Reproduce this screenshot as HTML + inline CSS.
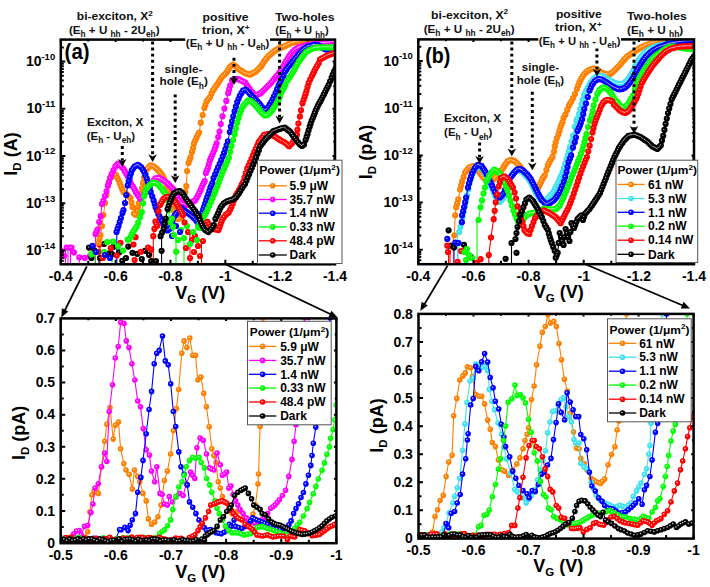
<!DOCTYPE html>
<html><head><meta charset="utf-8"><style>html,body{margin:0;padding:0;background:#fff}svg{display:block}</style></head>
<body><svg width="710" height="587" viewBox="0 0 710 587">
<rect width="710" height="587" fill="#fff"/>
<clipPath id="clipa"><rect x="60.8" y="39.6" width="274.2" height="224.70000000000002"/></clipPath>
<clipPath id="clipb"><rect x="418.3" y="39.4" width="275.7" height="224.79999999999998"/></clipPath>
<clipPath id="clipc"><rect x="60.7" y="318.4" width="275.7" height="224.80000000000007"/></clipPath>
<clipPath id="clipd"><rect x="418.5" y="313.9" width="275.1" height="224.70000000000005"/></clipPath>
<g clip-path="url(#clipa)"><line x1="65.5" y1="250" x2="65.5" y2="264.3" stroke="#FF00FF" stroke-width="1.1"/>
<line x1="68" y1="248" x2="68" y2="264.3" stroke="#FF00FF" stroke-width="1.1"/>
<line x1="70.5" y1="248" x2="70.5" y2="264.3" stroke="#FF00FF" stroke-width="1.1"/>
<line x1="79.3" y1="257" x2="79.3" y2="264.3" stroke="#FF00FF" stroke-width="1.1"/>
<line x1="95.5" y1="232" x2="95.5" y2="264.3" stroke="#FF00FF" stroke-width="1.1"/>
<line x1="116.8" y1="231" x2="116.8" y2="264.3" stroke="#0000FF" stroke-width="1.1"/>
<line x1="153.3" y1="236" x2="153.3" y2="264.3" stroke="#FF0000" stroke-width="1.1"/>
<line x1="201.5" y1="240" x2="201.5" y2="264.3" stroke="#FF0000" stroke-width="1.1"/>
<line x1="100" y1="246" x2="100" y2="264.3" stroke="#FF0000" stroke-width="1.1"/>
<line x1="190" y1="232" x2="190" y2="264.3" stroke="#FF0000" stroke-width="1.1"/>
<line x1="161.6" y1="236" x2="161.6" y2="264.3" stroke="#000000" stroke-width="1.1"/>
<line x1="99" y1="258" x2="99" y2="264.3" stroke="#000000" stroke-width="1.1"/>
<line x1="176" y1="240" x2="176" y2="264.3" stroke="#00FF00" stroke-width="1.1"/>
<line x1="95" y1="250" x2="95" y2="264.3" stroke="#00FF00" stroke-width="1.1"/>
<line x1="112" y1="242" x2="112" y2="264.3" stroke="#00FF00" stroke-width="1.1"/>
<line x1="184" y1="238" x2="184" y2="264.3" stroke="#00FF00" stroke-width="1.1"/>
<path d="M61.2 251.2h0M64.2 256.0h0M66.7 247.6h0M69.7 247.6h0M71.5 247.6h0M73.9 252.4h0M79.3 257.3h0M84.8 257.9h0M90.0 256.0h0M93.0 247.0h0" stroke="#FF00FF" stroke-width="6.2" stroke-linecap="round"/><path d="M60.7 250.7h0M63.7 255.5h0M66.2 247.1h0M69.2 247.1h0M71.0 247.1h0M73.4 251.9h0M78.8 256.8h0M84.3 257.4h0M89.5 255.5h0M92.5 246.5h0" stroke="#fff" stroke-width="1.1" stroke-linecap="round" opacity="0.85"/>
<path d="M89.0 247.6h0M94.5 250.6h0M91.4 257.9h0M104.1 244.0h0M113.2 247.0h0M108.4 253.6h0M112.0 254.2h0M119.2 252.4h0M122.3 260.9h0M128.3 246.6h0M132.5 252.8h0M137.2 253.9h0M141.8 259.1h0M145.0 250.8h0M149.1 254.9h0M151.2 261.2h0M155.9 261.2h0M161.6 250.8h0M100.0 258.0h0M126.0 258.0h0" stroke="#000000" stroke-width="6.2" stroke-linecap="round"/><path d="M88.5 247.1h0M94.0 250.1h0M90.9 257.4h0M103.6 243.5h0M112.7 246.5h0M107.9 253.1h0M111.5 253.7h0M118.7 251.9h0M121.8 260.4h0M127.8 246.1h0M132.0 252.3h0M136.7 253.4h0M141.3 258.6h0M144.5 250.3h0M148.6 254.4h0M150.7 260.7h0M155.4 260.7h0M161.1 250.3h0M99.5 257.5h0M125.5 257.5h0" stroke="#fff" stroke-width="1.1" stroke-linecap="round" opacity="0.85"/>
<path d="M99.3 244.6h0M98.7 251.8h0M102.9 257.9h0M110.8 248.2h0M120.5 242.8h0M116.8 255.5h0M135.6 237.2h0M133.5 244.5h0M134.6 260.1h0M140.8 251.8h0M148.1 247.6h0M151.2 249.7h0M188.0 232.0h0M192.0 240.0h0M186.0 248.0h0M195.0 236.0h0M198.0 246.0h0M200.0 256.0h0M203.0 241.0h0M194.0 252.0h0M190.0 258.0h0" stroke="#FF0000" stroke-width="6.2" stroke-linecap="round"/><path d="M98.8 244.1h0M98.2 251.3h0M102.4 257.4h0M110.3 247.7h0M120.0 242.3h0M116.3 255.0h0M135.1 236.7h0M133.0 244.0h0M134.1 259.6h0M140.3 251.3h0M147.6 247.1h0M150.7 249.2h0M187.5 231.5h0M191.5 239.5h0M185.5 247.5h0M194.5 235.5h0M197.5 245.5h0M199.5 255.5h0M202.5 240.5h0M193.5 251.5h0M189.5 257.5h0" stroke="#fff" stroke-width="1.1" stroke-linecap="round" opacity="0.85"/>
<path d="M91.4 254.2h0M107.2 242.2h0M113.2 241.6h0M122.9 250.6h0M127.7 239.7h0M118.0 246.0h0M104.0 252.0h0M176.2 251.7h0M178.0 240.0h0M181.0 230.0h0M184.0 238.0h0M187.0 226.0h0M190.0 244.0h0M193.0 232.0h0M197.0 240.0h0M200.0 228.0h0" stroke="#00FF00" stroke-width="6.2" stroke-linecap="round"/><path d="M90.9 253.7h0M106.7 241.7h0M112.7 241.1h0M122.4 250.1h0M127.2 239.2h0M117.5 245.5h0M103.5 251.5h0M175.7 251.2h0M177.5 239.5h0M180.5 229.5h0M183.5 237.5h0M186.5 225.5h0M189.5 243.5h0M192.5 231.5h0M196.5 239.5h0M199.5 227.5h0" stroke="#fff" stroke-width="1.1" stroke-linecap="round" opacity="0.85"/>
<path d="M92.6 245.8h0M96.0 252.0h0M105.0 255.0h0M110.0 258.0h0M176.0 226.0h0M180.0 232.0h0M172.0 236.0h0" stroke="#0000FF" stroke-width="6.2" stroke-linecap="round"/><path d="M92.1 245.3h0M95.5 251.5h0M104.5 254.5h0M109.5 257.5h0M175.5 225.5h0M179.5 231.5h0M171.5 235.5h0" stroke="#fff" stroke-width="1.1" stroke-linecap="round" opacity="0.85"/>
<path d="M98.5 243.0L99.5 239.0L100.5 235.0L102.0 226.0L103.5 215.0L105.0 203.0L106.5 195.0L108.0 186.0L109.0 182.0L110.0 178.0L111.5 176.8L113.0 175.5L114.5 175.2L116.0 175.0L117.2 177.5L118.5 180.0L119.8 183.2L121.0 186.5L122.2 189.2L123.5 192.0L124.8 193.0L126.2 194.0L127.5 195.0L129.0 196.5L130.5 198.0L131.5 202.5L132.5 207.0L134.0 213.5L135.0 214.2L136.0 215.0L137.0 211.0L138.0 207.0L139.0 203.0L140.0 199.0L141.0 193.7L142.0 188.3L143.0 182.9L144.0 177.5L145.5 173.2L147.0 169.0L148.2 167.8L149.3 166.6L150.5 165.4L151.7 165.8L152.8 166.2L154.0 166.6L155.3 167.7L156.7 168.9L158.0 170.0L159.2 171.4L160.3 172.7L161.5 174.1L162.8 176.3L164.0 178.5L165.5 182.2L167.0 186.0L168.5 190.5L170.0 195.0L171.2 200.5L172.5 206.0L173.8 210.5L175.0 215.0L176.5 217.0L178.0 219.0L179.5 218.5L181.0 218.0L182.0 214.0L183.0 210.0L184.3 198.0L185.3 192.1L186.3 186.2L187.1 171.0L188.5 163.0L189.7 159.8L190.6 157.3L192.0 152.0L193.1 147.9L194.0 143.6L195.2 140.6L196.5 137.7L197.8 135.1L199.1 132.6L200.8 122.7L202.7 115.0L204.4 108.0L205.5 104.8L206.6 101.5L207.7 100.0L208.9 98.5L210.0 97.0L211.5 93.7L213.0 90.4L214.2 88.8L215.3 87.1L216.4 85.5L217.6 83.8L219.1 81.5L220.5 79.3L222.0 77.0L223.5 75.6L225.0 74.1L226.5 72.7L227.6 70.9L228.7 69.0L229.8 67.2L231.4 65.8L233.0 64.5L234.5 65.5L236.0 66.5L237.3 67.8L238.7 69.0L240.1 70.0L241.6 70.9L243.0 71.8L244.4 72.8L245.8 73.3L247.2 73.8L248.6 74.2L250.0 74.7L251.4 74.0L252.8 73.2L254.2 72.5L255.6 71.8L257.0 70.4L258.4 69.0L259.8 67.6L261.2 66.2L262.5 64.2L263.7 62.3L265.0 60.3L266.1 58.9L267.3 57.5L268.4 56.1L269.7 55.0L270.9 54.0L272.2 52.9L273.5 51.8L274.8 50.9L276.1 50.1L277.3 49.2L278.6 48.4L279.9 48.0L281.2 47.5L282.5 47.1L283.8 46.7L285.1 46.1L286.3 45.4L287.6 44.8L288.8 44.1L290.1 43.6L291.4 43.1L292.7 42.6L294.0 42.4L295.2 42.1L296.5 41.9L297.8 41.6L299.0 41.4L300.3 41.1L301.6 41.0L302.9 40.8L304.1 40.7L305.4 40.6L306.7 40.4L308.0 40.3L309.3 40.2L310.5 40.2L311.8 40.1L313.1 40.1L314.3 40.0L315.6 40.0L316.9 40.0L318.3 40.0L319.6 40.0L321.0 40.0L322.3 40.0L323.7 40.0L325.0 40.0L326.3 40.0L327.7 40.0L329.0 40.0L330.3 40.0L331.7 40.0L333.0 40.0L334.3 40.0L335.7 40.0L337.0 40.0" fill="none" stroke="#FF8000" stroke-width="1.1"/><path d="M98.5 243.0h0M99.5 239.0h0M100.5 235.0h0M102.0 226.0h0M103.5 215.0h0M105.0 203.0h0M106.5 195.0h0M108.0 186.0h0M109.0 182.0h0M110.0 178.0h0M111.5 176.8h0M113.0 175.5h0M114.5 175.2h0M116.0 175.0h0M117.2 177.5h0M118.5 180.0h0M119.8 183.2h0M121.0 186.5h0M122.2 189.2h0M123.5 192.0h0M124.8 193.0h0M126.2 194.0h0M127.5 195.0h0M129.0 196.5h0M130.5 198.0h0M131.5 202.5h0M132.5 207.0h0M134.0 213.5h0M135.0 214.2h0M136.0 215.0h0M137.0 211.0h0M138.0 207.0h0M139.0 203.0h0M140.0 199.0h0M141.0 193.7h0M142.0 188.3h0M143.0 182.9h0M144.0 177.5h0M145.5 173.2h0M147.0 169.0h0M148.2 167.8h0M149.3 166.6h0M150.5 165.4h0M151.7 165.8h0M152.8 166.2h0M154.0 166.6h0M155.3 167.7h0M156.7 168.9h0M158.0 170.0h0M159.2 171.4h0M160.3 172.7h0M161.5 174.1h0M162.8 176.3h0M164.0 178.5h0M165.5 182.2h0M167.0 186.0h0M168.5 190.5h0M170.0 195.0h0M171.2 200.5h0M172.5 206.0h0M173.8 210.5h0M175.0 215.0h0M176.5 217.0h0M178.0 219.0h0M179.5 218.5h0M181.0 218.0h0M182.0 214.0h0M183.0 210.0h0M184.3 198.0h0M185.3 192.1h0M186.3 186.2h0M187.1 171.0h0M188.5 163.0h0M189.7 159.8h0M190.6 157.3h0M192.0 152.0h0M193.1 147.9h0M194.0 143.6h0M195.2 140.6h0M196.5 137.7h0M197.8 135.1h0M199.1 132.6h0M200.8 122.7h0M202.7 115.0h0M204.4 108.0h0M205.5 104.8h0M206.6 101.5h0M207.7 100.0h0M208.9 98.5h0M210.0 97.0h0M211.5 93.7h0M213.0 90.4h0M214.2 88.8h0M215.3 87.1h0M216.4 85.5h0M217.6 83.8h0M219.1 81.5h0M220.5 79.3h0M222.0 77.0h0M223.5 75.6h0M225.0 74.1h0M226.5 72.7h0M227.6 70.9h0M228.7 69.0h0M229.8 67.2h0M231.4 65.8h0M233.0 64.5h0M234.5 65.5h0M236.0 66.5h0M237.3 67.8h0M238.7 69.0h0M240.1 70.0h0M241.6 70.9h0M243.0 71.8h0M244.4 72.8h0M245.8 73.3h0M247.2 73.8h0M248.6 74.2h0M250.0 74.7h0M251.4 74.0h0M252.8 73.2h0M254.2 72.5h0M255.6 71.8h0M257.0 70.4h0M258.4 69.0h0M259.8 67.6h0M261.2 66.2h0M262.5 64.2h0M263.7 62.3h0M265.0 60.3h0M266.1 58.9h0M267.3 57.5h0M268.4 56.1h0M269.7 55.0h0M270.9 54.0h0M272.2 52.9h0M273.5 51.8h0M274.8 50.9h0M276.1 50.1h0M277.3 49.2h0M278.6 48.4h0M279.9 48.0h0M281.2 47.5h0M282.5 47.1h0M283.8 46.7h0M285.1 46.1h0M286.3 45.4h0M287.6 44.8h0M288.8 44.1h0M290.1 43.6h0M291.4 43.1h0M292.7 42.6h0M294.0 42.4h0M295.2 42.1h0M296.5 41.9h0M297.8 41.6h0M299.0 41.4h0M300.3 41.1h0M301.6 41.0h0M302.9 40.8h0M304.1 40.7h0M305.4 40.6h0M306.7 40.4h0M308.0 40.3h0M309.3 40.2h0M310.5 40.2h0M311.8 40.1h0M313.1 40.1h0M314.3 40.0h0M315.6 40.0h0M316.9 40.0h0M318.3 40.0h0M319.6 40.0h0M321.0 40.0h0M322.3 40.0h0M323.7 40.0h0M325.0 40.0h0M326.3 40.0h0M327.7 40.0h0M329.0 40.0h0M330.3 40.0h0M331.7 40.0h0M333.0 40.0h0M334.3 40.0h0M335.7 40.0h0M337.0 40.0h0" stroke="#FF8000" stroke-width="6.2" stroke-linecap="round"/><path d="M98.0 242.5h0M99.0 238.5h0M100.0 234.5h0M101.5 225.5h0M103.0 214.5h0M104.5 202.5h0M106.0 194.5h0M107.5 185.5h0M108.5 181.5h0M109.5 177.5h0M111.0 176.2h0M112.5 175.0h0M114.0 174.8h0M115.5 174.5h0M116.8 177.0h0M118.0 179.5h0M119.2 182.8h0M120.5 186.0h0M121.8 188.8h0M123.0 191.5h0M124.3 192.5h0M125.7 193.5h0M127.0 194.5h0M128.5 196.0h0M130.0 197.5h0M131.0 202.0h0M132.0 206.5h0M133.5 213.0h0M134.5 213.8h0M135.5 214.5h0M136.5 210.5h0M137.5 206.5h0M138.5 202.5h0M139.5 198.5h0M140.5 193.2h0M141.5 187.8h0M142.5 182.4h0M143.5 177.0h0M145.0 172.8h0M146.5 168.5h0M147.7 167.3h0M148.8 166.1h0M150.0 164.9h0M151.2 165.3h0M152.3 165.7h0M153.5 166.1h0M154.8 167.2h0M156.2 168.4h0M157.5 169.5h0M158.7 170.9h0M159.8 172.2h0M161.0 173.6h0M162.2 175.8h0M163.5 178.0h0M165.0 181.8h0M166.5 185.5h0M168.0 190.0h0M169.5 194.5h0M170.8 200.0h0M172.0 205.5h0M173.2 210.0h0M174.5 214.5h0M176.0 216.5h0M177.5 218.5h0M179.0 218.0h0M180.5 217.5h0M181.5 213.5h0M182.5 209.5h0M183.8 197.5h0M184.8 191.6h0M185.8 185.7h0M186.6 170.5h0M188.0 162.5h0M189.2 159.3h0M190.1 156.8h0M191.5 151.5h0M192.6 147.4h0M193.5 143.1h0M194.8 140.1h0M196.0 137.2h0M197.3 134.6h0M198.6 132.1h0M200.3 122.2h0M202.2 114.5h0M203.9 107.5h0M205.0 104.2h0M206.1 101.0h0M207.2 99.5h0M208.4 98.0h0M209.5 96.5h0M211.0 93.2h0M212.5 89.9h0M213.7 88.2h0M214.8 86.6h0M215.9 85.0h0M217.1 83.3h0M218.6 81.0h0M220.0 78.8h0M221.5 76.5h0M223.0 75.1h0M224.5 73.6h0M226.0 72.2h0M227.1 70.4h0M228.2 68.5h0M229.3 66.7h0M230.9 65.3h0M232.5 64.0h0M234.0 65.0h0M235.5 66.0h0M236.8 67.2h0M238.2 68.5h0M239.6 69.5h0M241.1 70.4h0M242.5 71.3h0M243.9 72.3h0M245.3 72.8h0M246.7 73.2h0M248.1 73.7h0M249.5 74.2h0M250.9 73.5h0M252.3 72.8h0M253.7 72.0h0M255.1 71.3h0M256.5 69.9h0M257.9 68.5h0M259.3 67.1h0M260.7 65.7h0M262.0 63.7h0M263.2 61.8h0M264.5 59.8h0M265.6 58.4h0M266.8 57.0h0M267.9 55.6h0M269.2 54.5h0M270.4 53.5h0M271.7 52.4h0M273.0 51.3h0M274.3 50.4h0M275.6 49.6h0M276.8 48.8h0M278.1 47.9h0M279.4 47.5h0M280.7 47.0h0M282.0 46.6h0M283.3 46.2h0M284.6 45.6h0M285.8 44.9h0M287.1 44.2h0M288.3 43.6h0M289.6 43.1h0M290.9 42.6h0M292.2 42.1h0M293.5 41.9h0M294.7 41.6h0M296.0 41.4h0M297.3 41.1h0M298.5 40.9h0M299.8 40.6h0M301.1 40.5h0M302.4 40.3h0M303.6 40.2h0M304.9 40.1h0M306.2 39.9h0M307.5 39.8h0M308.8 39.8h0M310.0 39.7h0M311.3 39.6h0M312.6 39.6h0M313.8 39.5h0M315.1 39.5h0M316.4 39.5h0M317.8 39.5h0M319.1 39.5h0M320.5 39.5h0M321.8 39.5h0M323.2 39.5h0M324.5 39.5h0M325.8 39.5h0M327.2 39.5h0M328.5 39.5h0M329.8 39.5h0M331.2 39.5h0M332.5 39.5h0M333.8 39.5h0M335.2 39.5h0M336.5 39.5h0" stroke="#fff" stroke-width="1.1" stroke-linecap="round" opacity="0.85"/>
<path d="M95.5 234.0L96.5 231.8L97.6 229.6L99.2 222.0L100.7 216.2L102.0 204.0L103.3 200.9L105.0 196.0L106.5 191.3L107.8 185.5L109.0 182.3L110.3 177.9L111.6 174.0L113.5 170.2L115.4 166.4L116.8 165.0L118.1 163.6L119.5 164.8L120.9 166.0L122.2 167.5L123.6 169.0L124.9 171.4L126.3 173.8L127.7 176.2L129.0 178.6L130.1 181.3L131.1 184.0L132.4 186.1L133.8 188.1L134.9 190.1L135.9 192.2L137.2 194.2L138.6 196.3L140.5 199.0L141.8 197.5L143.0 196.0L144.3 194.3L145.7 192.7L147.0 191.0L148.3 188.7L149.7 186.3L151.0 184.0L152.4 182.1L153.9 180.3L155.3 178.4L156.5 178.2L157.7 178.1L158.9 177.9L160.1 178.6L161.3 179.2L162.5 179.9L163.9 180.8L165.2 181.6L166.6 182.5L168.0 183.9L169.3 185.2L170.7 186.6L172.2 188.1L173.7 189.7L174.8 191.8L176.0 194.0L177.5 197.0L179.0 200.0L180.3 201.3L181.7 202.7L183.0 204.0L184.3 204.3L185.7 204.7L187.0 205.0L188.5 204.5L190.0 204.0L191.0 203.0L192.0 202.0L193.5 201.2L195.0 200.4L196.6 197.9L198.1 195.3L199.3 192.8L200.6 190.2L201.6 187.6L202.7 185.1L203.7 183.1L204.7 181.0L205.9 173.0L206.9 170.4L207.9 167.9L208.9 164.3L209.9 160.7L210.9 158.1L212.0 155.6L213.3 152.5L214.6 149.4L215.6 146.4L216.6 143.3L218.2 137.0L219.5 131.6L220.8 124.0L222.5 116.3L224.4 108.6L226.3 100.9L228.2 93.2L229.2 89.4L230.2 85.6L232.1 80.5L233.3 79.8L234.6 79.2L235.9 79.2L237.2 79.2L238.5 79.2L239.8 79.8L241.0 80.5L242.3 81.1L243.7 81.8L245.0 82.4L246.6 84.6L248.1 86.8L249.6 88.9L251.0 91.0L252.5 92.5L254.0 94.0L255.5 94.5L257.0 95.0L258.3 94.3L259.7 93.7L261.0 93.0L262.4 91.5L263.9 90.0L265.4 88.5L266.9 87.1L268.4 85.6L269.9 84.1L271.4 82.3L272.9 80.5L274.4 78.7L275.9 76.9L277.4 75.1L278.9 73.3L280.2 71.5L281.5 69.8L282.7 67.6L283.8 65.5L285.0 63.3L286.1 61.3L287.3 59.4L288.5 57.5L289.6 55.6L291.1 53.7L292.7 51.8L294.0 50.8L295.2 49.7L296.5 48.7L297.8 48.1L299.0 47.4L300.3 46.8L301.5 46.5L302.7 46.2L304.0 45.9L305.2 45.6L306.4 45.3L307.8 45.1L309.1 44.9L310.4 44.7L311.8 44.5L313.2 44.3L314.5 44.1L315.9 44.0L317.3 43.8L318.6 43.6L320.0 43.4L321.2 43.3L322.5 43.1L323.8 43.0L325.0 42.9L326.2 42.8L327.5 42.6L328.8 42.5L330.0 42.4L331.4 42.2L332.8 42.0L334.2 41.9L335.6 41.7L337.0 41.5" fill="none" stroke="#FF00FF" stroke-width="1.1"/><path d="M95.5 234.0h0M96.5 231.8h0M97.6 229.6h0M99.2 222.0h0M100.7 216.2h0M102.0 204.0h0M103.3 200.9h0M105.0 196.0h0M106.5 191.3h0M107.8 185.5h0M109.0 182.3h0M110.3 177.9h0M111.6 174.0h0M113.5 170.2h0M115.4 166.4h0M116.8 165.0h0M118.1 163.6h0M119.5 164.8h0M120.9 166.0h0M122.2 167.5h0M123.6 169.0h0M124.9 171.4h0M126.3 173.8h0M127.7 176.2h0M129.0 178.6h0M130.1 181.3h0M131.1 184.0h0M132.4 186.1h0M133.8 188.1h0M134.9 190.1h0M135.9 192.2h0M137.2 194.2h0M138.6 196.3h0M140.5 199.0h0M141.8 197.5h0M143.0 196.0h0M144.3 194.3h0M145.7 192.7h0M147.0 191.0h0M148.3 188.7h0M149.7 186.3h0M151.0 184.0h0M152.4 182.1h0M153.9 180.3h0M155.3 178.4h0M156.5 178.2h0M157.7 178.1h0M158.9 177.9h0M160.1 178.6h0M161.3 179.2h0M162.5 179.9h0M163.9 180.8h0M165.2 181.6h0M166.6 182.5h0M168.0 183.9h0M169.3 185.2h0M170.7 186.6h0M172.2 188.1h0M173.7 189.7h0M174.8 191.8h0M176.0 194.0h0M177.5 197.0h0M179.0 200.0h0M180.3 201.3h0M181.7 202.7h0M183.0 204.0h0M184.3 204.3h0M185.7 204.7h0M187.0 205.0h0M188.5 204.5h0M190.0 204.0h0M191.0 203.0h0M192.0 202.0h0M193.5 201.2h0M195.0 200.4h0M196.6 197.9h0M198.1 195.3h0M199.3 192.8h0M200.6 190.2h0M201.6 187.6h0M202.7 185.1h0M203.7 183.1h0M204.7 181.0h0M205.9 173.0h0M206.9 170.4h0M207.9 167.9h0M208.9 164.3h0M209.9 160.7h0M210.9 158.1h0M212.0 155.6h0M213.3 152.5h0M214.6 149.4h0M215.6 146.4h0M216.6 143.3h0M218.2 137.0h0M219.5 131.6h0M220.8 124.0h0M222.5 116.3h0M224.4 108.6h0M226.3 100.9h0M228.2 93.2h0M229.2 89.4h0M230.2 85.6h0M232.1 80.5h0M233.3 79.8h0M234.6 79.2h0M235.9 79.2h0M237.2 79.2h0M238.5 79.2h0M239.8 79.8h0M241.0 80.5h0M242.3 81.1h0M243.7 81.8h0M245.0 82.4h0M246.6 84.6h0M248.1 86.8h0M249.6 88.9h0M251.0 91.0h0M252.5 92.5h0M254.0 94.0h0M255.5 94.5h0M257.0 95.0h0M258.3 94.3h0M259.7 93.7h0M261.0 93.0h0M262.4 91.5h0M263.9 90.0h0M265.4 88.5h0M266.9 87.1h0M268.4 85.6h0M269.9 84.1h0M271.4 82.3h0M272.9 80.5h0M274.4 78.7h0M275.9 76.9h0M277.4 75.1h0M278.9 73.3h0M280.2 71.5h0M281.5 69.8h0M282.7 67.6h0M283.8 65.5h0M285.0 63.3h0M286.1 61.3h0M287.3 59.4h0M288.5 57.5h0M289.6 55.6h0M291.1 53.7h0M292.7 51.8h0M294.0 50.8h0M295.2 49.7h0M296.5 48.7h0M297.8 48.1h0M299.0 47.4h0M300.3 46.8h0M301.5 46.5h0M302.7 46.2h0M304.0 45.9h0M305.2 45.6h0M306.4 45.3h0M307.8 45.1h0M309.1 44.9h0M310.4 44.7h0M311.8 44.5h0M313.2 44.3h0M314.5 44.1h0M315.9 44.0h0M317.3 43.8h0M318.6 43.6h0M320.0 43.4h0M321.2 43.3h0M322.5 43.1h0M323.8 43.0h0M325.0 42.9h0M326.2 42.8h0M327.5 42.6h0M328.8 42.5h0M330.0 42.4h0M331.4 42.2h0M332.8 42.0h0M334.2 41.9h0M335.6 41.7h0M337.0 41.5h0" stroke="#FF00FF" stroke-width="6.2" stroke-linecap="round"/><path d="M95.0 233.5h0M96.0 231.3h0M97.1 229.1h0M98.7 221.5h0M100.2 215.7h0M101.5 203.5h0M102.8 200.4h0M104.5 195.5h0M106.0 190.8h0M107.3 185.0h0M108.5 181.8h0M109.8 177.4h0M111.1 173.5h0M113.0 169.7h0M114.9 165.9h0M116.2 164.5h0M117.6 163.1h0M119.0 164.3h0M120.4 165.5h0M121.8 167.0h0M123.1 168.5h0M124.4 170.9h0M125.8 173.3h0M127.2 175.7h0M128.5 178.1h0M129.6 180.8h0M130.6 183.5h0M131.9 185.6h0M133.3 187.6h0M134.4 189.6h0M135.4 191.7h0M136.8 193.8h0M138.1 195.8h0M140.0 198.5h0M141.2 197.0h0M142.5 195.5h0M143.8 193.8h0M145.2 192.2h0M146.5 190.5h0M147.8 188.2h0M149.2 185.8h0M150.5 183.5h0M151.9 181.6h0M153.4 179.8h0M154.8 177.9h0M156.0 177.7h0M157.2 177.6h0M158.4 177.4h0M159.6 178.1h0M160.8 178.7h0M162.0 179.4h0M163.4 180.3h0M164.7 181.1h0M166.1 182.0h0M167.5 183.4h0M168.8 184.7h0M170.2 186.1h0M171.7 187.6h0M173.2 189.2h0M174.3 191.3h0M175.5 193.5h0M177.0 196.5h0M178.5 199.5h0M179.8 200.8h0M181.2 202.2h0M182.5 203.5h0M183.8 203.8h0M185.2 204.2h0M186.5 204.5h0M188.0 204.0h0M189.5 203.5h0M190.5 202.5h0M191.5 201.5h0M193.0 200.7h0M194.5 199.9h0M196.1 197.4h0M197.6 194.8h0M198.8 192.2h0M200.1 189.7h0M201.1 187.1h0M202.2 184.6h0M203.2 182.6h0M204.2 180.5h0M205.4 172.5h0M206.4 169.9h0M207.4 167.4h0M208.4 163.8h0M209.4 160.2h0M210.4 157.6h0M211.5 155.1h0M212.8 152.0h0M214.1 148.9h0M215.1 145.9h0M216.1 142.8h0M217.7 136.5h0M219.0 131.1h0M220.3 123.5h0M222.0 115.8h0M223.9 108.1h0M225.8 100.4h0M227.7 92.7h0M228.7 88.9h0M229.7 85.1h0M231.6 80.0h0M232.8 79.3h0M234.1 78.7h0M235.4 78.7h0M236.7 78.7h0M238.0 78.7h0M239.3 79.3h0M240.5 80.0h0M241.8 80.6h0M243.2 81.2h0M244.5 81.9h0M246.1 84.1h0M247.6 86.3h0M249.1 88.4h0M250.5 90.5h0M252.0 92.0h0M253.5 93.5h0M255.0 94.0h0M256.5 94.5h0M257.8 93.8h0M259.2 93.2h0M260.5 92.5h0M261.9 91.0h0M263.4 89.5h0M264.9 88.0h0M266.4 86.6h0M267.9 85.1h0M269.4 83.6h0M270.9 81.8h0M272.4 80.0h0M273.9 78.2h0M275.4 76.4h0M276.9 74.6h0M278.4 72.8h0M279.7 71.0h0M281.0 69.3h0M282.2 67.1h0M283.3 65.0h0M284.5 62.8h0M285.6 60.8h0M286.8 58.9h0M288.0 57.0h0M289.1 55.1h0M290.6 53.2h0M292.2 51.3h0M293.5 50.3h0M294.7 49.2h0M296.0 48.2h0M297.3 47.6h0M298.5 46.9h0M299.8 46.3h0M301.0 46.0h0M302.2 45.7h0M303.5 45.4h0M304.7 45.1h0M305.9 44.8h0M307.2 44.6h0M308.6 44.4h0M309.9 44.2h0M311.3 44.0h0M312.7 43.8h0M314.0 43.6h0M315.4 43.5h0M316.8 43.3h0M318.1 43.1h0M319.5 42.9h0M320.8 42.8h0M322.0 42.6h0M323.2 42.5h0M324.5 42.4h0M325.8 42.3h0M327.0 42.1h0M328.2 42.0h0M329.5 41.9h0M330.9 41.7h0M332.3 41.5h0M333.7 41.4h0M335.1 41.2h0M336.5 41.0h0" stroke="#fff" stroke-width="1.1" stroke-linecap="round" opacity="0.85"/>
<path d="M116.5 232.0L117.5 229.0L118.5 226.0L119.7 222.0L120.9 218.0L122.5 213.0L123.5 210.0L125.0 203.0L126.3 195.0L127.7 185.4L128.7 181.3L129.7 177.2L130.8 173.8L131.8 170.4L133.2 168.6L134.5 166.7L135.6 166.1L136.8 165.4L137.9 164.8L139.0 165.6L140.2 166.5L141.3 167.3L142.7 169.6L144.0 171.8L145.4 175.2L146.8 178.6L147.8 182.0L148.8 185.4L149.8 188.8L150.8 192.2L152.2 196.3L153.6 200.4L154.6 203.8L155.6 207.2L156.9 210.6L158.3 214.0L159.4 216.2L160.4 218.3L161.8 221.1L163.3 224.0L164.7 226.8L166.1 228.6L167.4 230.4L168.8 229.5L170.1 228.6L171.3 224.7L172.5 220.9L173.7 217.0L174.9 215.4L176.1 213.9L177.3 212.3L178.8 210.9L180.2 209.4L181.7 208.0L183.1 209.3L184.6 210.7L186.1 211.7L187.5 212.7L189.0 213.7L190.2 214.8L191.5 215.8L192.8 216.9L194.0 218.0L195.4 219.6L196.7 221.3L198.1 222.9L200.0 217.0L201.1 214.8L202.2 212.7L203.2 209.6L204.2 206.6L205.2 203.5L206.2 200.4L207.2 197.4L208.3 194.3L209.4 190.9L210.4 187.5L211.4 185.3L212.4 183.1L213.5 178.1L215.1 174.5L216.6 170.9L218.1 167.4L219.7 163.8L221.2 160.2L222.7 156.6L224.0 153.0L225.3 149.4L226.6 145.4L227.9 141.3L229.8 132.0L230.9 126.7L232.1 121.4L233.3 116.3L234.6 111.2L235.9 106.7L237.2 102.2L238.5 99.0L239.8 95.8L241.4 93.2L243.0 90.7L244.2 90.1L245.5 89.5L246.8 90.5L248.0 91.5L249.0 92.8L250.0 94.0L251.5 95.5L253.0 97.0L254.5 98.5L256.0 100.0L257.5 101.5L259.0 103.0L260.5 105.0L262.0 107.0L263.5 108.7L265.0 110.3L266.1 109.7L267.3 109.0L268.5 106.8L269.7 104.7L271.2 102.0L272.7 99.3L274.1 96.0L275.6 92.8L277.1 89.2L278.6 85.5L279.6 83.6L280.6 81.7L282.1 78.7L283.6 75.7L285.0 71.7L286.3 69.9L287.5 68.1L288.8 66.3L290.1 64.8L291.4 63.2L292.7 61.7L294.0 60.2L295.2 58.6L296.5 57.1L297.8 55.6L299.0 54.0L300.3 52.5L301.6 51.2L302.8 50.0L304.1 48.7L305.4 47.9L306.7 47.2L308.0 46.4L309.2 46.1L310.4 45.8L311.7 45.5L312.9 45.2L314.1 44.9L315.4 44.9L316.7 45.0L318.0 45.0L319.3 45.8L320.7 46.7L322.0 47.5L323.3 48.2L324.7 48.9L326.0 49.6L327.4 49.7L328.8 49.8L330.1 49.8L331.5 49.9L332.9 50.0L334.2 50.1L335.6 50.1L337.0 50.2" fill="none" stroke="#0000FF" stroke-width="1.1"/><path d="M116.5 232.0h0M117.5 229.0h0M118.5 226.0h0M119.7 222.0h0M120.9 218.0h0M122.5 213.0h0M123.5 210.0h0M125.0 203.0h0M126.3 195.0h0M127.7 185.4h0M128.7 181.3h0M129.7 177.2h0M130.8 173.8h0M131.8 170.4h0M133.2 168.6h0M134.5 166.7h0M135.6 166.1h0M136.8 165.4h0M137.9 164.8h0M139.0 165.6h0M140.2 166.5h0M141.3 167.3h0M142.7 169.6h0M144.0 171.8h0M145.4 175.2h0M146.8 178.6h0M147.8 182.0h0M148.8 185.4h0M149.8 188.8h0M150.8 192.2h0M152.2 196.3h0M153.6 200.4h0M154.6 203.8h0M155.6 207.2h0M156.9 210.6h0M158.3 214.0h0M159.4 216.2h0M160.4 218.3h0M161.8 221.1h0M163.3 224.0h0M164.7 226.8h0M166.1 228.6h0M167.4 230.4h0M168.8 229.5h0M170.1 228.6h0M171.3 224.7h0M172.5 220.9h0M173.7 217.0h0M174.9 215.4h0M176.1 213.9h0M177.3 212.3h0M178.8 210.9h0M180.2 209.4h0M181.7 208.0h0M183.1 209.3h0M184.6 210.7h0M186.1 211.7h0M187.5 212.7h0M189.0 213.7h0M190.2 214.8h0M191.5 215.8h0M192.8 216.9h0M194.0 218.0h0M195.4 219.6h0M196.7 221.3h0M198.1 222.9h0M200.0 217.0h0M201.1 214.8h0M202.2 212.7h0M203.2 209.6h0M204.2 206.6h0M205.2 203.5h0M206.2 200.4h0M207.2 197.4h0M208.3 194.3h0M209.4 190.9h0M210.4 187.5h0M211.4 185.3h0M212.4 183.1h0M213.5 178.1h0M215.1 174.5h0M216.6 170.9h0M218.1 167.4h0M219.7 163.8h0M221.2 160.2h0M222.7 156.6h0M224.0 153.0h0M225.3 149.4h0M226.6 145.4h0M227.9 141.3h0M229.8 132.0h0M230.9 126.7h0M232.1 121.4h0M233.3 116.3h0M234.6 111.2h0M235.9 106.7h0M237.2 102.2h0M238.5 99.0h0M239.8 95.8h0M241.4 93.2h0M243.0 90.7h0M244.2 90.1h0M245.5 89.5h0M246.8 90.5h0M248.0 91.5h0M249.0 92.8h0M250.0 94.0h0M251.5 95.5h0M253.0 97.0h0M254.5 98.5h0M256.0 100.0h0M257.5 101.5h0M259.0 103.0h0M260.5 105.0h0M262.0 107.0h0M263.5 108.7h0M265.0 110.3h0M266.1 109.7h0M267.3 109.0h0M268.5 106.8h0M269.7 104.7h0M271.2 102.0h0M272.7 99.3h0M274.1 96.0h0M275.6 92.8h0M277.1 89.2h0M278.6 85.5h0M279.6 83.6h0M280.6 81.7h0M282.1 78.7h0M283.6 75.7h0M285.0 71.7h0M286.3 69.9h0M287.5 68.1h0M288.8 66.3h0M290.1 64.8h0M291.4 63.2h0M292.7 61.7h0M294.0 60.2h0M295.2 58.6h0M296.5 57.1h0M297.8 55.6h0M299.0 54.0h0M300.3 52.5h0M301.6 51.2h0M302.8 50.0h0M304.1 48.7h0M305.4 47.9h0M306.7 47.2h0M308.0 46.4h0M309.2 46.1h0M310.4 45.8h0M311.7 45.5h0M312.9 45.2h0M314.1 44.9h0M315.4 44.9h0M316.7 45.0h0M318.0 45.0h0M319.3 45.8h0M320.7 46.7h0M322.0 47.5h0M323.3 48.2h0M324.7 48.9h0M326.0 49.6h0M327.4 49.7h0M328.8 49.8h0M330.1 49.8h0M331.5 49.9h0M332.9 50.0h0M334.2 50.1h0M335.6 50.1h0M337.0 50.2h0" stroke="#0000FF" stroke-width="6.2" stroke-linecap="round"/><path d="M116.0 231.5h0M117.0 228.5h0M118.0 225.5h0M119.2 221.5h0M120.4 217.5h0M122.0 212.5h0M123.0 209.5h0M124.5 202.5h0M125.8 194.5h0M127.2 184.9h0M128.2 180.8h0M129.2 176.7h0M130.2 173.3h0M131.3 169.9h0M132.7 168.1h0M134.0 166.2h0M135.1 165.6h0M136.3 164.9h0M137.4 164.3h0M138.5 165.1h0M139.7 166.0h0M140.8 166.8h0M142.2 169.1h0M143.5 171.3h0M144.9 174.7h0M146.3 178.1h0M147.3 181.5h0M148.3 184.9h0M149.3 188.3h0M150.3 191.7h0M151.7 195.8h0M153.1 199.9h0M154.1 203.3h0M155.1 206.7h0M156.4 210.1h0M157.8 213.5h0M158.9 215.7h0M159.9 217.8h0M161.3 220.6h0M162.8 223.5h0M164.2 226.3h0M165.6 228.1h0M166.9 229.9h0M168.2 229.0h0M169.6 228.1h0M170.8 224.2h0M172.0 220.4h0M173.2 216.5h0M174.4 214.9h0M175.6 213.4h0M176.8 211.8h0M178.3 210.4h0M179.7 208.9h0M181.2 207.5h0M182.6 208.8h0M184.1 210.2h0M185.6 211.2h0M187.0 212.2h0M188.5 213.2h0M189.8 214.3h0M191.0 215.3h0M192.2 216.4h0M193.5 217.5h0M194.9 219.1h0M196.2 220.8h0M197.6 222.4h0M199.5 216.5h0M200.6 214.3h0M201.7 212.2h0M202.7 209.1h0M203.7 206.1h0M204.7 203.0h0M205.7 199.9h0M206.8 196.9h0M207.8 193.8h0M208.9 190.4h0M209.9 187.0h0M210.9 184.8h0M211.9 182.6h0M213.0 177.6h0M214.6 174.0h0M216.1 170.4h0M217.6 166.9h0M219.2 163.3h0M220.7 159.7h0M222.2 156.1h0M223.5 152.5h0M224.8 148.9h0M226.1 144.9h0M227.4 140.8h0M229.3 131.5h0M230.4 126.2h0M231.6 120.9h0M232.8 115.8h0M234.1 110.7h0M235.4 106.2h0M236.7 101.7h0M238.0 98.5h0M239.3 95.3h0M240.9 92.8h0M242.5 90.2h0M243.8 89.6h0M245.0 89.0h0M246.2 90.0h0M247.5 91.0h0M248.5 92.2h0M249.5 93.5h0M251.0 95.0h0M252.5 96.5h0M254.0 98.0h0M255.5 99.5h0M257.0 101.0h0M258.5 102.5h0M260.0 104.5h0M261.5 106.5h0M263.0 108.2h0M264.5 109.8h0M265.6 109.2h0M266.8 108.5h0M268.0 106.3h0M269.2 104.2h0M270.7 101.5h0M272.2 98.8h0M273.6 95.5h0M275.1 92.3h0M276.6 88.7h0M278.1 85.0h0M279.1 83.1h0M280.1 81.2h0M281.6 78.2h0M283.1 75.2h0M284.5 71.2h0M285.8 69.4h0M287.0 67.6h0M288.3 65.8h0M289.6 64.3h0M290.9 62.7h0M292.2 61.2h0M293.5 59.7h0M294.7 58.1h0M296.0 56.6h0M297.3 55.1h0M298.5 53.5h0M299.8 52.0h0M301.1 50.7h0M302.3 49.5h0M303.6 48.2h0M304.9 47.4h0M306.2 46.7h0M307.5 45.9h0M308.7 45.6h0M309.9 45.3h0M311.2 45.0h0M312.4 44.7h0M313.6 44.4h0M314.9 44.4h0M316.2 44.5h0M317.5 44.5h0M318.8 45.3h0M320.2 46.2h0M321.5 47.0h0M322.8 47.7h0M324.2 48.4h0M325.5 49.1h0M326.9 49.2h0M328.2 49.2h0M329.6 49.3h0M331.0 49.4h0M332.4 49.5h0M333.8 49.6h0M335.1 49.6h0M336.5 49.7h0" stroke="#fff" stroke-width="1.1" stroke-linecap="round" opacity="0.85"/>
<path d="M129.4 239.3L130.6 236.9L131.8 234.4L133.0 232.0L134.2 230.3L135.4 228.5L136.6 226.8L138.2 222.7L140.0 217.2L141.8 212.2L143.1 203.3L144.1 196.2L145.1 192.8L146.1 189.3L147.6 187.4L149.2 185.5L150.8 184.2L152.3 182.8L153.8 182.9L155.3 182.9L156.9 183.7L158.4 184.5L159.9 186.4L161.5 188.3L162.5 189.8L163.5 191.2L164.6 192.6L165.6 194.0L167.0 200.1L168.5 210.0L170.0 222.0L171.0 220.2L172.0 218.5L173.0 226.8L174.0 235.0" fill="none" stroke="#00FF00" stroke-width="1.1"/><path d="M129.4 239.3h0M130.6 236.9h0M131.8 234.4h0M133.0 232.0h0M134.2 230.3h0M135.4 228.5h0M136.6 226.8h0M138.2 222.7h0M140.0 217.2h0M141.8 212.2h0M143.1 203.3h0M144.1 196.2h0M145.1 192.8h0M146.1 189.3h0M147.6 187.4h0M149.2 185.5h0M150.8 184.2h0M152.3 182.8h0M153.8 182.9h0M155.3 182.9h0M156.9 183.7h0M158.4 184.5h0M159.9 186.4h0M161.5 188.3h0M162.5 189.8h0M163.5 191.2h0M164.6 192.6h0M165.6 194.0h0M167.0 200.1h0M168.5 210.0h0M170.0 222.0h0M171.0 220.2h0M172.0 218.5h0M173.0 226.8h0M174.0 235.0h0" stroke="#00FF00" stroke-width="6.2" stroke-linecap="round"/><path d="M128.9 238.8h0M130.1 236.4h0M131.3 233.9h0M132.5 231.5h0M133.7 229.8h0M134.9 228.0h0M136.1 226.3h0M137.7 222.2h0M139.5 216.7h0M141.3 211.7h0M142.6 202.8h0M143.6 195.7h0M144.6 192.2h0M145.6 188.8h0M147.1 186.9h0M148.7 185.0h0M150.2 183.7h0M151.8 182.3h0M153.3 182.4h0M154.8 182.4h0M156.4 183.2h0M157.9 184.0h0M159.4 185.9h0M161.0 187.8h0M162.0 189.2h0M163.0 190.7h0M164.1 192.1h0M165.1 193.5h0M166.5 199.6h0M168.0 209.5h0M169.5 221.5h0M170.5 219.8h0M171.5 218.0h0M172.5 226.2h0M173.5 234.5h0" stroke="#fff" stroke-width="1.1" stroke-linecap="round" opacity="0.85"/>
<path d="M198.1 227.0L199.4 224.7L200.7 222.3L202.0 220.0L203.4 217.6L204.8 215.1L206.2 212.7L207.8 209.1L209.3 205.6L210.9 202.0L212.4 198.4L213.9 194.8L215.4 191.2L216.4 188.6L217.5 186.0L218.8 182.5L220.0 179.0L221.3 175.4L222.7 171.9L224.2 168.4L225.8 164.8L227.4 161.2L228.9 157.6L230.2 151.8L231.5 146.0L233.1 140.1L234.6 134.2L235.9 128.4L237.2 122.7L238.5 118.2L239.8 113.7L241.1 110.5L242.3 107.3L243.7 105.4L245.0 103.5L246.6 101.9L248.1 100.3L250.0 100.5L251.5 101.7L253.0 102.9L254.5 104.4L256.0 105.9L257.4 107.7L258.9 109.4L260.4 111.2L261.9 113.0L263.4 114.2L264.9 115.4L266.4 115.1L267.9 114.8L269.4 113.3L270.9 111.8L272.4 109.8L273.9 107.7L275.4 105.3L276.8 102.9L278.3 99.9L279.8 96.9L281.2 92.7L282.6 90.1L284.1 87.6L285.5 85.0L287.3 80.8L288.5 79.0L289.7 77.3L291.1 75.0L292.6 72.8L294.0 70.5L295.0 68.5L296.0 66.5L297.4 64.1L298.8 61.7L300.1 59.9L301.3 58.2L302.6 56.4L303.9 54.9L305.1 53.3L306.4 51.8L307.7 51.0L309.0 50.3L310.3 49.5L311.6 49.0L312.8 48.5L314.1 48.0L315.3 47.9L316.5 47.7L317.6 47.6L318.8 47.4L320.0 47.3L321.3 47.3L322.6 47.3L323.9 47.3L325.2 47.3L326.5 47.3L327.8 47.3L329.2 47.3L330.5 47.3L331.8 47.3L333.1 47.3L334.4 47.3L335.7 47.3L337.0 47.3" fill="none" stroke="#00FF00" stroke-width="1.1"/><path d="M198.1 227.0h0M199.4 224.7h0M200.7 222.3h0M202.0 220.0h0M203.4 217.6h0M204.8 215.1h0M206.2 212.7h0M207.8 209.1h0M209.3 205.6h0M210.9 202.0h0M212.4 198.4h0M213.9 194.8h0M215.4 191.2h0M216.4 188.6h0M217.5 186.0h0M218.8 182.5h0M220.0 179.0h0M221.3 175.4h0M222.7 171.9h0M224.2 168.4h0M225.8 164.8h0M227.4 161.2h0M228.9 157.6h0M230.2 151.8h0M231.5 146.0h0M233.1 140.1h0M234.6 134.2h0M235.9 128.4h0M237.2 122.7h0M238.5 118.2h0M239.8 113.7h0M241.1 110.5h0M242.3 107.3h0M243.7 105.4h0M245.0 103.5h0M246.6 101.9h0M248.1 100.3h0M250.0 100.5h0M251.5 101.7h0M253.0 102.9h0M254.5 104.4h0M256.0 105.9h0M257.4 107.7h0M258.9 109.4h0M260.4 111.2h0M261.9 113.0h0M263.4 114.2h0M264.9 115.4h0M266.4 115.1h0M267.9 114.8h0M269.4 113.3h0M270.9 111.8h0M272.4 109.8h0M273.9 107.7h0M275.4 105.3h0M276.8 102.9h0M278.3 99.9h0M279.8 96.9h0M281.2 92.7h0M282.6 90.1h0M284.1 87.6h0M285.5 85.0h0M287.3 80.8h0M288.5 79.0h0M289.7 77.3h0M291.1 75.0h0M292.6 72.8h0M294.0 70.5h0M295.0 68.5h0M296.0 66.5h0M297.4 64.1h0M298.8 61.7h0M300.1 59.9h0M301.3 58.2h0M302.6 56.4h0M303.9 54.9h0M305.1 53.3h0M306.4 51.8h0M307.7 51.0h0M309.0 50.3h0M310.3 49.5h0M311.6 49.0h0M312.8 48.5h0M314.1 48.0h0M315.3 47.9h0M316.5 47.7h0M317.6 47.6h0M318.8 47.4h0M320.0 47.3h0M321.3 47.3h0M322.6 47.3h0M323.9 47.3h0M325.2 47.3h0M326.5 47.3h0M327.8 47.3h0M329.2 47.3h0M330.5 47.3h0M331.8 47.3h0M333.1 47.3h0M334.4 47.3h0M335.7 47.3h0M337.0 47.3h0" stroke="#00FF00" stroke-width="6.2" stroke-linecap="round"/><path d="M197.6 226.5h0M198.9 224.2h0M200.2 221.8h0M201.5 219.5h0M202.9 217.1h0M204.3 214.6h0M205.7 212.2h0M207.2 208.6h0M208.8 205.1h0M210.4 201.5h0M211.9 197.9h0M213.4 194.3h0M214.9 190.7h0M215.9 188.1h0M217.0 185.5h0M218.2 182.0h0M219.5 178.5h0M220.8 174.9h0M222.2 171.4h0M223.8 167.9h0M225.3 164.3h0M226.9 160.7h0M228.4 157.1h0M229.7 151.3h0M231.0 145.5h0M232.6 139.6h0M234.1 133.7h0M235.4 127.9h0M236.7 122.2h0M238.0 117.7h0M239.3 113.2h0M240.6 110.0h0M241.8 106.8h0M243.2 104.9h0M244.5 103.0h0M246.1 101.4h0M247.6 99.8h0M249.5 100.0h0M251.0 101.2h0M252.5 102.4h0M254.0 103.9h0M255.5 105.4h0M256.9 107.2h0M258.4 108.9h0M259.9 110.7h0M261.4 112.5h0M262.9 113.7h0M264.4 114.9h0M265.9 114.6h0M267.4 114.3h0M268.9 112.8h0M270.4 111.3h0M271.9 109.2h0M273.4 107.2h0M274.9 104.8h0M276.3 102.4h0M277.8 99.4h0M279.3 96.4h0M280.7 92.2h0M282.1 89.6h0M283.6 87.1h0M285.0 84.5h0M286.8 80.3h0M288.0 78.5h0M289.2 76.8h0M290.6 74.5h0M292.1 72.2h0M293.5 70.0h0M294.5 68.0h0M295.5 66.0h0M296.9 63.6h0M298.3 61.2h0M299.6 59.4h0M300.8 57.7h0M302.1 55.9h0M303.4 54.4h0M304.6 52.8h0M305.9 51.3h0M307.2 50.5h0M308.5 49.8h0M309.8 49.0h0M311.1 48.5h0M312.3 48.0h0M313.6 47.5h0M314.8 47.4h0M316.0 47.2h0M317.1 47.1h0M318.3 46.9h0M319.5 46.8h0M320.8 46.8h0M322.1 46.8h0M323.4 46.8h0M324.7 46.8h0M326.0 46.8h0M327.3 46.8h0M328.7 46.8h0M330.0 46.8h0M331.3 46.8h0M332.6 46.8h0M333.9 46.8h0M335.2 46.8h0M336.5 46.8h0" stroke="#fff" stroke-width="1.1" stroke-linecap="round" opacity="0.85"/>
<path d="M153.3 236.2L154.4 228.9L155.4 221.6L156.4 223.7L157.4 225.8L158.5 211.2L160.0 205.0L161.2 202.9L162.3 200.9L163.5 198.8L165.1 197.8L166.6 196.8L168.1 196.8L169.7 196.8L171.2 197.8L172.7 198.8L174.0 200.4L175.3 201.9L176.6 203.9L177.8 206.0L179.4 208.6L180.9 211.1L181.9 213.1L182.9 215.2L184.6 222.5" fill="none" stroke="#FF0000" stroke-width="1.1"/><path d="M153.3 236.2h0M154.4 228.9h0M155.4 221.6h0M156.4 223.7h0M157.4 225.8h0M158.5 211.2h0M160.0 205.0h0M161.2 202.9h0M162.3 200.9h0M163.5 198.8h0M165.1 197.8h0M166.6 196.8h0M168.1 196.8h0M169.7 196.8h0M171.2 197.8h0M172.7 198.8h0M174.0 200.4h0M175.3 201.9h0M176.6 203.9h0M177.8 206.0h0M179.4 208.6h0M180.9 211.1h0M181.9 213.1h0M182.9 215.2h0M184.6 222.5h0" stroke="#FF0000" stroke-width="6.2" stroke-linecap="round"/><path d="M152.8 235.7h0M153.9 228.4h0M154.9 221.1h0M155.9 223.2h0M156.9 225.3h0M158.0 210.7h0M159.5 204.5h0M160.7 202.4h0M161.8 200.4h0M163.0 198.3h0M164.6 197.3h0M166.1 196.3h0M167.6 196.3h0M169.2 196.3h0M170.7 197.3h0M172.2 198.3h0M173.5 199.9h0M174.8 201.4h0M176.1 203.4h0M177.3 205.5h0M178.9 208.1h0M180.4 210.6h0M181.4 212.6h0M182.4 214.7h0M184.1 222.0h0" stroke="#fff" stroke-width="1.1" stroke-linecap="round" opacity="0.85"/>
<path d="M207.3 221.9L208.8 223.9L210.3 226.0L211.5 227.0L212.8 228.0L214.0 229.0L215.5 229.4L217.0 229.7L218.5 230.1L219.6 227.1L220.6 224.0L221.6 221.4L222.6 218.9L224.1 216.9L225.7 214.8L227.2 213.8L228.7 212.7L230.1 209.8L231.5 207.0L232.7 203.7L233.9 200.4L234.9 197.9L235.9 195.3L237.4 192.8L239.0 190.2L240.4 187.5L241.7 184.7L243.1 182.0L244.5 177.6L245.8 173.1L247.2 168.7L248.6 165.4L250.1 162.1L251.5 158.8L252.9 155.5L254.3 152.2L255.7 148.9L257.1 145.7L258.5 142.4L259.9 140.5L261.3 138.7L262.7 136.8L264.1 134.9L265.5 134.7L266.9 134.4L268.3 134.2L269.7 134.0L271.1 134.7L272.5 135.4L273.9 136.1L275.3 136.8L276.7 137.8L278.1 138.7L279.6 139.7L281.0 140.6L282.6 141.3L284.1 142.1L285.4 143.1L286.6 144.1L287.9 145.2L289.2 146.2L290.8 144.6L292.3 143.1L293.4 141.3L294.5 139.5L295.7 137.2L296.9 134.9L297.4 129.8L298.4 123.6L299.9 116.5L301.0 110.3L302.5 103.2L303.6 100.1L304.6 97.0L305.6 93.9L306.6 90.8L307.6 86.8L308.7 82.9L310.2 79.6L311.8 76.3L313.1 73.7L314.3 71.2L315.6 68.6L317.1 65.9L318.7 63.3L320.0 59.5L321.2 58.8L322.5 58.1L323.8 57.5L325.0 56.8L326.2 56.2L327.5 55.6L328.8 55.0L330.0 54.4L331.3 54.0L332.7 53.6L334.0 53.2L335.5 53.0L337.0 52.8" fill="none" stroke="#FF0000" stroke-width="1.1"/><path d="M207.3 221.9h0M208.8 223.9h0M210.3 226.0h0M211.5 227.0h0M212.8 228.0h0M214.0 229.0h0M215.5 229.4h0M217.0 229.7h0M218.5 230.1h0M219.6 227.1h0M220.6 224.0h0M221.6 221.4h0M222.6 218.9h0M224.1 216.9h0M225.7 214.8h0M227.2 213.8h0M228.7 212.7h0M230.1 209.8h0M231.5 207.0h0M232.7 203.7h0M233.9 200.4h0M234.9 197.9h0M235.9 195.3h0M237.4 192.8h0M239.0 190.2h0M240.4 187.5h0M241.7 184.7h0M243.1 182.0h0M244.5 177.6h0M245.8 173.1h0M247.2 168.7h0M248.6 165.4h0M250.1 162.1h0M251.5 158.8h0M252.9 155.5h0M254.3 152.2h0M255.7 148.9h0M257.1 145.7h0M258.5 142.4h0M259.9 140.5h0M261.3 138.7h0M262.7 136.8h0M264.1 134.9h0M265.5 134.7h0M266.9 134.4h0M268.3 134.2h0M269.7 134.0h0M271.1 134.7h0M272.5 135.4h0M273.9 136.1h0M275.3 136.8h0M276.7 137.8h0M278.1 138.7h0M279.6 139.7h0M281.0 140.6h0M282.6 141.3h0M284.1 142.1h0M285.4 143.1h0M286.6 144.1h0M287.9 145.2h0M289.2 146.2h0M290.8 144.6h0M292.3 143.1h0M293.4 141.3h0M294.5 139.5h0M295.7 137.2h0M296.9 134.9h0M297.4 129.8h0M298.4 123.6h0M299.9 116.5h0M301.0 110.3h0M302.5 103.2h0M303.6 100.1h0M304.6 97.0h0M305.6 93.9h0M306.6 90.8h0M307.6 86.8h0M308.7 82.9h0M310.2 79.6h0M311.8 76.3h0M313.1 73.7h0M314.3 71.2h0M315.6 68.6h0M317.1 65.9h0M318.7 63.3h0M320.0 59.5h0M321.2 58.8h0M322.5 58.1h0M323.8 57.5h0M325.0 56.8h0M326.2 56.2h0M327.5 55.6h0M328.8 55.0h0M330.0 54.4h0M331.3 54.0h0M332.7 53.6h0M334.0 53.2h0M335.5 53.0h0M337.0 52.8h0" stroke="#FF0000" stroke-width="6.2" stroke-linecap="round"/><path d="M206.8 221.4h0M208.3 223.4h0M209.8 225.5h0M211.0 226.5h0M212.3 227.5h0M213.5 228.5h0M215.0 228.9h0M216.5 229.2h0M218.0 229.6h0M219.1 226.6h0M220.1 223.5h0M221.1 220.9h0M222.1 218.4h0M223.6 216.4h0M225.2 214.3h0M226.7 213.2h0M228.2 212.2h0M229.6 209.3h0M231.0 206.5h0M232.2 203.2h0M233.4 199.9h0M234.4 197.4h0M235.4 194.8h0M236.9 192.2h0M238.5 189.7h0M239.9 187.0h0M241.2 184.2h0M242.6 181.5h0M244.0 177.1h0M245.3 172.6h0M246.7 168.2h0M248.1 164.9h0M249.6 161.6h0M251.0 158.3h0M252.4 155.0h0M253.8 151.7h0M255.2 148.4h0M256.6 145.2h0M258.0 141.9h0M259.4 140.0h0M260.8 138.2h0M262.2 136.3h0M263.6 134.4h0M265.0 134.2h0M266.4 133.9h0M267.8 133.7h0M269.2 133.5h0M270.6 134.2h0M272.0 134.9h0M273.4 135.6h0M274.8 136.3h0M276.2 137.2h0M277.6 138.2h0M279.1 139.2h0M280.5 140.1h0M282.1 140.8h0M283.6 141.6h0M284.9 142.6h0M286.1 143.6h0M287.4 144.7h0M288.7 145.7h0M290.2 144.1h0M291.8 142.6h0M292.9 140.8h0M294.0 139.0h0M295.2 136.7h0M296.4 134.4h0M296.9 129.3h0M297.9 123.1h0M299.4 116.0h0M300.5 109.8h0M302.0 102.7h0M303.1 99.6h0M304.1 96.5h0M305.1 93.4h0M306.1 90.3h0M307.1 86.3h0M308.2 82.4h0M309.8 79.1h0M311.3 75.8h0M312.6 73.2h0M313.8 70.7h0M315.1 68.1h0M316.6 65.4h0M318.2 62.8h0M319.5 59.0h0M320.8 58.3h0M322.0 57.6h0M323.2 57.0h0M324.5 56.3h0M325.8 55.7h0M327.0 55.1h0M328.2 54.5h0M329.5 53.9h0M330.8 53.5h0M332.2 53.1h0M333.5 52.7h0M335.0 52.5h0M336.5 52.3h0" stroke="#fff" stroke-width="1.1" stroke-linecap="round" opacity="0.85"/>
<path d="M160.6 236.2L162.1 232.6L163.7 228.9L164.8 223.7L165.8 218.5L167.6 209.1L168.6 206.0L169.7 202.9L170.7 200.4L171.7 197.8L172.7 195.8L173.7 193.7L175.2 192.7L176.8 191.7L178.4 191.4L179.9 191.2L181.4 192.4L182.9 193.7L184.4 196.2L186.0 198.8L187.6 200.9L189.1 202.9L190.6 204.9L192.1 207.0L193.6 209.1L195.2 211.1L196.3 213.2L197.7 215.0L199.1 216.8L200.1 219.9L201.1 222.9L202.1 224.9L203.2 227.0L204.2 228.6L205.2 230.1L206.8 231.1L208.3 232.1L209.9 230.6L211.4 229.1L212.7 227.1L213.9 225.0L215.4 218.9L216.7 216.3L218.0 213.7L219.3 210.6L220.6 207.6L222.1 205.6L223.6 203.5L225.1 202.5L226.7 201.5L228.2 200.9L229.8 200.4L231.3 199.9L232.8 199.4L234.4 198.4L235.9 197.4L237.4 195.4L239.0 193.3L240.5 190.8L242.0 188.2L243.5 186.1L245.0 184.1L246.4 180.8L247.7 177.6L249.1 174.3L250.5 171.0L251.9 167.8L253.3 164.5L254.7 161.2L256.1 157.4L257.5 153.7L258.9 149.9L260.3 146.2L261.7 144.3L263.1 142.4L264.6 140.6L266.0 138.7L267.2 137.4L268.5 136.2L269.8 134.9L271.0 133.7L272.2 132.4L273.5 131.2L274.8 130.7L276.0 130.3L277.2 129.8L278.5 129.3L279.8 128.9L281.0 128.4L282.2 128.1L283.5 127.8L284.7 127.5L286.1 128.6L287.4 129.7L288.8 130.7L290.2 131.8L291.8 133.9L293.3 135.9L294.9 137.9L296.4 140.0L297.9 142.1L299.4 144.1L300.7 145.1L302.0 146.0L303.0 145.2L304.0 144.5L305.6 140.0L306.6 136.9L307.6 133.9L308.6 130.3L309.7 126.7L310.7 123.7L311.7 120.6L312.8 118.0L313.8 115.5L314.8 112.9L315.8 110.3L316.9 108.0L317.9 105.7L319.1 103.5L320.3 101.4L321.5 99.2L322.7 96.8L323.9 94.4L325.1 92.0L326.3 89.6L327.5 87.3L328.7 84.9L330.1 81.3L331.6 77.7L332.8 74.7L334.0 71.7L335.5 68.8L337.0 66.0" fill="none" stroke="#000000" stroke-width="1.1"/><path d="M160.6 236.2h0M162.1 232.6h0M163.7 228.9h0M164.8 223.7h0M165.8 218.5h0M167.6 209.1h0M168.6 206.0h0M169.7 202.9h0M170.7 200.4h0M171.7 197.8h0M172.7 195.8h0M173.7 193.7h0M175.2 192.7h0M176.8 191.7h0M178.4 191.4h0M179.9 191.2h0M181.4 192.4h0M182.9 193.7h0M184.4 196.2h0M186.0 198.8h0M187.6 200.9h0M189.1 202.9h0M190.6 204.9h0M192.1 207.0h0M193.6 209.1h0M195.2 211.1h0M196.3 213.2h0M197.7 215.0h0M199.1 216.8h0M200.1 219.9h0M201.1 222.9h0M202.1 224.9h0M203.2 227.0h0M204.2 228.6h0M205.2 230.1h0M206.8 231.1h0M208.3 232.1h0M209.9 230.6h0M211.4 229.1h0M212.7 227.1h0M213.9 225.0h0M215.4 218.9h0M216.7 216.3h0M218.0 213.7h0M219.3 210.6h0M220.6 207.6h0M222.1 205.6h0M223.6 203.5h0M225.1 202.5h0M226.7 201.5h0M228.2 200.9h0M229.8 200.4h0M231.3 199.9h0M232.8 199.4h0M234.4 198.4h0M235.9 197.4h0M237.4 195.4h0M239.0 193.3h0M240.5 190.8h0M242.0 188.2h0M243.5 186.1h0M245.0 184.1h0M246.4 180.8h0M247.7 177.6h0M249.1 174.3h0M250.5 171.0h0M251.9 167.8h0M253.3 164.5h0M254.7 161.2h0M256.1 157.4h0M257.5 153.7h0M258.9 149.9h0M260.3 146.2h0M261.7 144.3h0M263.1 142.4h0M264.6 140.6h0M266.0 138.7h0M267.2 137.4h0M268.5 136.2h0M269.8 134.9h0M271.0 133.7h0M272.2 132.4h0M273.5 131.2h0M274.8 130.7h0M276.0 130.3h0M277.2 129.8h0M278.5 129.3h0M279.8 128.9h0M281.0 128.4h0M282.2 128.1h0M283.5 127.8h0M284.7 127.5h0M286.1 128.6h0M287.4 129.7h0M288.8 130.7h0M290.2 131.8h0M291.8 133.9h0M293.3 135.9h0M294.9 137.9h0M296.4 140.0h0M297.9 142.1h0M299.4 144.1h0M300.7 145.1h0M302.0 146.0h0M303.0 145.2h0M304.0 144.5h0M305.6 140.0h0M306.6 136.9h0M307.6 133.9h0M308.6 130.3h0M309.7 126.7h0M310.7 123.7h0M311.7 120.6h0M312.8 118.0h0M313.8 115.5h0M314.8 112.9h0M315.8 110.3h0M316.9 108.0h0M317.9 105.7h0M319.1 103.5h0M320.3 101.4h0M321.5 99.2h0M322.7 96.8h0M323.9 94.4h0M325.1 92.0h0M326.3 89.6h0M327.5 87.3h0M328.7 84.9h0M330.1 81.3h0M331.6 77.7h0M332.8 74.7h0M334.0 71.7h0M335.5 68.8h0M337.0 66.0h0" stroke="#000000" stroke-width="6.2" stroke-linecap="round"/><path d="M160.1 235.7h0M161.6 232.1h0M163.2 228.4h0M164.2 223.2h0M165.3 218.0h0M167.1 208.6h0M168.1 205.5h0M169.2 202.4h0M170.2 199.9h0M171.2 197.3h0M172.2 195.2h0M173.2 193.2h0M174.8 192.2h0M176.3 191.2h0M177.9 190.9h0M179.4 190.7h0M180.9 191.9h0M182.4 193.2h0M183.9 195.8h0M185.5 198.3h0M187.1 200.4h0M188.6 202.4h0M190.1 204.4h0M191.6 206.5h0M193.1 208.6h0M194.7 210.6h0M195.8 212.7h0M197.2 214.5h0M198.6 216.3h0M199.6 219.4h0M200.6 222.4h0M201.6 224.4h0M202.7 226.5h0M203.7 228.1h0M204.7 229.6h0M206.2 230.6h0M207.8 231.6h0M209.4 230.1h0M210.9 228.6h0M212.2 226.6h0M213.4 224.5h0M214.9 218.4h0M216.2 215.8h0M217.5 213.2h0M218.8 210.1h0M220.1 207.1h0M221.6 205.1h0M223.1 203.0h0M224.6 202.0h0M226.2 201.0h0M227.8 200.4h0M229.3 199.9h0M230.8 199.4h0M232.3 198.9h0M233.9 197.9h0M235.4 196.9h0M236.9 194.9h0M238.5 192.8h0M240.0 190.2h0M241.5 187.7h0M243.0 185.6h0M244.5 183.6h0M245.9 180.3h0M247.2 177.1h0M248.6 173.8h0M250.0 170.5h0M251.4 167.2h0M252.8 164.0h0M254.2 160.7h0M255.6 156.9h0M257.0 153.2h0M258.4 149.4h0M259.8 145.7h0M261.2 143.8h0M262.6 141.9h0M264.1 140.1h0M265.5 138.2h0M266.8 136.9h0M268.0 135.7h0M269.2 134.4h0M270.5 133.2h0M271.8 131.9h0M273.0 130.7h0M274.2 130.2h0M275.5 129.8h0M276.8 129.3h0M278.0 128.8h0M279.2 128.4h0M280.5 127.9h0M281.7 127.6h0M283.0 127.3h0M284.2 127.0h0M285.6 128.1h0M286.9 129.2h0M288.3 130.2h0M289.7 131.3h0M291.2 133.4h0M292.8 135.4h0M294.4 137.4h0M295.9 139.5h0M297.4 141.6h0M298.9 143.6h0M300.2 144.6h0M301.5 145.5h0M302.5 144.8h0M303.5 144.0h0M305.1 139.5h0M306.1 136.4h0M307.1 133.4h0M308.1 129.8h0M309.2 126.2h0M310.2 123.2h0M311.2 120.1h0M312.2 117.5h0M313.3 115.0h0M314.3 112.4h0M315.3 109.8h0M316.4 107.5h0M317.4 105.2h0M318.6 103.0h0M319.8 100.9h0M321.0 98.7h0M322.2 96.3h0M323.4 93.9h0M324.6 91.5h0M325.8 89.1h0M327.0 86.8h0M328.2 84.4h0M329.6 80.8h0M331.1 77.2h0M332.3 74.2h0M333.5 71.2h0M335.0 68.3h0M336.5 65.5h0" stroke="#fff" stroke-width="1.1" stroke-linecap="round" opacity="0.85"/></g>
<path d="M60.80 264.30v-4.5M60.80 39.60v2.48M88.22 264.30v-3.5M88.22 39.60v1.93M115.64 264.30v-4.5M115.64 39.60v2.48M143.06 264.30v-3.5M143.06 39.60v1.93M170.48 264.30v-4.5M170.48 39.60v2.48M197.90 264.30v-3.5M197.90 39.60v1.93M225.32 264.30v-4.5M225.32 39.60v2.48M252.74 264.30v-3.5M252.74 39.60v1.93M280.16 264.30v-4.5M280.16 39.60v2.48M307.58 264.30v-3.5M307.58 39.60v1.93M335.00 264.30v-4.5M335.00 39.60v2.48M60.80 260.87h3M335.00 260.87h-1.65M60.80 257.71h3M335.00 257.71h-1.65M60.80 254.97h3M335.00 254.97h-1.65M60.80 252.56h3M335.00 252.56h-1.65M60.80 250.40h4.5M335.00 250.40h-2.48M60.80 236.19h3M335.00 236.19h-1.65M60.80 227.88h3M335.00 227.88h-1.65M60.80 221.98h3M335.00 221.98h-1.65M60.80 217.41h3M335.00 217.41h-1.65M60.80 213.67h3M335.00 213.67h-1.65M60.80 210.51h3M335.00 210.51h-1.65M60.80 207.77h3M335.00 207.77h-1.65M60.80 205.36h3M335.00 205.36h-1.65M60.80 203.20h4.5M335.00 203.20h-2.48M60.80 188.99h3M335.00 188.99h-1.65M60.80 180.68h3M335.00 180.68h-1.65M60.80 174.78h3M335.00 174.78h-1.65M60.80 170.21h3M335.00 170.21h-1.65M60.80 166.47h3M335.00 166.47h-1.65M60.80 163.31h3M335.00 163.31h-1.65M60.80 160.57h3M335.00 160.57h-1.65M60.80 158.16h3M335.00 158.16h-1.65M60.80 156.00h4.5M335.00 156.00h-2.48M60.80 141.79h3M335.00 141.79h-1.65M60.80 133.48h3M335.00 133.48h-1.65M60.80 127.58h3M335.00 127.58h-1.65M60.80 123.01h3M335.00 123.01h-1.65M60.80 119.27h3M335.00 119.27h-1.65M60.80 116.11h3M335.00 116.11h-1.65M60.80 113.37h3M335.00 113.37h-1.65M60.80 110.96h3M335.00 110.96h-1.65M60.80 108.80h4.5M335.00 108.80h-2.48M60.80 94.59h3M335.00 94.59h-1.65M60.80 86.28h3M335.00 86.28h-1.65M60.80 80.38h3M335.00 80.38h-1.65M60.80 75.81h3M335.00 75.81h-1.65M60.80 72.07h3M335.00 72.07h-1.65M60.80 68.91h3M335.00 68.91h-1.65M60.80 66.17h3M335.00 66.17h-1.65M60.80 63.76h3M335.00 63.76h-1.65M60.80 61.60h4.5M335.00 61.60h-2.48M60.80 47.39h3M335.00 47.39h-1.65" stroke="#000" stroke-width="2" fill="none"/>
<rect x="60.8" y="39.6" width="274.20" height="224.70" fill="none" stroke="#000" stroke-width="2.5"/>
<g font-family='"Liberation Sans", sans-serif' font-weight="bold" font-size="14" fill="#000"><text x="60.80" y="281.10" text-anchor="middle">-0.4</text>
<text x="115.64" y="281.10" text-anchor="middle">-0.6</text>
<text x="170.48" y="281.10" text-anchor="middle">-0.8</text>
<text x="225.32" y="281.10" text-anchor="middle">-1</text>
<text x="280.16" y="281.10" text-anchor="middle">-1.2</text>
<text x="335.00" y="281.10" text-anchor="middle">-1.4</text>
<text x="55.20" y="255.00" text-anchor="end">10<tspan font-size="9.5" dy="-6.2">-14</tspan></text>
<text x="55.20" y="207.80" text-anchor="end">10<tspan font-size="9.5" dy="-6.2">-13</tspan></text>
<text x="55.20" y="160.60" text-anchor="end">10<tspan font-size="9.5" dy="-6.2">-12</tspan></text>
<text x="55.20" y="113.40" text-anchor="end">10<tspan font-size="9.5" dy="-6.2">-11</tspan></text>
<text x="55.20" y="66.20" text-anchor="end">10<tspan font-size="9.5" dy="-6.2">-10</tspan></text></g>
<g clip-path="url(#clipb)"><line x1="453.3" y1="236" x2="453.3" y2="264.2" stroke="#FF8000" stroke-width="1.1"/>
<line x1="454" y1="244" x2="454" y2="264.2" stroke="#0000FF" stroke-width="1.1"/>
<line x1="457.6" y1="243" x2="457.6" y2="264.2" stroke="#0000FF" stroke-width="1.1"/>
<line x1="457.6" y1="232" x2="457.6" y2="264.2" stroke="#3EE3EE" stroke-width="1.1"/>
<line x1="477" y1="220" x2="477" y2="264.2" stroke="#00FF00" stroke-width="1.1"/>
<line x1="448.5" y1="246" x2="448.5" y2="264.2" stroke="#FF0000" stroke-width="1.1"/>
<line x1="450" y1="250" x2="450" y2="264.2" stroke="#FF0000" stroke-width="1.1"/>
<line x1="488.8" y1="255" x2="488.8" y2="264.2" stroke="#FF0000" stroke-width="1.1"/>
<line x1="511.5" y1="243" x2="511.5" y2="264.2" stroke="#000000" stroke-width="1.1"/>
<line x1="555.7" y1="250" x2="555.7" y2="264.2" stroke="#000000" stroke-width="1.1"/>
<path d="M448.6 230.3h0M450.9 245.7h0M454.0 247.5h0M464.0 244.8h0M471.2 257.0h0M505.6 258.8h0M511.5 243.0h0M516.5 252.8h0" stroke="#000000" stroke-width="6.2" stroke-linecap="round"/><path d="M448.1 229.8h0M450.4 245.2h0M453.5 247.0h0M463.5 244.3h0M470.7 256.5h0M505.1 258.3h0M511.0 242.5h0M516.0 252.3h0" stroke="#fff" stroke-width="1.1" stroke-linecap="round" opacity="0.85"/>
<path d="M447.3 238.9h0M455.4 242.5h0M458.5 243.0h0" stroke="#0000FF" stroke-width="6.2" stroke-linecap="round"/><path d="M446.8 238.4h0M454.9 242.0h0M458.0 242.5h0" stroke="#fff" stroke-width="1.1" stroke-linecap="round" opacity="0.85"/>
<path d="M447.3 245.7h0M461.2 251.1h0M465.8 249.3h0M457.6 261.9h0M476.6 262.8h0M480.6 259.2h0M448.0 252.0h0M488.8 255.1h0M491.0 237.5h0" stroke="#FF0000" stroke-width="6.2" stroke-linecap="round"/><path d="M446.8 245.2h0M460.7 250.6h0M465.3 248.8h0M457.1 261.4h0M476.1 262.3h0M480.1 258.7h0M447.5 251.5h0M488.3 254.6h0M490.5 237.0h0" stroke="#fff" stroke-width="1.1" stroke-linecap="round" opacity="0.85"/>
<path d="M464.5 252.0h0M467.0 249.0h0M469.0 255.0h0M472.0 258.0h0M466.0 260.0h0" stroke="#00FF00" stroke-width="6.2" stroke-linecap="round"/><path d="M464.0 251.5h0M466.5 248.5h0M468.5 254.5h0M471.5 257.5h0M465.5 259.5h0" stroke="#fff" stroke-width="1.1" stroke-linecap="round" opacity="0.85"/>
<path d="M454.3 235.3L455.2 215.3L456.2 207.3L457.2 203.4L458.2 199.4L460.1 189.5L461.1 185.6L462.1 181.6L463.6 177.1L465.1 172.6L466.4 170.9L467.7 169.3L469.0 167.6L470.3 167.1L471.7 166.6L473.0 166.1L474.3 166.8L475.6 167.4L476.9 169.1L478.2 170.7L479.5 172.4L480.8 174.2L482.2 175.9L483.5 177.7L484.8 179.0L486.1 180.3L487.4 181.6L488.7 181.4L490.1 181.2L491.4 181.0L492.6 180.0L493.8 179.0L495.0 178.0L496.2 176.8L497.5 175.5L498.8 173.8L500.1 172.2L501.4 170.5L502.7 168.8L503.9 166.7L505.2 164.5L506.5 162.8L507.8 161.1L508.9 160.7L510.1 160.2L511.2 159.8L512.3 160.2L513.5 160.7L514.6 161.1L515.9 162.3L517.2 163.6L518.5 164.9L519.7 166.2L520.8 167.6L521.9 169.1L523.0 170.5L524.5 172.8L526.0 175.0L527.4 176.8L528.9 178.7L530.3 180.5L531.9 183.2L533.5 186.0L534.8 187.5L536.0 189.0L537.0 188.7L538.0 188.3L539.1 186.0L540.3 183.7L541.4 181.4L542.5 179.1L543.6 177.2L544.8 175.3L546.4 169.9L547.9 165.3L549.0 163.0L550.2 160.7L551.4 158.8L552.5 156.9L554.0 151.5L554.8 146.4L555.7 142.3L556.9 138.1L558.4 134.5L559.5 130.8L560.5 127.0L561.5 124.5L562.5 122.0L563.5 118.0L565.4 114.7L567.2 109.9L568.9 105.7L570.1 103.6L571.3 101.5L573.1 98.0L575.0 94.0L576.9 89.0L578.1 85.8L579.3 82.7L580.5 80.3L581.7 77.9L582.9 76.1L584.1 74.3L585.6 72.8L587.1 71.3L588.5 70.4L590.0 69.5L591.5 69.0L593.0 68.6L594.3 68.7L595.6 68.9L596.9 69.0L598.0 70.2L599.2 71.5L600.4 72.1L601.6 72.7L602.8 73.3L604.2 73.7L605.5 74.0L606.9 74.4L608.4 74.3L609.9 74.2L611.4 73.2L612.9 72.1L614.4 70.6L615.9 69.1L617.4 67.6L618.9 66.1L620.4 64.3L621.9 62.5L623.3 60.7L624.8 58.9L626.0 57.8L627.2 56.6L628.6 55.5L630.0 54.5L631.3 53.7L632.7 52.8L634.0 52.0L635.5 51.0L637.0 50.0L638.5 49.0L640.0 48.0L641.2 47.4L642.5 46.8L643.8 46.2L645.0 45.6L646.2 45.1L647.5 44.5L648.8 44.0L650.0 43.5L651.4 43.1L652.8 42.6L654.2 42.2L655.6 41.8L657.1 41.4L658.5 41.1L660.0 40.7L661.2 40.6L662.5 40.5L663.8 40.4L665.0 40.4L666.2 40.3L667.5 40.2L668.8 40.1L670.0 40.0L671.2 39.9L672.5 39.8L673.8 39.7L675.0 39.6L676.2 39.6L677.5 39.5L678.8 39.4L680.0 39.3L681.2 39.3L682.5 39.2L683.8 39.2L685.0 39.1L686.2 39.1L687.5 39.0L688.8 39.0L690.0 39.0L691.2 38.9L692.5 38.9L693.8 38.8L695.0 38.8" fill="none" stroke="#FF8000" stroke-width="1.1"/><path d="M454.3 235.3h0M455.2 215.3h0M456.2 207.3h0M457.2 203.4h0M458.2 199.4h0M460.1 189.5h0M461.1 185.6h0M462.1 181.6h0M463.6 177.1h0M465.1 172.6h0M466.4 170.9h0M467.7 169.3h0M469.0 167.6h0M470.3 167.1h0M471.7 166.6h0M473.0 166.1h0M474.3 166.8h0M475.6 167.4h0M476.9 169.1h0M478.2 170.7h0M479.5 172.4h0M480.8 174.2h0M482.2 175.9h0M483.5 177.7h0M484.8 179.0h0M486.1 180.3h0M487.4 181.6h0M488.7 181.4h0M490.1 181.2h0M491.4 181.0h0M492.6 180.0h0M493.8 179.0h0M495.0 178.0h0M496.2 176.8h0M497.5 175.5h0M498.8 173.8h0M500.1 172.2h0M501.4 170.5h0M502.7 168.8h0M503.9 166.7h0M505.2 164.5h0M506.5 162.8h0M507.8 161.1h0M508.9 160.7h0M510.1 160.2h0M511.2 159.8h0M512.3 160.2h0M513.5 160.7h0M514.6 161.1h0M515.9 162.3h0M517.2 163.6h0M518.5 164.9h0M519.7 166.2h0M520.8 167.6h0M521.9 169.1h0M523.0 170.5h0M524.5 172.8h0M526.0 175.0h0M527.4 176.8h0M528.9 178.7h0M530.3 180.5h0M531.9 183.2h0M533.5 186.0h0M534.8 187.5h0M536.0 189.0h0M537.0 188.7h0M538.0 188.3h0M539.1 186.0h0M540.3 183.7h0M541.4 181.4h0M542.5 179.1h0M543.6 177.2h0M544.8 175.3h0M546.4 169.9h0M547.9 165.3h0M549.0 163.0h0M550.2 160.7h0M551.4 158.8h0M552.5 156.9h0M554.0 151.5h0M554.8 146.4h0M555.7 142.3h0M556.9 138.1h0M558.4 134.5h0M559.5 130.8h0M560.5 127.0h0M561.5 124.5h0M562.5 122.0h0M563.5 118.0h0M565.4 114.7h0M567.2 109.9h0M568.9 105.7h0M570.1 103.6h0M571.3 101.5h0M573.1 98.0h0M575.0 94.0h0M576.9 89.0h0M578.1 85.8h0M579.3 82.7h0M580.5 80.3h0M581.7 77.9h0M582.9 76.1h0M584.1 74.3h0M585.6 72.8h0M587.1 71.3h0M588.5 70.4h0M590.0 69.5h0M591.5 69.0h0M593.0 68.6h0M594.3 68.7h0M595.6 68.9h0M596.9 69.0h0M598.0 70.2h0M599.2 71.5h0M600.4 72.1h0M601.6 72.7h0M602.8 73.3h0M604.2 73.7h0M605.5 74.0h0M606.9 74.4h0M608.4 74.3h0M609.9 74.2h0M611.4 73.2h0M612.9 72.1h0M614.4 70.6h0M615.9 69.1h0M617.4 67.6h0M618.9 66.1h0M620.4 64.3h0M621.9 62.5h0M623.3 60.7h0M624.8 58.9h0M626.0 57.8h0M627.2 56.6h0M628.6 55.5h0M630.0 54.5h0M631.3 53.7h0M632.7 52.8h0M634.0 52.0h0M635.5 51.0h0M637.0 50.0h0M638.5 49.0h0M640.0 48.0h0M641.2 47.4h0M642.5 46.8h0M643.8 46.2h0M645.0 45.6h0M646.2 45.1h0M647.5 44.5h0M648.8 44.0h0M650.0 43.5h0M651.4 43.1h0M652.8 42.6h0M654.2 42.2h0M655.6 41.8h0M657.1 41.4h0M658.5 41.1h0M660.0 40.7h0M661.2 40.6h0M662.5 40.5h0M663.8 40.4h0M665.0 40.4h0M666.2 40.3h0M667.5 40.2h0M668.8 40.1h0M670.0 40.0h0M671.2 39.9h0M672.5 39.8h0M673.8 39.7h0M675.0 39.6h0M676.2 39.6h0M677.5 39.5h0M678.8 39.4h0M680.0 39.3h0M681.2 39.3h0M682.5 39.2h0M683.8 39.2h0M685.0 39.1h0M686.2 39.1h0M687.5 39.0h0M688.8 39.0h0M690.0 39.0h0M691.2 38.9h0M692.5 38.9h0M693.8 38.8h0M695.0 38.8h0" stroke="#FF8000" stroke-width="6.2" stroke-linecap="round"/><path d="M453.8 234.8h0M454.7 214.8h0M455.7 206.8h0M456.7 202.9h0M457.7 198.9h0M459.6 189.0h0M460.6 185.1h0M461.6 181.1h0M463.1 176.6h0M464.6 172.1h0M465.9 170.4h0M467.2 168.8h0M468.5 167.1h0M469.8 166.6h0M471.2 166.1h0M472.5 165.6h0M473.8 166.2h0M475.1 166.9h0M476.4 168.6h0M477.7 170.2h0M479.0 171.9h0M480.3 173.7h0M481.7 175.4h0M483.0 177.2h0M484.3 178.5h0M485.6 179.8h0M486.9 181.1h0M488.2 180.9h0M489.6 180.7h0M490.9 180.5h0M492.1 179.5h0M493.3 178.5h0M494.5 177.5h0M495.8 176.2h0M497.0 175.0h0M498.3 173.3h0M499.6 171.7h0M500.9 170.0h0M502.2 168.3h0M503.4 166.2h0M504.7 164.0h0M506.0 162.3h0M507.3 160.6h0M508.4 160.2h0M509.6 159.7h0M510.7 159.3h0M511.8 159.7h0M513.0 160.2h0M514.1 160.6h0M515.4 161.8h0M516.7 163.1h0M518.0 164.4h0M519.2 165.7h0M520.3 167.1h0M521.4 168.6h0M522.5 170.0h0M524.0 172.2h0M525.5 174.5h0M526.9 176.3h0M528.4 178.2h0M529.8 180.0h0M531.4 182.8h0M533.0 185.5h0M534.2 187.0h0M535.5 188.5h0M536.5 188.2h0M537.5 187.8h0M538.6 185.5h0M539.8 183.2h0M540.9 180.9h0M542.0 178.6h0M543.1 176.7h0M544.3 174.8h0M545.9 169.4h0M547.4 164.8h0M548.5 162.5h0M549.7 160.2h0M550.9 158.3h0M552.0 156.4h0M553.5 151.0h0M554.3 145.9h0M555.2 141.8h0M556.4 137.6h0M557.9 134.0h0M559.0 130.2h0M560.0 126.5h0M561.0 124.0h0M562.0 121.5h0M563.0 117.5h0M564.9 114.2h0M566.7 109.4h0M568.4 105.2h0M569.6 103.1h0M570.8 101.0h0M572.6 97.5h0M574.5 93.5h0M576.4 88.5h0M577.6 85.3h0M578.8 82.2h0M580.0 79.8h0M581.2 77.4h0M582.4 75.6h0M583.6 73.8h0M585.1 72.3h0M586.6 70.8h0M588.0 69.9h0M589.5 69.0h0M591.0 68.5h0M592.5 68.1h0M593.8 68.2h0M595.1 68.4h0M596.4 68.5h0M597.5 69.8h0M598.7 71.0h0M599.9 71.6h0M601.1 72.2h0M602.3 72.8h0M603.7 73.2h0M605.0 73.5h0M606.4 73.9h0M607.9 73.8h0M609.4 73.7h0M610.9 72.7h0M612.4 71.6h0M613.9 70.1h0M615.4 68.6h0M616.9 67.1h0M618.4 65.6h0M619.9 63.8h0M621.4 62.0h0M622.8 60.2h0M624.3 58.4h0M625.5 57.2h0M626.7 56.1h0M628.1 55.0h0M629.5 54.0h0M630.8 53.2h0M632.2 52.3h0M633.5 51.5h0M635.0 50.5h0M636.5 49.5h0M638.0 48.5h0M639.5 47.5h0M640.8 46.9h0M642.0 46.3h0M643.2 45.7h0M644.5 45.1h0M645.8 44.6h0M647.0 44.0h0M648.2 43.5h0M649.5 43.0h0M650.9 42.6h0M652.3 42.1h0M653.7 41.7h0M655.1 41.3h0M656.6 40.9h0M658.0 40.6h0M659.5 40.2h0M660.8 40.1h0M662.0 40.0h0M663.2 39.9h0M664.5 39.9h0M665.8 39.8h0M667.0 39.7h0M668.2 39.6h0M669.5 39.5h0M670.8 39.4h0M672.0 39.3h0M673.2 39.2h0M674.5 39.1h0M675.8 39.1h0M677.0 39.0h0M678.2 38.9h0M679.5 38.8h0M680.8 38.8h0M682.0 38.7h0M683.2 38.7h0M684.5 38.6h0M685.8 38.6h0M687.0 38.5h0M688.2 38.5h0M689.5 38.5h0M690.8 38.4h0M692.0 38.4h0M693.2 38.3h0M694.5 38.3h0" stroke="#fff" stroke-width="1.1" stroke-linecap="round" opacity="0.85"/>
<path d="M459.2 232.1L460.4 227.1L461.6 222.0L462.6 217.0L463.6 212.0L464.8 206.5L465.9 201.0L467.1 195.5L468.4 189.2L469.6 183.0L471.1 178.5L472.6 174.0L474.1 171.0L475.6 168.0L477.1 167.0L478.6 166.0L480.1 166.5L481.6 167.0L482.9 169.3L484.3 171.7L485.6 174.0L486.9 177.0L488.3 180.0L489.6 183.0L490.9 186.1L492.3 189.1L493.6 192.2L495.2 196.1L496.8 200.0L498.4 201.0L500.0 202.0L501.3 200.3L502.7 198.7L504.0 197.0L505.3 193.0L506.7 189.0L508.0 185.0L509.2 181.0L510.5 177.0L511.8 175.0L513.0 173.0L514.5 171.8L516.0 170.5L517.2 170.3L518.3 170.2L519.5 170.0L520.7 170.8L521.8 171.7L523.0 172.5L524.3 174.0L525.7 175.5L527.0 177.0L528.3 178.8L529.7 180.7L531.0 182.5L532.2 185.1L533.5 187.8L534.8 190.4L536.0 193.0L537.3 195.0L538.7 197.0L540.0 199.0L541.5 199.4L542.9 199.9L544.3 200.4L545.8 200.8L547.2 199.2L548.6 197.6L550.0 196.0L551.2 194.5L552.5 193.0L553.7 191.5L555.0 188.9L556.4 186.2L557.7 183.6L558.8 181.1L559.9 178.5L561.0 176.0L562.5 172.0L564.0 168.0L565.2 163.8L566.5 159.6L567.7 155.4L568.9 151.2L570.0 147.0L571.5 141.3L573.0 135.7L574.8 126.8L576.5 121.0L577.3 118.8L579.1 114.1L580.3 109.3L581.5 104.5L582.7 99.8L584.2 95.0L585.4 92.7L586.5 90.3L587.7 88.0L589.2 85.3L590.6 82.7L592.1 80.9L593.6 79.1L594.8 78.0L596.0 77.0L597.4 76.5L598.7 76.0L599.8 76.0L600.9 76.0L602.0 76.0L603.5 76.9L605.0 77.8L606.2 78.5L607.5 79.2L608.8 79.9L610.0 80.6L611.2 81.2L612.5 81.8L613.8 82.4L615.0 83.0L616.5 83.4L618.0 83.9L619.5 84.3L620.7 84.1L621.8 84.0L623.0 83.8L624.5 82.7L626.0 81.5L627.5 79.8L629.0 78.0L630.5 75.5L632.0 73.0L633.5 69.8L635.0 66.5L636.5 63.3L637.8 61.5L639.0 59.7L640.3 57.9L641.6 56.4L642.8 54.8L644.1 53.3L645.4 52.3L646.7 51.3L648.0 50.3L649.3 49.5L650.5 48.8L651.8 48.0L653.1 47.5L654.3 46.9L655.6 46.4L657.1 46.0L658.5 45.7L660.0 45.3L661.4 45.0L662.7 44.8L664.1 44.5L665.4 44.3L666.8 44.0L668.2 43.7L669.5 43.3L670.9 43.0L672.3 42.7L673.6 42.3L675.0 42.0L676.2 41.8L677.5 41.5L678.8 41.2L680.0 41.0L681.2 40.8L682.5 40.5L683.8 40.2L685.0 40.0L686.2 39.9L687.5 39.9L688.8 39.8L690.0 39.8L691.2 39.7L692.5 39.6L693.8 39.6L695.0 39.5" fill="none" stroke="#3EE3EE" stroke-width="1.1"/><path d="M459.2 232.1h0M460.4 227.1h0M461.6 222.0h0M462.6 217.0h0M463.6 212.0h0M464.8 206.5h0M465.9 201.0h0M467.1 195.5h0M468.4 189.2h0M469.6 183.0h0M471.1 178.5h0M472.6 174.0h0M474.1 171.0h0M475.6 168.0h0M477.1 167.0h0M478.6 166.0h0M480.1 166.5h0M481.6 167.0h0M482.9 169.3h0M484.3 171.7h0M485.6 174.0h0M486.9 177.0h0M488.3 180.0h0M489.6 183.0h0M490.9 186.1h0M492.3 189.1h0M493.6 192.2h0M495.2 196.1h0M496.8 200.0h0M498.4 201.0h0M500.0 202.0h0M501.3 200.3h0M502.7 198.7h0M504.0 197.0h0M505.3 193.0h0M506.7 189.0h0M508.0 185.0h0M509.2 181.0h0M510.5 177.0h0M511.8 175.0h0M513.0 173.0h0M514.5 171.8h0M516.0 170.5h0M517.2 170.3h0M518.3 170.2h0M519.5 170.0h0M520.7 170.8h0M521.8 171.7h0M523.0 172.5h0M524.3 174.0h0M525.7 175.5h0M527.0 177.0h0M528.3 178.8h0M529.7 180.7h0M531.0 182.5h0M532.2 185.1h0M533.5 187.8h0M534.8 190.4h0M536.0 193.0h0M537.3 195.0h0M538.7 197.0h0M540.0 199.0h0M541.5 199.4h0M542.9 199.9h0M544.3 200.4h0M545.8 200.8h0M547.2 199.2h0M548.6 197.6h0M550.0 196.0h0M551.2 194.5h0M552.5 193.0h0M553.7 191.5h0M555.0 188.9h0M556.4 186.2h0M557.7 183.6h0M558.8 181.1h0M559.9 178.5h0M561.0 176.0h0M562.5 172.0h0M564.0 168.0h0M565.2 163.8h0M566.5 159.6h0M567.7 155.4h0M568.9 151.2h0M570.0 147.0h0M571.5 141.3h0M573.0 135.7h0M574.8 126.8h0M576.5 121.0h0M577.3 118.8h0M579.1 114.1h0M580.3 109.3h0M581.5 104.5h0M582.7 99.8h0M584.2 95.0h0M585.4 92.7h0M586.5 90.3h0M587.7 88.0h0M589.2 85.3h0M590.6 82.7h0M592.1 80.9h0M593.6 79.1h0M594.8 78.0h0M596.0 77.0h0M597.4 76.5h0M598.7 76.0h0M599.8 76.0h0M600.9 76.0h0M602.0 76.0h0M603.5 76.9h0M605.0 77.8h0M606.2 78.5h0M607.5 79.2h0M608.8 79.9h0M610.0 80.6h0M611.2 81.2h0M612.5 81.8h0M613.8 82.4h0M615.0 83.0h0M616.5 83.4h0M618.0 83.9h0M619.5 84.3h0M620.7 84.1h0M621.8 84.0h0M623.0 83.8h0M624.5 82.7h0M626.0 81.5h0M627.5 79.8h0M629.0 78.0h0M630.5 75.5h0M632.0 73.0h0M633.5 69.8h0M635.0 66.5h0M636.5 63.3h0M637.8 61.5h0M639.0 59.7h0M640.3 57.9h0M641.6 56.4h0M642.8 54.8h0M644.1 53.3h0M645.4 52.3h0M646.7 51.3h0M648.0 50.3h0M649.3 49.5h0M650.5 48.8h0M651.8 48.0h0M653.1 47.5h0M654.3 46.9h0M655.6 46.4h0M657.1 46.0h0M658.5 45.7h0M660.0 45.3h0M661.4 45.0h0M662.7 44.8h0M664.1 44.5h0M665.4 44.3h0M666.8 44.0h0M668.2 43.7h0M669.5 43.3h0M670.9 43.0h0M672.3 42.7h0M673.6 42.3h0M675.0 42.0h0M676.2 41.8h0M677.5 41.5h0M678.8 41.2h0M680.0 41.0h0M681.2 40.8h0M682.5 40.5h0M683.8 40.2h0M685.0 40.0h0M686.2 39.9h0M687.5 39.9h0M688.8 39.8h0M690.0 39.8h0M691.2 39.7h0M692.5 39.6h0M693.8 39.6h0M695.0 39.5h0" stroke="#3EE3EE" stroke-width="6.2" stroke-linecap="round"/><path d="M458.7 231.6h0M459.9 226.6h0M461.1 221.5h0M462.1 216.5h0M463.1 211.5h0M464.3 206.0h0M465.4 200.5h0M466.6 195.0h0M467.9 188.8h0M469.1 182.5h0M470.6 178.0h0M472.1 173.5h0M473.6 170.5h0M475.1 167.5h0M476.6 166.5h0M478.1 165.5h0M479.6 166.0h0M481.1 166.5h0M482.4 168.8h0M483.8 171.2h0M485.1 173.5h0M486.4 176.5h0M487.8 179.5h0M489.1 182.5h0M490.4 185.6h0M491.8 188.6h0M493.1 191.7h0M494.7 195.6h0M496.3 199.5h0M497.9 200.5h0M499.5 201.5h0M500.8 199.8h0M502.2 198.2h0M503.5 196.5h0M504.8 192.5h0M506.2 188.5h0M507.5 184.5h0M508.8 180.5h0M510.0 176.5h0M511.2 174.5h0M512.5 172.5h0M514.0 171.2h0M515.5 170.0h0M516.7 169.8h0M517.8 169.7h0M519.0 169.5h0M520.2 170.3h0M521.3 171.2h0M522.5 172.0h0M523.8 173.5h0M525.2 175.0h0M526.5 176.5h0M527.8 178.3h0M529.2 180.2h0M530.5 182.0h0M531.8 184.6h0M533.0 187.2h0M534.2 189.9h0M535.5 192.5h0M536.8 194.5h0M538.2 196.5h0M539.5 198.5h0M541.0 198.9h0M542.4 199.4h0M543.8 199.9h0M545.3 200.3h0M546.7 198.7h0M548.1 197.1h0M549.5 195.5h0M550.7 194.0h0M552.0 192.5h0M553.2 191.0h0M554.5 188.4h0M555.9 185.7h0M557.2 183.1h0M558.3 180.6h0M559.4 178.0h0M560.5 175.5h0M562.0 171.5h0M563.5 167.5h0M564.7 163.3h0M566.0 159.1h0M567.2 154.9h0M568.4 150.7h0M569.5 146.5h0M571.0 140.8h0M572.5 135.2h0M574.3 126.3h0M576.0 120.5h0M576.8 118.3h0M578.6 113.6h0M579.8 108.8h0M581.0 104.0h0M582.2 99.3h0M583.7 94.5h0M584.9 92.2h0M586.0 89.8h0M587.2 87.5h0M588.7 84.8h0M590.1 82.2h0M591.6 80.4h0M593.1 78.6h0M594.3 77.5h0M595.5 76.5h0M596.9 76.0h0M598.2 75.5h0M599.3 75.5h0M600.4 75.5h0M601.5 75.5h0M603.0 76.4h0M604.5 77.3h0M605.8 78.0h0M607.0 78.7h0M608.2 79.4h0M609.5 80.1h0M610.8 80.7h0M612.0 81.3h0M613.2 81.9h0M614.5 82.5h0M616.0 82.9h0M617.5 83.4h0M619.0 83.8h0M620.2 83.6h0M621.3 83.5h0M622.5 83.3h0M624.0 82.2h0M625.5 81.0h0M627.0 79.2h0M628.5 77.5h0M630.0 75.0h0M631.5 72.5h0M633.0 69.3h0M634.5 66.0h0M636.0 62.8h0M637.3 61.0h0M638.5 59.2h0M639.8 57.4h0M641.1 55.9h0M642.3 54.3h0M643.6 52.8h0M644.9 51.8h0M646.2 50.8h0M647.5 49.8h0M648.8 49.0h0M650.0 48.3h0M651.3 47.5h0M652.6 47.0h0M653.8 46.4h0M655.1 45.9h0M656.6 45.5h0M658.0 45.2h0M659.5 44.8h0M660.9 44.5h0M662.2 44.3h0M663.6 44.0h0M664.9 43.8h0M666.3 43.5h0M667.7 43.2h0M669.0 42.8h0M670.4 42.5h0M671.8 42.2h0M673.1 41.8h0M674.5 41.5h0M675.8 41.2h0M677.0 41.0h0M678.2 40.8h0M679.5 40.5h0M680.8 40.2h0M682.0 40.0h0M683.2 39.8h0M684.5 39.5h0M685.8 39.4h0M687.0 39.4h0M688.2 39.3h0M689.5 39.2h0M690.8 39.2h0M692.0 39.1h0M693.2 39.1h0M694.5 39.0h0" stroke="#fff" stroke-width="1.1" stroke-linecap="round" opacity="0.85"/>
<path d="M461.9 222.2L462.1 215.3L463.1 211.3L464.1 207.3L465.1 202.4L466.1 197.5L468.0 187.6L469.0 183.6L470.0 179.7L471.0 176.7L472.0 173.7L473.5 170.8L475.0 167.8L476.4 166.3L477.9 164.8L479.1 165.1L480.3 165.5L481.5 165.8L482.8 167.8L484.1 169.8L485.4 171.8L486.7 174.4L488.1 177.1L489.4 179.7L490.7 182.7L492.1 185.7L493.4 188.7L495.0 192.1L496.6 195.5L498.2 196.5L499.8 197.5L501.1 196.2L502.3 194.8L503.6 193.5L504.9 190.0L506.3 186.5L507.6 183.0L508.8 180.5L510.0 178.0L511.0 176.8L512.0 175.6L513.3 173.9L514.6 172.2L515.9 170.9L517.2 169.6L518.5 169.2L519.7 168.8L520.8 169.4L522.0 169.9L523.1 170.5L524.5 171.9L526.0 173.3L527.4 174.7L528.5 176.1L529.7 177.6L530.8 179.0L532.1 181.6L533.4 184.1L534.6 186.6L535.9 189.2L537.2 191.8L538.5 194.3L539.6 196.3L540.8 198.3L541.9 200.3L543.1 201.3L544.3 202.4L545.5 203.4L546.7 204.4L547.9 203.8L549.1 203.3L550.3 202.7L551.5 201.9L552.7 201.1L553.9 200.3L555.3 198.5L556.8 196.7L558.3 194.3L559.8 191.9L561.0 188.9L562.2 186.0L564.0 181.8L565.3 176.9L566.6 172.0L567.6 167.0L568.6 162.0L569.9 158.7L571.2 155.4L573.0 147.6L574.8 142.3L576.0 137.5L577.5 130.9L578.8 128.2L580.0 125.5L581.0 122.5L582.1 119.4L583.3 114.1L584.3 109.0L586.0 103.6L587.8 97.1L589.6 90.5L590.8 87.8L591.9 85.2L593.4 83.1L594.9 81.0L596.1 80.3L597.3 79.5L598.5 78.8L599.7 79.0L600.9 79.3L602.1 79.5L603.7 80.5L605.3 81.5L606.5 82.3L607.6 83.2L608.8 84.0L609.9 84.8L611.1 85.5L612.2 86.3L613.4 86.9L614.5 87.5L615.7 88.1L616.9 88.5L618.1 88.9L619.3 89.3L620.8 89.2L622.3 89.0L623.8 88.2L625.3 87.5L626.8 86.0L628.3 84.5L629.5 83.0L630.6 81.5L631.8 79.8L633.0 78.0L634.2 75.5L635.5 73.0L636.8 70.8L638.0 68.6L639.3 66.6L640.5 64.5L641.8 62.5L643.1 60.7L644.4 58.9L645.7 57.1L647.0 55.8L648.2 54.6L649.5 53.3L650.8 52.3L652.0 51.3L653.3 50.3L654.6 49.5L655.9 48.8L657.2 48.0L658.6 47.4L660.0 46.8L661.2 46.4L662.5 46.0L663.8 45.6L665.0 45.1L666.2 44.7L667.5 44.3L668.8 43.9L670.0 43.5L671.2 43.3L672.5 43.1L673.8 42.9L675.0 42.8L676.2 42.6L677.5 42.4L678.8 42.2L680.0 42.0L681.2 41.8L682.5 41.6L683.8 41.5L685.0 41.3L686.2 41.3L687.5 41.2L688.8 41.2L690.0 41.1L691.2 41.1L692.5 41.1L693.8 41.0L695.0 41.0" fill="none" stroke="#0000FF" stroke-width="1.1"/><path d="M461.9 222.2h0M462.1 215.3h0M463.1 211.3h0M464.1 207.3h0M465.1 202.4h0M466.1 197.5h0M468.0 187.6h0M469.0 183.6h0M470.0 179.7h0M471.0 176.7h0M472.0 173.7h0M473.5 170.8h0M475.0 167.8h0M476.4 166.3h0M477.9 164.8h0M479.1 165.1h0M480.3 165.5h0M481.5 165.8h0M482.8 167.8h0M484.1 169.8h0M485.4 171.8h0M486.7 174.4h0M488.1 177.1h0M489.4 179.7h0M490.7 182.7h0M492.1 185.7h0M493.4 188.7h0M495.0 192.1h0M496.6 195.5h0M498.2 196.5h0M499.8 197.5h0M501.1 196.2h0M502.3 194.8h0M503.6 193.5h0M504.9 190.0h0M506.3 186.5h0M507.6 183.0h0M508.8 180.5h0M510.0 178.0h0M511.0 176.8h0M512.0 175.6h0M513.3 173.9h0M514.6 172.2h0M515.9 170.9h0M517.2 169.6h0M518.5 169.2h0M519.7 168.8h0M520.8 169.4h0M522.0 169.9h0M523.1 170.5h0M524.5 171.9h0M526.0 173.3h0M527.4 174.7h0M528.5 176.1h0M529.7 177.6h0M530.8 179.0h0M532.1 181.6h0M533.4 184.1h0M534.6 186.6h0M535.9 189.2h0M537.2 191.8h0M538.5 194.3h0M539.6 196.3h0M540.8 198.3h0M541.9 200.3h0M543.1 201.3h0M544.3 202.4h0M545.5 203.4h0M546.7 204.4h0M547.9 203.8h0M549.1 203.3h0M550.3 202.7h0M551.5 201.9h0M552.7 201.1h0M553.9 200.3h0M555.3 198.5h0M556.8 196.7h0M558.3 194.3h0M559.8 191.9h0M561.0 188.9h0M562.2 186.0h0M564.0 181.8h0M565.3 176.9h0M566.6 172.0h0M567.6 167.0h0M568.6 162.0h0M569.9 158.7h0M571.2 155.4h0M573.0 147.6h0M574.8 142.3h0M576.0 137.5h0M577.5 130.9h0M578.8 128.2h0M580.0 125.5h0M581.0 122.5h0M582.1 119.4h0M583.3 114.1h0M584.3 109.0h0M586.0 103.6h0M587.8 97.1h0M589.6 90.5h0M590.8 87.8h0M591.9 85.2h0M593.4 83.1h0M594.9 81.0h0M596.1 80.3h0M597.3 79.5h0M598.5 78.8h0M599.7 79.0h0M600.9 79.3h0M602.1 79.5h0M603.7 80.5h0M605.3 81.5h0M606.5 82.3h0M607.6 83.2h0M608.8 84.0h0M609.9 84.8h0M611.1 85.5h0M612.2 86.3h0M613.4 86.9h0M614.5 87.5h0M615.7 88.1h0M616.9 88.5h0M618.1 88.9h0M619.3 89.3h0M620.8 89.2h0M622.3 89.0h0M623.8 88.2h0M625.3 87.5h0M626.8 86.0h0M628.3 84.5h0M629.5 83.0h0M630.6 81.5h0M631.8 79.8h0M633.0 78.0h0M634.2 75.5h0M635.5 73.0h0M636.8 70.8h0M638.0 68.6h0M639.3 66.6h0M640.5 64.5h0M641.8 62.5h0M643.1 60.7h0M644.4 58.9h0M645.7 57.1h0M647.0 55.8h0M648.2 54.6h0M649.5 53.3h0M650.8 52.3h0M652.0 51.3h0M653.3 50.3h0M654.6 49.5h0M655.9 48.8h0M657.2 48.0h0M658.6 47.4h0M660.0 46.8h0M661.2 46.4h0M662.5 46.0h0M663.8 45.6h0M665.0 45.1h0M666.2 44.7h0M667.5 44.3h0M668.8 43.9h0M670.0 43.5h0M671.2 43.3h0M672.5 43.1h0M673.8 42.9h0M675.0 42.8h0M676.2 42.6h0M677.5 42.4h0M678.8 42.2h0M680.0 42.0h0M681.2 41.8h0M682.5 41.6h0M683.8 41.5h0M685.0 41.3h0M686.2 41.3h0M687.5 41.2h0M688.8 41.2h0M690.0 41.1h0M691.2 41.1h0M692.5 41.1h0M693.8 41.0h0M695.0 41.0h0" stroke="#0000FF" stroke-width="6.2" stroke-linecap="round"/><path d="M461.4 221.7h0M461.6 214.8h0M462.6 210.8h0M463.6 206.8h0M464.6 201.9h0M465.6 197.0h0M467.5 187.1h0M468.5 183.1h0M469.5 179.2h0M470.5 176.2h0M471.5 173.2h0M473.0 170.2h0M474.5 167.3h0M475.9 165.8h0M477.4 164.3h0M478.6 164.6h0M479.8 165.0h0M481.0 165.3h0M482.3 167.3h0M483.6 169.3h0M484.9 171.3h0M486.2 173.9h0M487.6 176.6h0M488.9 179.2h0M490.2 182.2h0M491.6 185.2h0M492.9 188.2h0M494.5 191.6h0M496.1 195.0h0M497.7 196.0h0M499.3 197.0h0M500.6 195.7h0M501.8 194.3h0M503.1 193.0h0M504.4 189.5h0M505.8 186.0h0M507.1 182.5h0M508.3 180.0h0M509.5 177.5h0M510.5 176.3h0M511.5 175.1h0M512.8 173.4h0M514.1 171.7h0M515.4 170.4h0M516.7 169.1h0M518.0 168.7h0M519.2 168.3h0M520.3 168.9h0M521.5 169.4h0M522.6 170.0h0M524.0 171.4h0M525.5 172.8h0M526.9 174.2h0M528.0 175.6h0M529.2 177.1h0M530.3 178.5h0M531.6 181.1h0M532.9 183.6h0M534.1 186.1h0M535.4 188.7h0M536.7 191.2h0M538.0 193.8h0M539.1 195.8h0M540.3 197.8h0M541.4 199.8h0M542.6 200.8h0M543.8 201.9h0M545.0 202.9h0M546.2 203.9h0M547.4 203.3h0M548.6 202.8h0M549.8 202.2h0M551.0 201.4h0M552.2 200.6h0M553.4 199.8h0M554.8 198.0h0M556.3 196.2h0M557.8 193.8h0M559.3 191.4h0M560.5 188.4h0M561.7 185.5h0M563.5 181.3h0M564.8 176.4h0M566.1 171.5h0M567.1 166.5h0M568.1 161.5h0M569.4 158.2h0M570.7 154.9h0M572.5 147.1h0M574.3 141.8h0M575.5 137.0h0M577.0 130.4h0M578.2 127.7h0M579.5 125.0h0M580.5 122.0h0M581.6 118.9h0M582.8 113.6h0M583.8 108.5h0M585.5 103.1h0M587.3 96.6h0M589.1 90.0h0M590.2 87.3h0M591.4 84.7h0M592.9 82.6h0M594.4 80.5h0M595.6 79.8h0M596.8 79.0h0M598.0 78.3h0M599.2 78.5h0M600.4 78.8h0M601.6 79.0h0M603.2 80.0h0M604.8 81.0h0M606.0 81.8h0M607.1 82.7h0M608.3 83.5h0M609.4 84.3h0M610.6 85.0h0M611.7 85.8h0M612.9 86.4h0M614.0 87.0h0M615.2 87.6h0M616.4 88.0h0M617.6 88.4h0M618.8 88.8h0M620.3 88.7h0M621.8 88.5h0M623.3 87.8h0M624.8 87.0h0M626.3 85.5h0M627.8 84.0h0M629.0 82.5h0M630.1 81.0h0M631.3 79.2h0M632.5 77.5h0M633.8 75.0h0M635.0 72.5h0M636.2 70.3h0M637.5 68.1h0M638.8 66.1h0M640.0 64.0h0M641.3 62.0h0M642.6 60.2h0M643.9 58.4h0M645.2 56.6h0M646.5 55.3h0M647.7 54.1h0M649.0 52.8h0M650.3 51.8h0M651.5 50.8h0M652.8 49.8h0M654.1 49.0h0M655.4 48.3h0M656.7 47.5h0M658.1 46.9h0M659.5 46.3h0M660.8 45.9h0M662.0 45.5h0M663.2 45.1h0M664.5 44.6h0M665.8 44.2h0M667.0 43.8h0M668.2 43.4h0M669.5 43.0h0M670.8 42.8h0M672.0 42.6h0M673.2 42.4h0M674.5 42.2h0M675.8 42.1h0M677.0 41.9h0M678.2 41.7h0M679.5 41.5h0M680.8 41.3h0M682.0 41.1h0M683.2 41.0h0M684.5 40.8h0M685.8 40.8h0M687.0 40.7h0M688.2 40.7h0M689.5 40.6h0M690.8 40.6h0M692.0 40.6h0M693.2 40.5h0M694.5 40.5h0" stroke="#fff" stroke-width="1.1" stroke-linecap="round" opacity="0.85"/>
<path d="M478.6 220.0L480.5 207.3L482.0 200.4L483.5 193.5L484.9 187.6L486.4 181.6L487.7 179.0L489.1 176.4L490.4 173.8L491.7 172.4L492.9 171.0L494.2 169.6L495.8 170.3L497.4 171.0L498.5 172.3L499.6 173.6L500.7 174.9L502.0 177.5L503.3 180.2L504.6 182.8L506.1 186.8L507.6 190.7L509.1 195.6L510.5 200.6L512.0 205.6L513.5 210.5L515.0 214.4L516.5 218.4L518.0 221.4L519.4 224.4L520.7 222.7L522.1 220.9L523.4 219.2L524.7 217.6L526.0 216.1L527.3 214.5L528.6 214.1L530.0 213.6L531.3 213.2L532.6 213.1L533.9 212.9L535.3 212.8L536.6 212.6L537.9 212.5L539.1 211.7L540.3 210.9L541.4 210.1L542.6 209.3L543.8 208.5L545.0 208.7L546.2 208.8L547.4 209.0L548.6 209.1L549.8 209.3L551.0 209.3L552.2 209.3L553.3 209.3L554.5 209.3L555.7 209.3L557.0 208.0L558.4 206.7L559.7 205.4L561.0 202.8L562.3 200.1L563.6 197.5L564.9 194.2L566.3 190.9L567.6 187.6L568.9 184.3L570.2 181.0L571.5 177.7L572.8 174.4L574.2 171.1L575.5 167.8L576.8 164.5L578.1 161.2L579.4 157.9L580.9 153.9L582.4 150.0L583.5 146.0L584.5 142.0L585.5 138.0L586.5 134.0L588.0 127.0L589.8 120.6L591.6 115.9L592.8 111.1L593.7 105.4L595.5 99.5L597.3 94.1L598.5 92.0L599.7 89.9L601.2 88.7L602.7 87.5L604.2 87.8L605.7 88.1L607.2 89.3L608.6 90.5L610.1 92.2L611.6 93.8L612.8 96.0L613.9 98.2L615.4 100.0L616.9 101.7L618.1 103.1L619.3 104.6L620.5 106.0L621.7 106.5L622.9 107.0L624.1 107.5L625.3 106.5L626.5 105.5L627.7 104.5L628.9 102.5L630.0 100.6L631.2 98.6L632.4 96.8L633.6 95.0L635.0 89.0L636.5 84.0L637.8 81.4L639.0 78.9L640.3 76.3L641.6 74.3L642.8 72.2L644.1 70.2L645.4 68.1L646.7 66.1L648.0 64.0L649.3 62.5L650.5 60.9L651.8 59.4L653.1 58.1L654.3 56.9L655.6 55.6L657.1 54.6L658.5 53.5L660.0 52.5L661.2 51.6L662.5 50.8L663.8 49.9L665.0 49.0L666.2 48.4L667.5 47.8L668.8 47.1L670.0 46.5L671.2 46.5L672.5 46.5L673.8 46.5L675.0 46.5L676.2 46.8L677.5 47.0L678.8 47.2L680.0 47.5L681.2 47.8L682.5 48.0L683.8 48.2L685.0 48.5L686.2 48.6L687.5 48.8L688.8 48.9L690.0 49.0L691.2 49.1L692.5 49.2L693.8 49.4L695.0 49.5" fill="none" stroke="#00FF00" stroke-width="1.1"/><path d="M478.6 220.0h0M480.5 207.3h0M482.0 200.4h0M483.5 193.5h0M484.9 187.6h0M486.4 181.6h0M487.7 179.0h0M489.1 176.4h0M490.4 173.8h0M491.7 172.4h0M492.9 171.0h0M494.2 169.6h0M495.8 170.3h0M497.4 171.0h0M498.5 172.3h0M499.6 173.6h0M500.7 174.9h0M502.0 177.5h0M503.3 180.2h0M504.6 182.8h0M506.1 186.8h0M507.6 190.7h0M509.1 195.6h0M510.5 200.6h0M512.0 205.6h0M513.5 210.5h0M515.0 214.4h0M516.5 218.4h0M518.0 221.4h0M519.4 224.4h0M520.7 222.7h0M522.1 220.9h0M523.4 219.2h0M524.7 217.6h0M526.0 216.1h0M527.3 214.5h0M528.6 214.1h0M530.0 213.6h0M531.3 213.2h0M532.6 213.1h0M533.9 212.9h0M535.3 212.8h0M536.6 212.6h0M537.9 212.5h0M539.1 211.7h0M540.3 210.9h0M541.4 210.1h0M542.6 209.3h0M543.8 208.5h0M545.0 208.7h0M546.2 208.8h0M547.4 209.0h0M548.6 209.1h0M549.8 209.3h0M551.0 209.3h0M552.2 209.3h0M553.3 209.3h0M554.5 209.3h0M555.7 209.3h0M557.0 208.0h0M558.4 206.7h0M559.7 205.4h0M561.0 202.8h0M562.3 200.1h0M563.6 197.5h0M564.9 194.2h0M566.3 190.9h0M567.6 187.6h0M568.9 184.3h0M570.2 181.0h0M571.5 177.7h0M572.8 174.4h0M574.2 171.1h0M575.5 167.8h0M576.8 164.5h0M578.1 161.2h0M579.4 157.9h0M580.9 153.9h0M582.4 150.0h0M583.5 146.0h0M584.5 142.0h0M585.5 138.0h0M586.5 134.0h0M588.0 127.0h0M589.8 120.6h0M591.6 115.9h0M592.8 111.1h0M593.7 105.4h0M595.5 99.5h0M597.3 94.1h0M598.5 92.0h0M599.7 89.9h0M601.2 88.7h0M602.7 87.5h0M604.2 87.8h0M605.7 88.1h0M607.2 89.3h0M608.6 90.5h0M610.1 92.2h0M611.6 93.8h0M612.8 96.0h0M613.9 98.2h0M615.4 100.0h0M616.9 101.7h0M618.1 103.1h0M619.3 104.6h0M620.5 106.0h0M621.7 106.5h0M622.9 107.0h0M624.1 107.5h0M625.3 106.5h0M626.5 105.5h0M627.7 104.5h0M628.9 102.5h0M630.0 100.6h0M631.2 98.6h0M632.4 96.8h0M633.6 95.0h0M635.0 89.0h0M636.5 84.0h0M637.8 81.4h0M639.0 78.9h0M640.3 76.3h0M641.6 74.3h0M642.8 72.2h0M644.1 70.2h0M645.4 68.1h0M646.7 66.1h0M648.0 64.0h0M649.3 62.5h0M650.5 60.9h0M651.8 59.4h0M653.1 58.1h0M654.3 56.9h0M655.6 55.6h0M657.1 54.6h0M658.5 53.5h0M660.0 52.5h0M661.2 51.6h0M662.5 50.8h0M663.8 49.9h0M665.0 49.0h0M666.2 48.4h0M667.5 47.8h0M668.8 47.1h0M670.0 46.5h0M671.2 46.5h0M672.5 46.5h0M673.8 46.5h0M675.0 46.5h0M676.2 46.8h0M677.5 47.0h0M678.8 47.2h0M680.0 47.5h0M681.2 47.8h0M682.5 48.0h0M683.8 48.2h0M685.0 48.5h0M686.2 48.6h0M687.5 48.8h0M688.8 48.9h0M690.0 49.0h0M691.2 49.1h0M692.5 49.2h0M693.8 49.4h0M695.0 49.5h0" stroke="#00FF00" stroke-width="6.2" stroke-linecap="round"/><path d="M478.1 219.5h0M480.0 206.8h0M481.5 199.9h0M483.0 193.0h0M484.4 187.1h0M485.9 181.1h0M487.2 178.5h0M488.6 175.9h0M489.9 173.3h0M491.2 171.9h0M492.4 170.5h0M493.7 169.1h0M495.3 169.8h0M496.9 170.5h0M498.0 171.8h0M499.1 173.1h0M500.2 174.4h0M501.5 177.0h0M502.8 179.7h0M504.1 182.3h0M505.6 186.2h0M507.1 190.2h0M508.6 195.1h0M510.0 200.1h0M511.5 205.1h0M513.0 210.0h0M514.5 213.9h0M516.0 217.9h0M517.5 220.9h0M518.9 223.9h0M520.2 222.2h0M521.6 220.4h0M522.9 218.7h0M524.2 217.1h0M525.5 215.6h0M526.8 214.0h0M528.1 213.6h0M529.5 213.1h0M530.8 212.7h0M532.1 212.6h0M533.4 212.4h0M534.8 212.3h0M536.1 212.1h0M537.4 212.0h0M538.6 211.2h0M539.8 210.4h0M540.9 209.6h0M542.1 208.8h0M543.3 208.0h0M544.5 208.2h0M545.7 208.3h0M546.9 208.5h0M548.1 208.6h0M549.3 208.8h0M550.5 208.8h0M551.7 208.8h0M552.8 208.8h0M554.0 208.8h0M555.2 208.8h0M556.5 207.5h0M557.9 206.2h0M559.2 204.9h0M560.5 202.3h0M561.8 199.6h0M563.1 197.0h0M564.4 193.7h0M565.8 190.4h0M567.1 187.1h0M568.4 183.8h0M569.7 180.5h0M571.0 177.2h0M572.3 173.9h0M573.7 170.6h0M575.0 167.3h0M576.3 164.0h0M577.6 160.7h0M578.9 157.4h0M580.4 153.4h0M581.9 149.5h0M583.0 145.5h0M584.0 141.5h0M585.0 137.5h0M586.0 133.5h0M587.5 126.5h0M589.3 120.1h0M591.1 115.4h0M592.3 110.6h0M593.2 104.9h0M595.0 99.0h0M596.8 93.6h0M598.0 91.5h0M599.2 89.4h0M600.7 88.2h0M602.2 87.0h0M603.7 87.3h0M605.2 87.6h0M606.7 88.8h0M608.1 90.0h0M609.6 91.7h0M611.1 93.3h0M612.2 95.5h0M613.4 97.7h0M614.9 99.5h0M616.4 101.2h0M617.6 102.6h0M618.8 104.1h0M620.0 105.5h0M621.2 106.0h0M622.4 106.5h0M623.6 107.0h0M624.8 106.0h0M626.0 105.0h0M627.2 104.0h0M628.4 102.0h0M629.5 100.1h0M630.7 98.1h0M631.9 96.3h0M633.1 94.5h0M634.5 88.5h0M636.0 83.5h0M637.3 80.9h0M638.5 78.4h0M639.8 75.8h0M641.1 73.8h0M642.3 71.7h0M643.6 69.7h0M644.9 67.6h0M646.2 65.6h0M647.5 63.5h0M648.8 62.0h0M650.0 60.4h0M651.3 58.9h0M652.6 57.6h0M653.8 56.4h0M655.1 55.1h0M656.6 54.1h0M658.0 53.0h0M659.5 52.0h0M660.8 51.1h0M662.0 50.2h0M663.2 49.4h0M664.5 48.5h0M665.8 47.9h0M667.0 47.2h0M668.2 46.6h0M669.5 46.0h0M670.8 46.0h0M672.0 46.0h0M673.2 46.0h0M674.5 46.0h0M675.8 46.2h0M677.0 46.5h0M678.2 46.8h0M679.5 47.0h0M680.8 47.2h0M682.0 47.5h0M683.2 47.8h0M684.5 48.0h0M685.8 48.1h0M687.0 48.2h0M688.2 48.4h0M689.5 48.5h0M690.8 48.6h0M692.0 48.8h0M693.2 48.9h0M694.5 49.0h0" stroke="#fff" stroke-width="1.1" stroke-linecap="round" opacity="0.85"/>
<path d="M493.7 219.2L494.7 210.8L495.7 202.3L497.2 194.4L498.7 186.5L499.9 182.3L501.0 178.1L502.1 177.5L503.3 177.0L504.4 176.4L505.5 177.3L506.7 178.1L507.8 179.0L509.1 181.1L510.3 183.2L511.6 185.3L512.9 187.5L514.6 192.6L516.0 198.5L517.5 206.4L519.4 214.3L520.9 218.2L522.4 222.2L523.4 226.1L524.4 230.1L525.7 231.6L527.0 233.0L528.1 233.5L529.3 234.0L530.6 230.0L532.0 226.0L533.5 222.0L535.0 218.0L536.5 216.2L538.0 214.3L539.5 213.3L540.9 212.3L542.3 211.3L543.8 210.3L545.0 210.9L546.2 211.5L547.4 212.1L548.6 212.7L549.8 213.3L551.0 214.1L552.2 214.9L553.3 215.6L554.5 216.4L555.7 217.2L557.0 218.7L558.2 220.2L559.5 221.7L560.7 223.2L562.0 220.6L563.3 217.9L564.6 215.3L565.9 212.6L567.3 210.0L568.6 207.3L569.9 204.0L571.2 200.8L572.5 197.5L573.8 193.5L575.2 189.6L576.5 185.6L577.8 181.6L579.1 177.7L580.4 173.7L581.7 170.1L583.1 166.6L584.4 163.0L585.6 160.0L586.9 157.0L588.3 151.3L589.7 145.6L591.1 139.1L592.5 132.5L593.5 128.2L594.5 124.0L595.5 121.0L596.5 118.0L597.5 115.5L598.5 113.0L599.7 109.8L600.9 106.6L602.1 104.5L603.3 102.4L604.8 101.2L606.3 100.1L607.8 100.1L609.2 100.1L610.7 100.7L612.2 101.3L613.9 104.5L615.4 106.0L616.9 107.5L618.4 109.0L619.9 110.5L621.4 111.4L622.9 112.3L624.1 112.6L625.3 112.9L626.5 112.3L627.7 111.7L628.9 110.5L630.0 109.3L631.2 107.5L632.4 105.7L633.6 103.7L634.8 101.6L636.0 99.2L637.2 96.8L638.4 93.4L639.5 90.0L640.6 86.5L641.8 83.0L643.1 80.8L644.4 78.5L645.7 76.3L647.0 74.3L648.2 72.2L649.5 70.2L650.8 68.4L652.0 66.6L653.3 64.8L654.6 63.3L655.9 61.7L657.2 60.2L658.6 58.7L660.0 57.1L661.2 55.8L662.5 54.5L663.8 53.3L665.0 52.0L666.2 51.2L667.5 50.5L668.8 49.8L670.0 49.0L671.2 48.6L672.5 48.2L673.8 47.9L675.0 47.5L676.2 47.2L677.5 47.0L678.8 46.8L680.0 46.5L681.2 46.5L682.5 46.4L683.8 46.4L685.0 46.4L686.2 46.3L687.5 46.3L688.8 46.2L690.0 46.2L691.2 46.2L692.5 46.2L693.8 46.2L695.0 46.2" fill="none" stroke="#FF0000" stroke-width="1.1"/><path d="M493.7 219.2h0M494.7 210.8h0M495.7 202.3h0M497.2 194.4h0M498.7 186.5h0M499.9 182.3h0M501.0 178.1h0M502.1 177.5h0M503.3 177.0h0M504.4 176.4h0M505.5 177.3h0M506.7 178.1h0M507.8 179.0h0M509.1 181.1h0M510.3 183.2h0M511.6 185.3h0M512.9 187.5h0M514.6 192.6h0M516.0 198.5h0M517.5 206.4h0M519.4 214.3h0M520.9 218.2h0M522.4 222.2h0M523.4 226.1h0M524.4 230.1h0M525.7 231.6h0M527.0 233.0h0M528.1 233.5h0M529.3 234.0h0M530.6 230.0h0M532.0 226.0h0M533.5 222.0h0M535.0 218.0h0M536.5 216.2h0M538.0 214.3h0M539.5 213.3h0M540.9 212.3h0M542.3 211.3h0M543.8 210.3h0M545.0 210.9h0M546.2 211.5h0M547.4 212.1h0M548.6 212.7h0M549.8 213.3h0M551.0 214.1h0M552.2 214.9h0M553.3 215.6h0M554.5 216.4h0M555.7 217.2h0M557.0 218.7h0M558.2 220.2h0M559.5 221.7h0M560.7 223.2h0M562.0 220.6h0M563.3 217.9h0M564.6 215.3h0M565.9 212.6h0M567.3 210.0h0M568.6 207.3h0M569.9 204.0h0M571.2 200.8h0M572.5 197.5h0M573.8 193.5h0M575.2 189.6h0M576.5 185.6h0M577.8 181.6h0M579.1 177.7h0M580.4 173.7h0M581.7 170.1h0M583.1 166.6h0M584.4 163.0h0M585.6 160.0h0M586.9 157.0h0M588.3 151.3h0M589.7 145.6h0M591.1 139.1h0M592.5 132.5h0M593.5 128.2h0M594.5 124.0h0M595.5 121.0h0M596.5 118.0h0M597.5 115.5h0M598.5 113.0h0M599.7 109.8h0M600.9 106.6h0M602.1 104.5h0M603.3 102.4h0M604.8 101.2h0M606.3 100.1h0M607.8 100.1h0M609.2 100.1h0M610.7 100.7h0M612.2 101.3h0M613.9 104.5h0M615.4 106.0h0M616.9 107.5h0M618.4 109.0h0M619.9 110.5h0M621.4 111.4h0M622.9 112.3h0M624.1 112.6h0M625.3 112.9h0M626.5 112.3h0M627.7 111.7h0M628.9 110.5h0M630.0 109.3h0M631.2 107.5h0M632.4 105.7h0M633.6 103.7h0M634.8 101.6h0M636.0 99.2h0M637.2 96.8h0M638.4 93.4h0M639.5 90.0h0M640.6 86.5h0M641.8 83.0h0M643.1 80.8h0M644.4 78.5h0M645.7 76.3h0M647.0 74.3h0M648.2 72.2h0M649.5 70.2h0M650.8 68.4h0M652.0 66.6h0M653.3 64.8h0M654.6 63.3h0M655.9 61.7h0M657.2 60.2h0M658.6 58.7h0M660.0 57.1h0M661.2 55.8h0M662.5 54.5h0M663.8 53.3h0M665.0 52.0h0M666.2 51.2h0M667.5 50.5h0M668.8 49.8h0M670.0 49.0h0M671.2 48.6h0M672.5 48.2h0M673.8 47.9h0M675.0 47.5h0M676.2 47.2h0M677.5 47.0h0M678.8 46.8h0M680.0 46.5h0M681.2 46.5h0M682.5 46.4h0M683.8 46.4h0M685.0 46.4h0M686.2 46.3h0M687.5 46.3h0M688.8 46.2h0M690.0 46.2h0M691.2 46.2h0M692.5 46.2h0M693.8 46.2h0M695.0 46.2h0" stroke="#FF0000" stroke-width="6.2" stroke-linecap="round"/><path d="M493.2 218.7h0M494.2 210.2h0M495.2 201.8h0M496.7 193.9h0M498.2 186.0h0M499.4 181.8h0M500.5 177.6h0M501.6 177.0h0M502.8 176.5h0M503.9 175.9h0M505.0 176.8h0M506.2 177.6h0M507.3 178.5h0M508.6 180.6h0M509.8 182.7h0M511.1 184.8h0M512.4 187.0h0M514.1 192.1h0M515.5 198.0h0M517.0 205.9h0M518.9 213.8h0M520.4 217.8h0M521.9 221.7h0M522.9 225.6h0M523.9 229.6h0M525.2 231.1h0M526.5 232.5h0M527.6 233.0h0M528.8 233.5h0M530.1 229.5h0M531.5 225.5h0M533.0 221.5h0M534.5 217.5h0M536.0 215.7h0M537.5 213.8h0M539.0 212.8h0M540.4 211.8h0M541.8 210.8h0M543.3 209.8h0M544.5 210.4h0M545.7 211.0h0M546.9 211.6h0M548.1 212.2h0M549.3 212.8h0M550.5 213.6h0M551.7 214.4h0M552.8 215.1h0M554.0 215.9h0M555.2 216.7h0M556.5 218.2h0M557.7 219.7h0M559.0 221.2h0M560.2 222.7h0M561.5 220.1h0M562.8 217.4h0M564.1 214.8h0M565.4 212.1h0M566.8 209.5h0M568.1 206.8h0M569.4 203.5h0M570.7 200.3h0M572.0 197.0h0M573.3 193.0h0M574.7 189.1h0M576.0 185.1h0M577.3 181.1h0M578.6 177.2h0M579.9 173.2h0M581.2 169.6h0M582.6 166.1h0M583.9 162.5h0M585.1 159.5h0M586.4 156.5h0M587.8 150.8h0M589.2 145.1h0M590.6 138.6h0M592.0 132.0h0M593.0 127.8h0M594.0 123.5h0M595.0 120.5h0M596.0 117.5h0M597.0 115.0h0M598.0 112.5h0M599.2 109.3h0M600.4 106.1h0M601.6 104.0h0M602.8 101.9h0M604.3 100.8h0M605.8 99.6h0M607.2 99.6h0M608.7 99.6h0M610.2 100.2h0M611.7 100.8h0M613.4 104.0h0M614.9 105.5h0M616.4 107.0h0M617.9 108.5h0M619.4 110.0h0M620.9 110.9h0M622.4 111.8h0M623.6 112.1h0M624.8 112.4h0M626.0 111.8h0M627.2 111.2h0M628.4 110.0h0M629.5 108.8h0M630.7 107.0h0M631.9 105.2h0M633.1 103.2h0M634.3 101.1h0M635.5 98.7h0M636.7 96.3h0M637.9 92.9h0M639.0 89.5h0M640.1 86.0h0M641.3 82.5h0M642.6 80.3h0M643.9 78.0h0M645.2 75.8h0M646.5 73.8h0M647.7 71.7h0M649.0 69.7h0M650.3 67.9h0M651.5 66.1h0M652.8 64.3h0M654.1 62.8h0M655.4 61.2h0M656.7 59.7h0M658.1 58.2h0M659.5 56.6h0M660.8 55.3h0M662.0 54.0h0M663.2 52.8h0M664.5 51.5h0M665.8 50.8h0M667.0 50.0h0M668.2 49.2h0M669.5 48.5h0M670.8 48.1h0M672.0 47.8h0M673.2 47.4h0M674.5 47.0h0M675.8 46.8h0M677.0 46.5h0M678.2 46.2h0M679.5 46.0h0M680.8 46.0h0M682.0 45.9h0M683.2 45.9h0M684.5 45.9h0M685.8 45.8h0M687.0 45.8h0M688.2 45.7h0M689.5 45.7h0M690.8 45.7h0M692.0 45.7h0M693.2 45.7h0M694.5 45.7h0" stroke="#fff" stroke-width="1.1" stroke-linecap="round" opacity="0.85"/>
<path d="M515.5 239.0L516.5 233.1L517.5 227.1L519.0 221.2L520.4 215.3L521.9 211.4L523.4 207.4L524.9 203.4L526.4 199.5L527.8 198.5L529.3 197.5L530.6 198.8L532.0 200.1L533.3 201.4L534.4 203.4L535.6 205.4L536.8 207.3L537.9 209.3L539.2 212.0L540.6 214.6L541.9 217.3L543.3 221.1L544.8 224.9L546.3 227.4L547.8 229.8L548.8 233.4L549.8 237.1L550.8 240.1L551.8 243.0L553.2 246.9L554.7 250.8L555.7 257.8L556.7 255.3L557.7 252.8L558.7 242.9L559.7 233.1L561.0 237.0L562.3 241.0L563.6 244.9L564.6 237.0L565.6 229.1L566.9 233.1L568.2 237.0L569.5 241.0L570.5 232.1L571.5 223.2L572.8 225.6L574.0 228.0L575.2 225.1L576.3 222.1L577.5 219.2L578.8 217.9L580.1 216.6L581.4 215.3L583.0 220.0L584.2 216.7L585.4 213.3L586.7 212.0L588.0 210.6L589.3 209.3L590.6 207.3L592.0 205.4L593.3 203.4L594.6 201.4L595.9 199.5L597.2 197.5L598.6 195.3L600.0 193.1L601.2 190.1L602.4 187.1L603.6 184.1L604.8 181.1L606.0 178.1L607.1 175.1L608.3 172.2L609.5 169.2L610.7 166.2L611.9 163.2L613.1 160.3L614.3 157.3L615.5 154.9L616.7 152.5L617.9 150.1L619.1 147.7L620.3 145.9L621.5 144.1L622.7 142.4L623.9 140.6L625.1 139.4L626.2 138.2L627.4 137.0L628.6 135.8L629.8 135.6L631.0 135.3L632.2 135.1L633.4 134.8L634.6 134.6L635.8 135.1L637.0 135.6L638.2 136.0L639.4 136.5L640.6 137.0L642.0 138.0L643.4 138.9L644.9 139.9L646.3 140.8L647.7 141.8L648.9 143.0L650.1 144.2L651.3 145.3L652.5 146.5L653.7 147.1L654.9 147.7L656.1 148.3L657.3 148.9L658.5 147.7L659.7 146.5L660.9 145.3L662.0 140.6L663.2 135.8L664.4 129.9L665.6 123.9L666.8 118.5L668.0 113.0L669.2 108.4L670.5 103.9L671.7 99.3L672.9 96.8L674.2 94.4L675.4 92.0L676.6 89.5L677.8 87.0L679.0 84.6L680.3 82.2L681.5 79.7L682.7 77.2L684.0 74.8L685.2 72.4L686.4 69.9L687.6 67.5L688.8 65.0L690.1 62.6L691.3 60.1L692.6 58.2L694.0 56.4" fill="none" stroke="#000000" stroke-width="1.1"/><path d="M515.5 239.0h0M516.5 233.1h0M517.5 227.1h0M519.0 221.2h0M520.4 215.3h0M521.9 211.4h0M523.4 207.4h0M524.9 203.4h0M526.4 199.5h0M527.8 198.5h0M529.3 197.5h0M530.6 198.8h0M532.0 200.1h0M533.3 201.4h0M534.4 203.4h0M535.6 205.4h0M536.8 207.3h0M537.9 209.3h0M539.2 212.0h0M540.6 214.6h0M541.9 217.3h0M543.3 221.1h0M544.8 224.9h0M546.3 227.4h0M547.8 229.8h0M548.8 233.4h0M549.8 237.1h0M550.8 240.1h0M551.8 243.0h0M553.2 246.9h0M554.7 250.8h0M555.7 257.8h0M556.7 255.3h0M557.7 252.8h0M558.7 242.9h0M559.7 233.1h0M561.0 237.0h0M562.3 241.0h0M563.6 244.9h0M564.6 237.0h0M565.6 229.1h0M566.9 233.1h0M568.2 237.0h0M569.5 241.0h0M570.5 232.1h0M571.5 223.2h0M572.8 225.6h0M574.0 228.0h0M575.2 225.1h0M576.3 222.1h0M577.5 219.2h0M578.8 217.9h0M580.1 216.6h0M581.4 215.3h0M583.0 220.0h0M584.2 216.7h0M585.4 213.3h0M586.7 212.0h0M588.0 210.6h0M589.3 209.3h0M590.6 207.3h0M592.0 205.4h0M593.3 203.4h0M594.6 201.4h0M595.9 199.5h0M597.2 197.5h0M598.6 195.3h0M600.0 193.1h0M601.2 190.1h0M602.4 187.1h0M603.6 184.1h0M604.8 181.1h0M606.0 178.1h0M607.1 175.1h0M608.3 172.2h0M609.5 169.2h0M610.7 166.2h0M611.9 163.2h0M613.1 160.3h0M614.3 157.3h0M615.5 154.9h0M616.7 152.5h0M617.9 150.1h0M619.1 147.7h0M620.3 145.9h0M621.5 144.1h0M622.7 142.4h0M623.9 140.6h0M625.1 139.4h0M626.2 138.2h0M627.4 137.0h0M628.6 135.8h0M629.8 135.6h0M631.0 135.3h0M632.2 135.1h0M633.4 134.8h0M634.6 134.6h0M635.8 135.1h0M637.0 135.6h0M638.2 136.0h0M639.4 136.5h0M640.6 137.0h0M642.0 138.0h0M643.4 138.9h0M644.9 139.9h0M646.3 140.8h0M647.7 141.8h0M648.9 143.0h0M650.1 144.2h0M651.3 145.3h0M652.5 146.5h0M653.7 147.1h0M654.9 147.7h0M656.1 148.3h0M657.3 148.9h0M658.5 147.7h0M659.7 146.5h0M660.9 145.3h0M662.0 140.6h0M663.2 135.8h0M664.4 129.9h0M665.6 123.9h0M666.8 118.5h0M668.0 113.0h0M669.2 108.4h0M670.5 103.9h0M671.7 99.3h0M672.9 96.8h0M674.2 94.4h0M675.4 92.0h0M676.6 89.5h0M677.8 87.0h0M679.0 84.6h0M680.3 82.2h0M681.5 79.7h0M682.7 77.2h0M684.0 74.8h0M685.2 72.4h0M686.4 69.9h0M687.6 67.5h0M688.8 65.0h0M690.1 62.6h0M691.3 60.1h0M692.6 58.2h0M694.0 56.4h0" stroke="#000000" stroke-width="6.2" stroke-linecap="round"/><path d="M515.0 238.5h0M516.0 232.6h0M517.0 226.6h0M518.5 220.7h0M519.9 214.8h0M521.4 210.9h0M522.9 206.9h0M524.4 202.9h0M525.9 199.0h0M527.3 198.0h0M528.8 197.0h0M530.1 198.3h0M531.5 199.6h0M532.8 200.9h0M533.9 202.9h0M535.1 204.9h0M536.2 206.8h0M537.4 208.8h0M538.7 211.5h0M540.1 214.1h0M541.4 216.8h0M542.8 220.6h0M544.3 224.4h0M545.8 226.9h0M547.3 229.3h0M548.3 232.9h0M549.3 236.6h0M550.3 239.6h0M551.3 242.5h0M552.8 246.4h0M554.2 250.3h0M555.2 257.3h0M556.2 254.8h0M557.2 252.3h0M558.2 242.4h0M559.2 232.6h0M560.5 236.5h0M561.8 240.5h0M563.1 244.4h0M564.1 236.5h0M565.1 228.6h0M566.4 232.6h0M567.7 236.5h0M569.0 240.5h0M570.0 231.6h0M571.0 222.7h0M572.2 225.1h0M573.5 227.5h0M574.7 224.6h0M575.8 221.6h0M577.0 218.7h0M578.3 217.4h0M579.6 216.1h0M580.9 214.8h0M582.5 219.5h0M583.7 216.2h0M584.9 212.8h0M586.2 211.5h0M587.5 210.1h0M588.8 208.8h0M590.1 206.8h0M591.5 204.9h0M592.8 202.9h0M594.1 200.9h0M595.4 199.0h0M596.7 197.0h0M598.1 194.8h0M599.5 192.6h0M600.7 189.6h0M601.9 186.6h0M603.1 183.6h0M604.3 180.6h0M605.5 177.6h0M606.6 174.6h0M607.8 171.7h0M609.0 168.7h0M610.2 165.7h0M611.4 162.8h0M612.6 159.8h0M613.8 156.8h0M615.0 154.4h0M616.2 152.0h0M617.4 149.6h0M618.6 147.2h0M619.8 145.4h0M621.0 143.6h0M622.2 141.9h0M623.4 140.1h0M624.6 138.9h0M625.8 137.7h0M626.9 136.5h0M628.1 135.3h0M629.3 135.1h0M630.5 134.8h0M631.7 134.6h0M632.9 134.3h0M634.1 134.1h0M635.3 134.6h0M636.5 135.1h0M637.7 135.5h0M638.9 136.0h0M640.1 136.5h0M641.5 137.5h0M642.9 138.4h0M644.4 139.4h0M645.8 140.3h0M647.2 141.3h0M648.4 142.5h0M649.6 143.7h0M650.8 144.8h0M652.0 146.0h0M653.2 146.6h0M654.4 147.2h0M655.6 147.8h0M656.8 148.4h0M658.0 147.2h0M659.2 146.0h0M660.4 144.8h0M661.5 140.1h0M662.7 135.3h0M663.9 129.4h0M665.1 123.4h0M666.3 118.0h0M667.5 112.5h0M668.7 107.9h0M670.0 103.4h0M671.2 98.8h0M672.4 96.3h0M673.7 93.9h0M674.9 91.5h0M676.1 89.0h0M677.3 86.5h0M678.5 84.1h0M679.8 81.7h0M681.0 79.2h0M682.2 76.8h0M683.5 74.3h0M684.7 71.9h0M685.9 69.4h0M687.1 67.0h0M688.3 64.5h0M689.6 62.1h0M690.8 59.6h0M692.1 57.8h0M693.5 55.9h0" stroke="#fff" stroke-width="1.1" stroke-linecap="round" opacity="0.85"/>
<path d="M488.8 255.1L491 237.5L493.7 218.6" fill="none" stroke="#FF0000" stroke-width="1.1"/></g>
<path d="M418.30 264.20v-4.5M418.30 39.40v2.48M445.87 264.20v-3.5M445.87 39.40v1.93M473.44 264.20v-4.5M473.44 39.40v2.48M501.01 264.20v-3.5M501.01 39.40v1.93M528.58 264.20v-4.5M528.58 39.40v2.48M556.15 264.20v-3.5M556.15 39.40v1.93M583.72 264.20v-4.5M583.72 39.40v2.48M611.29 264.20v-3.5M611.29 39.40v1.93M638.86 264.20v-4.5M638.86 39.40v2.48M666.43 264.20v-3.5M666.43 39.40v1.93M694.00 264.20v-4.5M694.00 39.40v2.48M418.30 260.27h3M694.00 260.27h-1.65M418.30 257.11h3M694.00 257.11h-1.65M418.30 254.37h3M694.00 254.37h-1.65M418.30 251.96h3M694.00 251.96h-1.65M418.30 249.80h4.5M694.00 249.80h-2.48M418.30 235.59h3M694.00 235.59h-1.65M418.30 227.28h3M694.00 227.28h-1.65M418.30 221.38h3M694.00 221.38h-1.65M418.30 216.81h3M694.00 216.81h-1.65M418.30 213.07h3M694.00 213.07h-1.65M418.30 209.91h3M694.00 209.91h-1.65M418.30 207.17h3M694.00 207.17h-1.65M418.30 204.76h3M694.00 204.76h-1.65M418.30 202.60h4.5M694.00 202.60h-2.48M418.30 188.39h3M694.00 188.39h-1.65M418.30 180.08h3M694.00 180.08h-1.65M418.30 174.18h3M694.00 174.18h-1.65M418.30 169.61h3M694.00 169.61h-1.65M418.30 165.87h3M694.00 165.87h-1.65M418.30 162.71h3M694.00 162.71h-1.65M418.30 159.97h3M694.00 159.97h-1.65M418.30 157.56h3M694.00 157.56h-1.65M418.30 155.40h4.5M694.00 155.40h-2.48M418.30 141.19h3M694.00 141.19h-1.65M418.30 132.88h3M694.00 132.88h-1.65M418.30 126.98h3M694.00 126.98h-1.65M418.30 122.41h3M694.00 122.41h-1.65M418.30 118.67h3M694.00 118.67h-1.65M418.30 115.51h3M694.00 115.51h-1.65M418.30 112.77h3M694.00 112.77h-1.65M418.30 110.36h3M694.00 110.36h-1.65M418.30 108.20h4.5M694.00 108.20h-2.48M418.30 93.99h3M694.00 93.99h-1.65M418.30 85.68h3M694.00 85.68h-1.65M418.30 79.78h3M694.00 79.78h-1.65M418.30 75.21h3M694.00 75.21h-1.65M418.30 71.47h3M694.00 71.47h-1.65M418.30 68.31h3M694.00 68.31h-1.65M418.30 65.57h3M694.00 65.57h-1.65M418.30 63.16h3M694.00 63.16h-1.65M418.30 61.00h4.5M694.00 61.00h-2.48M418.30 46.79h3M694.00 46.79h-1.65" stroke="#000" stroke-width="2" fill="none"/>
<rect x="418.3" y="39.4" width="275.70" height="224.80" fill="none" stroke="#000" stroke-width="2.5"/>
<g font-family='"Liberation Sans", sans-serif' font-weight="bold" font-size="14" fill="#000"><text x="418.30" y="281.00" text-anchor="middle">-0.4</text>
<text x="473.44" y="281.00" text-anchor="middle">-0.6</text>
<text x="528.58" y="281.00" text-anchor="middle">-0.8</text>
<text x="583.72" y="281.00" text-anchor="middle">-1</text>
<text x="638.86" y="281.00" text-anchor="middle">-1.2</text>
<text x="694.00" y="281.00" text-anchor="middle">-1.4</text>
<text x="412.70" y="254.40" text-anchor="end">10<tspan font-size="9.5" dy="-6.2">-14</tspan></text>
<text x="412.70" y="207.20" text-anchor="end">10<tspan font-size="9.5" dy="-6.2">-13</tspan></text>
<text x="412.70" y="160.00" text-anchor="end">10<tspan font-size="9.5" dy="-6.2">-12</tspan></text>
<text x="412.70" y="112.80" text-anchor="end">10<tspan font-size="9.5" dy="-6.2">-11</tspan></text>
<text x="412.70" y="65.60" text-anchor="end">10<tspan font-size="9.5" dy="-6.2">-10</tspan></text></g>
<g clip-path="url(#clipc)"><path d="M62.6 540.9L65.3 540.6L68.1 540.1L70.8 538.8L73.6 539.1L76.3 538.5L79.1 540.3L81.8 539.6L85.0 537.0L87.7 531.7L89.8 512.0L91.9 495.0L94.0 491.3L96.0 492.0L98.3 493.4L101.5 467.0L104.7 441.3L106.8 424.3L110.0 407.6L113.2 439.1L115.3 425.3L118.5 422.1L120.6 448.7L123.8 463.6L126.0 470.0L129.1 474.3L132.3 489.1L134.5 470.0L137.7 476.4L139.8 481.7L143.0 493.4L146.2 500.9L148.3 518.9L151.5 524.3L154.7 522.1L157.9 516.8L161.1 505.1L164.3 480.6L167.4 471.1L170.6 454.0L173.4 430.6L176.4 408.6L178.7 389.5L181.8 353.3L184.1 340.9L186.9 347.6L189.8 338.0L192.7 355.2L195.5 355.2L197.8 380.0L200.9 377.1L203.7 393.3L206.4 406.7L209.2 426.7L211.8 448.7L213.9 455.6L216.1 462.6L218.2 481.7L220.3 488.1L222.4 496.6L225.6 503.0L228.8 509.4L232.0 513.6L235.0 512.0L238.0 511.0L241.0 511.5L244.0 518.0L247.0 524.0L250.0 521.0L253.0 514.0L255.5 505.0L258.0 484.0L258.5 474.0L260.1 426.4L263.0 318.0" fill="none" stroke="#FF8000" stroke-width="1.1"/><path d="M62.6 540.9h0M65.3 540.6h0M68.1 540.1h0M70.8 538.8h0M73.6 539.1h0M76.3 538.5h0M79.1 540.3h0M81.8 539.6h0M85.0 537.0h0M87.7 531.7h0M89.8 512.0h0M91.9 495.0h0M94.0 491.3h0M96.0 492.0h0M98.3 493.4h0M101.5 467.0h0M104.7 441.3h0M106.8 424.3h0M110.0 407.6h0M113.2 439.1h0M115.3 425.3h0M118.5 422.1h0M120.6 448.7h0M123.8 463.6h0M126.0 470.0h0M129.1 474.3h0M132.3 489.1h0M134.5 470.0h0M137.7 476.4h0M139.8 481.7h0M143.0 493.4h0M146.2 500.9h0M148.3 518.9h0M151.5 524.3h0M154.7 522.1h0M157.9 516.8h0M161.1 505.1h0M164.3 480.6h0M167.4 471.1h0M170.6 454.0h0M173.4 430.6h0M176.4 408.6h0M178.7 389.5h0M181.8 353.3h0M184.1 340.9h0M186.9 347.6h0M189.8 338.0h0M192.7 355.2h0M195.5 355.2h0M197.8 380.0h0M200.9 377.1h0M203.7 393.3h0M206.4 406.7h0M209.2 426.7h0M211.8 448.7h0M213.9 455.6h0M216.1 462.6h0M218.2 481.7h0M220.3 488.1h0M222.4 496.6h0M225.6 503.0h0M228.8 509.4h0M232.0 513.6h0M235.0 512.0h0M238.0 511.0h0M241.0 511.5h0M244.0 518.0h0M247.0 524.0h0M250.0 521.0h0M253.0 514.0h0M255.5 505.0h0M258.0 484.0h0M258.5 474.0h0M260.1 426.4h0M263.0 318.0h0" stroke="#FF8000" stroke-width="5.6" stroke-linecap="round"/><path d="M62.1 540.4h0M64.8 540.1h0M67.6 539.6h0M70.3 538.3h0M73.1 538.6h0M75.8 538.0h0M78.6 539.8h0M81.3 539.1h0M84.5 536.5h0M87.2 531.2h0M89.3 511.5h0M91.4 494.5h0M93.5 490.8h0M95.5 491.5h0M97.8 492.9h0M101.0 466.5h0M104.2 440.8h0M106.3 423.8h0M109.5 407.1h0M112.7 438.6h0M114.8 424.8h0M118.0 421.6h0M120.1 448.2h0M123.3 463.1h0M125.5 469.5h0M128.6 473.8h0M131.8 488.6h0M134.0 469.5h0M137.2 475.9h0M139.3 481.2h0M142.5 492.9h0M145.7 500.4h0M147.8 518.4h0M151.0 523.8h0M154.2 521.6h0M157.4 516.3h0M160.6 504.6h0M163.8 480.1h0M166.9 470.6h0M170.1 453.5h0M172.9 430.1h0M175.9 408.1h0M178.2 389.0h0M181.3 352.8h0M183.6 340.4h0M186.4 347.1h0M189.3 337.5h0M192.2 354.7h0M195.0 354.7h0M197.3 379.5h0M200.4 376.6h0M203.2 392.8h0M205.9 406.2h0M208.7 426.2h0M211.3 448.2h0M213.4 455.1h0M215.6 462.1h0M217.7 481.2h0M219.8 487.6h0M221.9 496.1h0M225.1 502.5h0M228.3 508.9h0M231.5 513.1h0M234.5 511.5h0M237.5 510.5h0M240.5 511.0h0M243.5 517.5h0M246.5 523.5h0M249.5 520.5h0M252.5 513.5h0M255.0 504.5h0M257.5 483.5h0M258.0 473.5h0M259.6 425.9h0M262.5 317.5h0" stroke="#fff" stroke-width="1.5" stroke-linecap="round" opacity="0.85"/>
<path d="M61.8 538.4L64.5 539.6L67.3 538.1L70.0 539.6L73.8 533.8L76.5 531.0L79.1 530.6L81.3 534.9L84.5 526.4L87.7 525.3L90.9 512.6L93.0 504.0L95.1 488.1L98.3 483.8L101.5 466.8L104.7 453.0L106.8 461.5L109.2 411.5L112.5 384.8L115.3 358.0L118.2 346.6L120.7 322.2L124.1 323.5L126.3 340.9L129.0 347.6L131.9 363.8L134.8 380.0L137.7 401.0L140.5 406.7L143.2 428.6L146.2 449.8L149.4 455.1L151.5 471.1L154.7 481.7L156.8 466.8L160.0 493.4L162.1 494.5L164.3 504.0L167.4 505.1L169.3 496.6L172.5 502.0L176.0 497.0L179.9 493.4L183.1 495.5L186.5 484.0L190.5 472.1L192.7 475.3L194.8 478.5L196.9 447.7L200.1 438.1L203.3 440.2L206.5 454.0L209.7 467.9L211.8 468.9L213.9 470.0L217.1 453.0L220.3 464.7L222.4 475.3L224.6 473.7L226.7 472.1L228.8 488.1L231.0 486.0L233.1 494.5L235.6 500.9L237.8 505.1L239.9 509.4L243.1 513.6L246.3 517.9L248.4 519.5L250.5 521.1L252.7 522.2L254.8 523.2L257.5 522.2L260.1 521.1L262.2 519.5L264.4 517.9L267.6 513.6L270.7 508.3L272.9 506.7L275.0 505.1L277.1 502.5L279.3 499.8L282.4 495.5L285.6 490.2L288.8 476.4L292.0 459.4L294.1 441.3L296.0 424.7L300.0 372.0L302.4 345.0L304.7 318.0" fill="none" stroke="#FF00FF" stroke-width="1.1"/><path d="M61.8 538.4h0M64.5 539.6h0M67.3 538.1h0M70.0 539.6h0M73.8 533.8h0M76.5 531.0h0M79.1 530.6h0M81.3 534.9h0M84.5 526.4h0M87.7 525.3h0M90.9 512.6h0M93.0 504.0h0M95.1 488.1h0M98.3 483.8h0M101.5 466.8h0M104.7 453.0h0M106.8 461.5h0M109.2 411.5h0M112.5 384.8h0M115.3 358.0h0M118.2 346.6h0M120.7 322.2h0M124.1 323.5h0M126.3 340.9h0M129.0 347.6h0M131.9 363.8h0M134.8 380.0h0M137.7 401.0h0M140.5 406.7h0M143.2 428.6h0M146.2 449.8h0M149.4 455.1h0M151.5 471.1h0M154.7 481.7h0M156.8 466.8h0M160.0 493.4h0M162.1 494.5h0M164.3 504.0h0M167.4 505.1h0M169.3 496.6h0M172.5 502.0h0M176.0 497.0h0M179.9 493.4h0M183.1 495.5h0M186.5 484.0h0M190.5 472.1h0M192.7 475.3h0M194.8 478.5h0M196.9 447.7h0M200.1 438.1h0M203.3 440.2h0M206.5 454.0h0M209.7 467.9h0M211.8 468.9h0M213.9 470.0h0M217.1 453.0h0M220.3 464.7h0M222.4 475.3h0M224.6 473.7h0M226.7 472.1h0M228.8 488.1h0M231.0 486.0h0M233.1 494.5h0M235.6 500.9h0M237.8 505.1h0M239.9 509.4h0M243.1 513.6h0M246.3 517.9h0M248.4 519.5h0M250.5 521.1h0M252.7 522.2h0M254.8 523.2h0M257.5 522.2h0M260.1 521.1h0M262.2 519.5h0M264.4 517.9h0M267.6 513.6h0M270.7 508.3h0M272.9 506.7h0M275.0 505.1h0M277.1 502.5h0M279.3 499.8h0M282.4 495.5h0M285.6 490.2h0M288.8 476.4h0M292.0 459.4h0M294.1 441.3h0M296.0 424.7h0M300.0 372.0h0M302.4 345.0h0M304.7 318.0h0" stroke="#FF00FF" stroke-width="5.6" stroke-linecap="round"/><path d="M61.3 537.9h0M64.0 539.1h0M66.8 537.6h0M69.5 539.1h0M73.3 533.3h0M76.0 530.5h0M78.6 530.1h0M80.8 534.4h0M84.0 525.9h0M87.2 524.8h0M90.4 512.1h0M92.5 503.5h0M94.6 487.6h0M97.8 483.3h0M101.0 466.3h0M104.2 452.5h0M106.3 461.0h0M108.7 411.0h0M112.0 384.3h0M114.8 357.5h0M117.7 346.1h0M120.2 321.7h0M123.6 323.0h0M125.8 340.4h0M128.5 347.1h0M131.4 363.3h0M134.3 379.5h0M137.2 400.5h0M140.0 406.2h0M142.7 428.1h0M145.7 449.3h0M148.9 454.6h0M151.0 470.6h0M154.2 481.2h0M156.3 466.3h0M159.5 492.9h0M161.6 494.0h0M163.8 503.5h0M166.9 504.6h0M168.8 496.1h0M172.0 501.5h0M175.5 496.5h0M179.4 492.9h0M182.6 495.0h0M186.0 483.5h0M190.0 471.6h0M192.2 474.8h0M194.3 478.0h0M196.4 447.2h0M199.6 437.6h0M202.8 439.7h0M206.0 453.5h0M209.2 467.4h0M211.3 468.4h0M213.4 469.5h0M216.6 452.5h0M219.8 464.2h0M221.9 474.8h0M224.1 473.2h0M226.2 471.6h0M228.3 487.6h0M230.5 485.5h0M232.6 494.0h0M235.1 500.4h0M237.2 504.6h0M239.4 508.9h0M242.6 513.1h0M245.8 517.4h0M247.9 519.0h0M250.0 520.6h0M252.2 521.7h0M254.3 522.7h0M257.0 521.7h0M259.6 520.6h0M261.8 519.0h0M263.9 517.4h0M267.1 513.1h0M270.2 507.8h0M272.4 506.2h0M274.5 504.6h0M276.6 502.0h0M278.8 499.3h0M281.9 495.0h0M285.1 489.7h0M288.3 475.9h0M291.5 458.9h0M293.6 440.8h0M295.5 424.2h0M299.5 371.5h0M301.9 344.5h0M304.2 317.5h0" stroke="#fff" stroke-width="1.5" stroke-linecap="round" opacity="0.85"/>
<path d="M63.3 540.6L66.0 539.8L68.8 538.4L71.5 538.8L74.3 539.0L77.0 539.1L79.8 538.4L82.5 540.5L85.3 541.0L88.0 539.4L90.8 539.5L93.5 538.3L96.3 538.3L99.0 539.0L101.8 538.8L104.5 540.5L107.3 538.5L110.0 538.1L112.8 540.9L115.5 539.6L119.6 529.6L121.1 529.8L124.9 527.4L128.1 530.6L130.2 525.3L132.3 520.0L135.5 513.6L137.7 492.3L140.9 477.4L143.0 460.4L146.2 433.8L149.1 409.5L151.6 391.4L154.2 363.8L156.7 353.3L159.2 350.4L162.5 336.1L165.3 360.9L168.2 364.7L170.7 383.8L173.3 411.5L175.7 426.5L178.8 451.9L181.0 466.8L184.1 474.3L187.3 484.9L189.5 501.9L192.7 507.2L195.9 513.6L199.0 520.0L202.2 524.3L204.3 527.5L206.5 530.6L208.6 530.1L210.7 529.6L213.4 531.2L216.1 532.8L218.8 533.3L221.4 533.8L224.1 532.2L226.7 530.6L229.3 524.3L231.0 526.4L234.1 520.0L235.6 526.4L238.8 527.5L242.0 528.5L245.2 526.4L248.4 524.3L250.6 521.1L252.7 517.9L254.8 519.0L256.9 520.0L259.5 521.0L262.2 522.1L264.9 523.2L267.6 524.3L270.8 526.4L273.9 528.5L277.1 529.0L280.3 529.6L283.5 529.0L286.7 528.5L288.9 524.7L291.1 520.9L293.6 513.5L296.0 508.6L298.5 503.7L301.0 497.5L303.4 492.5L305.9 483.9L308.4 475.3L310.8 465.4L312.0 455.5L313.3 443.2L315.8 427.1L318.0 410.0L321.1 387.0L324.1 364.0L327.1 341.0L330.2 318.0" fill="none" stroke="#0000FF" stroke-width="1.1"/><path d="M63.3 540.6h0M66.0 539.8h0M68.8 538.4h0M71.5 538.8h0M74.3 539.0h0M77.0 539.1h0M79.8 538.4h0M82.5 540.5h0M85.3 541.0h0M88.0 539.4h0M90.8 539.5h0M93.5 538.3h0M96.3 538.3h0M99.0 539.0h0M101.8 538.8h0M104.5 540.5h0M107.3 538.5h0M110.0 538.1h0M112.8 540.9h0M115.5 539.6h0M119.6 529.6h0M121.1 529.8h0M124.9 527.4h0M128.1 530.6h0M130.2 525.3h0M132.3 520.0h0M135.5 513.6h0M137.7 492.3h0M140.9 477.4h0M143.0 460.4h0M146.2 433.8h0M149.1 409.5h0M151.6 391.4h0M154.2 363.8h0M156.7 353.3h0M159.2 350.4h0M162.5 336.1h0M165.3 360.9h0M168.2 364.7h0M170.7 383.8h0M173.3 411.5h0M175.7 426.5h0M178.8 451.9h0M181.0 466.8h0M184.1 474.3h0M187.3 484.9h0M189.5 501.9h0M192.7 507.2h0M195.9 513.6h0M199.0 520.0h0M202.2 524.3h0M204.3 527.5h0M206.5 530.6h0M208.6 530.1h0M210.7 529.6h0M213.4 531.2h0M216.1 532.8h0M218.8 533.3h0M221.4 533.8h0M224.1 532.2h0M226.7 530.6h0M229.3 524.3h0M231.0 526.4h0M234.1 520.0h0M235.6 526.4h0M238.8 527.5h0M242.0 528.5h0M245.2 526.4h0M248.4 524.3h0M250.6 521.1h0M252.7 517.9h0M254.8 519.0h0M256.9 520.0h0M259.5 521.0h0M262.2 522.1h0M264.9 523.2h0M267.6 524.3h0M270.8 526.4h0M273.9 528.5h0M277.1 529.0h0M280.3 529.6h0M283.5 529.0h0M286.7 528.5h0M288.9 524.7h0M291.1 520.9h0M293.6 513.5h0M296.0 508.6h0M298.5 503.7h0M301.0 497.5h0M303.4 492.5h0M305.9 483.9h0M308.4 475.3h0M310.8 465.4h0M312.0 455.5h0M313.3 443.2h0M315.8 427.1h0M318.0 410.0h0M321.1 387.0h0M324.1 364.0h0M327.1 341.0h0M330.2 318.0h0" stroke="#0000FF" stroke-width="5.6" stroke-linecap="round"/><path d="M62.8 540.1h0M65.5 539.3h0M68.3 537.9h0M71.0 538.3h0M73.8 538.5h0M76.5 538.6h0M79.3 537.9h0M82.0 540.0h0M84.8 540.5h0M87.5 538.9h0M90.3 539.0h0M93.0 537.8h0M95.8 537.8h0M98.5 538.5h0M101.3 538.3h0M104.0 540.0h0M106.8 538.0h0M109.5 537.6h0M112.3 540.4h0M115.0 539.1h0M119.1 529.1h0M120.6 529.3h0M124.4 526.9h0M127.6 530.1h0M129.7 524.8h0M131.8 519.5h0M135.0 513.1h0M137.2 491.8h0M140.4 476.9h0M142.5 459.9h0M145.7 433.3h0M148.6 409.0h0M151.1 390.9h0M153.7 363.3h0M156.2 352.8h0M158.7 349.9h0M162.0 335.6h0M164.8 360.4h0M167.7 364.2h0M170.2 383.3h0M172.8 411.0h0M175.2 426.0h0M178.3 451.4h0M180.5 466.3h0M183.6 473.8h0M186.8 484.4h0M189.0 501.4h0M192.2 506.7h0M195.4 513.1h0M198.5 519.5h0M201.7 523.8h0M203.8 527.0h0M206.0 530.1h0M208.1 529.6h0M210.2 529.1h0M212.9 530.7h0M215.6 532.3h0M218.2 532.8h0M220.9 533.3h0M223.6 531.7h0M226.2 530.1h0M228.8 523.8h0M230.5 525.9h0M233.6 519.5h0M235.1 525.9h0M238.3 527.0h0M241.5 528.0h0M244.7 525.9h0M247.9 523.8h0M250.1 520.6h0M252.2 517.4h0M254.3 518.5h0M256.4 519.5h0M259.0 520.5h0M261.7 521.6h0M264.4 522.7h0M267.1 523.8h0M270.2 525.9h0M273.4 528.0h0M276.6 528.5h0M279.8 529.1h0M283.0 528.5h0M286.2 528.0h0M288.4 524.2h0M290.6 520.4h0M293.1 513.0h0M295.5 508.1h0M298.0 503.2h0M300.5 497.0h0M302.9 492.0h0M305.4 483.4h0M307.9 474.8h0M310.3 464.9h0M311.5 455.0h0M312.8 442.7h0M315.3 426.6h0M317.5 409.5h0M320.6 386.5h0M323.6 363.5h0M326.6 340.5h0M329.7 317.5h0" stroke="#fff" stroke-width="1.5" stroke-linecap="round" opacity="0.85"/>
<path d="M62.2 538.2L65.0 538.3L67.7 538.3L70.5 539.2L73.2 539.5L76.0 538.4L78.7 537.6L81.5 538.9L84.2 538.8L87.0 539.4L89.7 540.6L92.5 539.8L95.2 539.2L98.0 539.6L100.7 539.8L103.5 537.8L106.2 540.5L109.0 540.1L111.7 540.4L114.5 540.2L117.2 538.9L120.0 538.9L122.7 537.9L125.5 539.6L128.2 537.8L130.9 537.8L133.7 538.3L136.4 538.1L139.2 538.7L141.9 537.8L144.7 537.6L147.4 538.1L150.2 537.9L152.9 538.8L155.7 537.7L159.6 533.7L162.0 531.5L164.5 529.8L167.5 525.8L170.5 519.9L172.8 509.4L175.6 496.6L178.8 487.0L182.0 481.7L184.1 475.3L186.3 466.8L189.5 460.4L192.7 457.2L195.9 458.3L199.0 457.2L201.2 462.6L204.4 467.9L206.5 478.5L209.7 484.9L211.8 492.3L215.0 500.9L217.1 508.3L219.3 513.6L222.4 520.0L225.6 526.4L228.8 530.6L232.0 532.8L234.9 532.8L237.8 532.8L240.9 533.8L244.1 534.9L247.3 534.3L250.5 533.8L253.7 530.6L256.9 527.4L259.5 526.9L262.2 526.4L264.9 527.5L267.6 528.5L270.8 529.5L273.9 530.6L277.1 531.7L280.3 532.8L283.5 533.8L286.7 534.9L288.9 533.5L291.0 532.0L294.8 528.3L297.2 525.2L299.7 522.2L303.4 516.0L307.1 508.6L309.6 502.4L313.3 493.8L315.8 486.4L318.3 479.0L322.0 470.3L324.4 462.9L326.9 454.3L329.4 446.9L330.6 438.3L333.1 429.6L334.8 419.7L336.3 404.9L338.0 380.0" fill="none" stroke="#00FF00" stroke-width="1.1"/><path d="M62.2 538.2h0M65.0 538.3h0M67.7 538.3h0M70.5 539.2h0M73.2 539.5h0M76.0 538.4h0M78.7 537.6h0M81.5 538.9h0M84.2 538.8h0M87.0 539.4h0M89.7 540.6h0M92.5 539.8h0M95.2 539.2h0M98.0 539.6h0M100.7 539.8h0M103.5 537.8h0M106.2 540.5h0M109.0 540.1h0M111.7 540.4h0M114.5 540.2h0M117.2 538.9h0M120.0 538.9h0M122.7 537.9h0M125.5 539.6h0M128.2 537.8h0M130.9 537.8h0M133.7 538.3h0M136.4 538.1h0M139.2 538.7h0M141.9 537.8h0M144.7 537.6h0M147.4 538.1h0M150.2 537.9h0M152.9 538.8h0M155.7 537.7h0M159.6 533.7h0M162.0 531.5h0M164.5 529.8h0M167.5 525.8h0M170.5 519.9h0M172.8 509.4h0M175.6 496.6h0M178.8 487.0h0M182.0 481.7h0M184.1 475.3h0M186.3 466.8h0M189.5 460.4h0M192.7 457.2h0M195.9 458.3h0M199.0 457.2h0M201.2 462.6h0M204.4 467.9h0M206.5 478.5h0M209.7 484.9h0M211.8 492.3h0M215.0 500.9h0M217.1 508.3h0M219.3 513.6h0M222.4 520.0h0M225.6 526.4h0M228.8 530.6h0M232.0 532.8h0M234.9 532.8h0M237.8 532.8h0M240.9 533.8h0M244.1 534.9h0M247.3 534.3h0M250.5 533.8h0M253.7 530.6h0M256.9 527.4h0M259.5 526.9h0M262.2 526.4h0M264.9 527.5h0M267.6 528.5h0M270.8 529.5h0M273.9 530.6h0M277.1 531.7h0M280.3 532.8h0M283.5 533.8h0M286.7 534.9h0M288.9 533.5h0M291.0 532.0h0M294.8 528.3h0M297.2 525.2h0M299.7 522.2h0M303.4 516.0h0M307.1 508.6h0M309.6 502.4h0M313.3 493.8h0M315.8 486.4h0M318.3 479.0h0M322.0 470.3h0M324.4 462.9h0M326.9 454.3h0M329.4 446.9h0M330.6 438.3h0M333.1 429.6h0M334.8 419.7h0M336.3 404.9h0M338.0 380.0h0" stroke="#00FF00" stroke-width="5.6" stroke-linecap="round"/><path d="M61.7 537.7h0M64.5 537.8h0M67.2 537.8h0M70.0 538.7h0M72.7 539.0h0M75.5 537.9h0M78.2 537.1h0M81.0 538.4h0M83.7 538.3h0M86.5 538.9h0M89.2 540.1h0M92.0 539.3h0M94.7 538.7h0M97.5 539.1h0M100.2 539.3h0M103.0 537.3h0M105.7 540.0h0M108.5 539.6h0M111.2 539.9h0M114.0 539.7h0M116.7 538.4h0M119.5 538.4h0M122.2 537.4h0M125.0 539.1h0M127.7 537.3h0M130.4 537.3h0M133.2 537.8h0M135.9 537.6h0M138.7 538.2h0M141.4 537.3h0M144.2 537.1h0M146.9 537.6h0M149.7 537.4h0M152.4 538.3h0M155.2 537.2h0M159.1 533.2h0M161.5 531.0h0M164.0 529.3h0M167.0 525.3h0M170.0 519.4h0M172.3 508.9h0M175.1 496.1h0M178.3 486.5h0M181.5 481.2h0M183.6 474.8h0M185.8 466.3h0M189.0 459.9h0M192.2 456.7h0M195.4 457.8h0M198.5 456.7h0M200.7 462.1h0M203.9 467.4h0M206.0 478.0h0M209.2 484.4h0M211.3 491.8h0M214.5 500.4h0M216.6 507.8h0M218.8 513.1h0M221.9 519.5h0M225.1 525.9h0M228.3 530.1h0M231.5 532.3h0M234.4 532.3h0M237.3 532.3h0M240.4 533.3h0M243.6 534.4h0M246.8 533.8h0M250.0 533.3h0M253.2 530.1h0M256.4 526.9h0M259.0 526.4h0M261.7 525.9h0M264.4 527.0h0M267.1 528.0h0M270.2 529.0h0M273.4 530.1h0M276.6 531.2h0M279.8 532.3h0M283.0 533.3h0M286.2 534.4h0M288.4 533.0h0M290.5 531.5h0M294.3 527.8h0M296.8 524.8h0M299.2 521.7h0M302.9 515.5h0M306.6 508.1h0M309.1 501.9h0M312.8 493.3h0M315.3 485.9h0M317.8 478.5h0M321.5 469.8h0M323.9 462.4h0M326.4 453.8h0M328.9 446.4h0M330.1 437.8h0M332.6 429.1h0M334.3 419.2h0M335.8 404.4h0M337.5 379.5h0" stroke="#fff" stroke-width="1.5" stroke-linecap="round" opacity="0.85"/>
<path d="M62.9 539.7L65.7 537.5L68.4 538.8L71.2 537.1L73.9 539.4L76.7 539.8L79.4 539.1L82.2 540.2L84.9 538.1L87.7 539.5L90.4 539.1L93.2 539.1L95.9 538.6L98.7 540.0L101.4 540.4L104.2 538.7L106.9 539.4L109.7 537.2L112.4 539.5L115.2 539.3L117.9 540.6L120.7 540.0L123.4 538.0L126.2 538.4L128.9 539.4L131.7 537.1L134.4 538.7L137.2 537.6L139.9 537.4L142.7 537.2L145.4 539.8L148.2 537.5L150.9 537.9L153.7 538.4L156.4 540.1L159.2 537.3L161.9 538.6L164.7 539.0L167.4 540.2L170.2 539.9L172.9 540.1L175.7 538.0L178.4 538.5L181.2 538.3L183.9 540.2L186.7 540.4L189.4 537.5L192.7 536.0L195.0 534.7L198.0 530.6L200.1 526.9L202.2 523.2L205.4 517.9L208.6 511.5L210.7 505.1L213.9 504.0L216.1 502.9L218.2 501.9L220.3 501.4L222.4 500.9L224.6 501.9L226.7 503.0L229.3 507.2L231.4 510.4L233.5 513.6L235.7 515.8L237.8 517.9L239.9 519.0L242.0 520.0L245.2 524.3L248.4 526.4L250.6 528.0L252.7 529.6L254.8 532.2L256.9 534.9L259.5 535.5L262.2 536.0L264.9 535.5L267.6 534.9L270.2 536.0L272.9 537.0L275.5 536.5L278.2 536.0L280.9 536.0L283.5 536.0L287.4 539.4L290.0 536.0L292.4 536.5L294.8 537.0L297.2 533.3L299.7 529.6L302.2 530.2L304.7 530.8L308.0 533.0L312.1 535.7L314.6 535.3L317.0 534.9L319.5 534.5L321.9 532.6L324.4 530.8L326.9 529.0L329.4 527.1L331.9 525.9L334.3 524.6L336.8 523.4" fill="none" stroke="#FF0000" stroke-width="1.1"/><path d="M62.9 539.7h0M65.7 537.5h0M68.4 538.8h0M71.2 537.1h0M73.9 539.4h0M76.7 539.8h0M79.4 539.1h0M82.2 540.2h0M84.9 538.1h0M87.7 539.5h0M90.4 539.1h0M93.2 539.1h0M95.9 538.6h0M98.7 540.0h0M101.4 540.4h0M104.2 538.7h0M106.9 539.4h0M109.7 537.2h0M112.4 539.5h0M115.2 539.3h0M117.9 540.6h0M120.7 540.0h0M123.4 538.0h0M126.2 538.4h0M128.9 539.4h0M131.7 537.1h0M134.4 538.7h0M137.2 537.6h0M139.9 537.4h0M142.7 537.2h0M145.4 539.8h0M148.2 537.5h0M150.9 537.9h0M153.7 538.4h0M156.4 540.1h0M159.2 537.3h0M161.9 538.6h0M164.7 539.0h0M167.4 540.2h0M170.2 539.9h0M172.9 540.1h0M175.7 538.0h0M178.4 538.5h0M181.2 538.3h0M183.9 540.2h0M186.7 540.4h0M189.4 537.5h0M192.7 536.0h0M195.0 534.7h0M198.0 530.6h0M200.1 526.9h0M202.2 523.2h0M205.4 517.9h0M208.6 511.5h0M210.7 505.1h0M213.9 504.0h0M216.1 502.9h0M218.2 501.9h0M220.3 501.4h0M222.4 500.9h0M224.6 501.9h0M226.7 503.0h0M229.3 507.2h0M231.4 510.4h0M233.5 513.6h0M235.7 515.8h0M237.8 517.9h0M239.9 519.0h0M242.0 520.0h0M245.2 524.3h0M248.4 526.4h0M250.6 528.0h0M252.7 529.6h0M254.8 532.2h0M256.9 534.9h0M259.5 535.5h0M262.2 536.0h0M264.9 535.5h0M267.6 534.9h0M270.2 536.0h0M272.9 537.0h0M275.5 536.5h0M278.2 536.0h0M280.9 536.0h0M283.5 536.0h0M287.4 539.4h0M290.0 536.0h0M292.4 536.5h0M294.8 537.0h0M297.2 533.3h0M299.7 529.6h0M302.2 530.2h0M304.7 530.8h0M308.0 533.0h0M312.1 535.7h0M314.6 535.3h0M317.0 534.9h0M319.5 534.5h0M321.9 532.6h0M324.4 530.8h0M326.9 529.0h0M329.4 527.1h0M331.9 525.9h0M334.3 524.6h0M336.8 523.4h0" stroke="#FF0000" stroke-width="5.6" stroke-linecap="round"/><path d="M62.4 539.2h0M65.2 537.0h0M67.9 538.3h0M70.7 536.6h0M73.4 538.9h0M76.2 539.3h0M78.9 538.6h0M81.7 539.7h0M84.4 537.6h0M87.2 539.0h0M89.9 538.6h0M92.7 538.6h0M95.4 538.1h0M98.2 539.5h0M100.9 539.9h0M103.7 538.2h0M106.4 538.9h0M109.2 536.7h0M111.9 539.0h0M114.7 538.8h0M117.4 540.1h0M120.2 539.5h0M122.9 537.5h0M125.7 537.9h0M128.4 538.9h0M131.2 536.6h0M133.9 538.2h0M136.7 537.1h0M139.4 536.9h0M142.2 536.7h0M144.9 539.3h0M147.7 537.0h0M150.4 537.4h0M153.2 537.9h0M155.9 539.6h0M158.7 536.8h0M161.4 538.1h0M164.2 538.5h0M166.9 539.7h0M169.7 539.4h0M172.4 539.6h0M175.2 537.5h0M177.9 538.0h0M180.7 537.8h0M183.4 539.7h0M186.2 539.9h0M188.9 537.0h0M192.2 535.5h0M194.5 534.2h0M197.5 530.1h0M199.6 526.4h0M201.7 522.7h0M204.9 517.4h0M208.1 511.0h0M210.2 504.6h0M213.4 503.5h0M215.6 502.4h0M217.7 501.4h0M219.8 500.9h0M221.9 500.4h0M224.1 501.4h0M226.2 502.5h0M228.8 506.7h0M230.9 509.9h0M233.0 513.1h0M235.2 515.2h0M237.3 517.4h0M239.4 518.5h0M241.5 519.5h0M244.7 523.8h0M247.9 525.9h0M250.1 527.5h0M252.2 529.1h0M254.3 531.8h0M256.4 534.4h0M259.0 535.0h0M261.7 535.5h0M264.4 535.0h0M267.1 534.4h0M269.8 535.5h0M272.4 536.5h0M275.0 536.0h0M277.7 535.5h0M280.4 535.5h0M283.0 535.5h0M286.9 538.9h0M289.5 535.5h0M291.9 536.0h0M294.3 536.5h0M296.8 532.8h0M299.2 529.1h0M301.7 529.7h0M304.2 530.3h0M307.5 532.5h0M311.6 535.2h0M314.1 534.8h0M316.5 534.4h0M319.0 534.0h0M321.4 532.1h0M323.9 530.3h0M326.4 528.5h0M328.9 526.6h0M331.4 525.4h0M333.8 524.1h0M336.3 522.9h0" stroke="#fff" stroke-width="1.5" stroke-linecap="round" opacity="0.85"/>
<path d="M61.5 539.7L64.2 539.2L67.0 540.8L69.8 538.9L72.5 540.4L75.2 539.9L78.0 538.9L80.8 540.3L83.5 538.8L86.2 540.1L89.0 538.9L91.8 539.0L94.5 540.1L97.2 541.3L100.0 539.1L102.8 539.4L105.5 540.7L108.2 541.7L111.0 540.5L113.8 540.0L116.5 541.8L119.2 538.8L122.0 541.4L124.8 539.6L127.5 539.2L130.2 539.1L133.0 539.7L135.8 541.3L138.5 539.3L141.2 540.6L144.0 540.7L146.8 539.9L149.5 540.5L152.2 538.9L155.0 538.9L157.8 539.4L160.5 540.9L163.2 540.1L166.0 539.7L168.8 540.6L171.5 540.2L174.2 539.7L177.0 541.2L179.8 540.9L182.5 539.5L185.2 540.5L188.0 540.4L190.8 541.5L193.5 541.0L196.2 539.6L199.0 541.8L201.8 539.1L204.5 540.0L205.4 536.0L207.6 534.4L209.7 532.8L211.8 531.7L213.9 530.6L217.1 526.4L220.3 520.0L223.5 516.8L226.7 511.5L229.9 508.3L231.4 505.1L234.6 495.5L237.8 492.3L241.0 490.2L243.1 489.1L245.2 488.1L248.4 493.4L251.6 498.7L253.7 505.1L256.9 507.2L260.1 509.4L262.2 513.6L265.4 514.7L268.6 518.9L271.8 522.1L274.0 523.2L276.1 524.3L278.2 524.8L280.3 525.3L282.5 526.3L284.6 527.4L286.7 528.5L288.8 529.6L291.0 530.7L293.1 531.7L295.6 532.6L298.0 533.5L300.1 534.0L302.2 534.5L304.7 534.1L307.1 533.7L309.6 533.3L312.1 532.1L314.5 530.8L317.0 529.6L319.5 527.8L322.0 525.9L324.4 523.4L326.9 520.9L329.4 519.0L331.8 517.2L335.5 516.0" fill="none" stroke="#000000" stroke-width="1.1"/><path d="M61.5 539.7h0M64.2 539.2h0M67.0 540.8h0M69.8 538.9h0M72.5 540.4h0M75.2 539.9h0M78.0 538.9h0M80.8 540.3h0M83.5 538.8h0M86.2 540.1h0M89.0 538.9h0M91.8 539.0h0M94.5 540.1h0M97.2 541.3h0M100.0 539.1h0M102.8 539.4h0M105.5 540.7h0M108.2 541.7h0M111.0 540.5h0M113.8 540.0h0M116.5 541.8h0M119.2 538.8h0M122.0 541.4h0M124.8 539.6h0M127.5 539.2h0M130.2 539.1h0M133.0 539.7h0M135.8 541.3h0M138.5 539.3h0M141.2 540.6h0M144.0 540.7h0M146.8 539.9h0M149.5 540.5h0M152.2 538.9h0M155.0 538.9h0M157.8 539.4h0M160.5 540.9h0M163.2 540.1h0M166.0 539.7h0M168.8 540.6h0M171.5 540.2h0M174.2 539.7h0M177.0 541.2h0M179.8 540.9h0M182.5 539.5h0M185.2 540.5h0M188.0 540.4h0M190.8 541.5h0M193.5 541.0h0M196.2 539.6h0M199.0 541.8h0M201.8 539.1h0M204.5 540.0h0M205.4 536.0h0M207.6 534.4h0M209.7 532.8h0M211.8 531.7h0M213.9 530.6h0M217.1 526.4h0M220.3 520.0h0M223.5 516.8h0M226.7 511.5h0M229.9 508.3h0M231.4 505.1h0M234.6 495.5h0M237.8 492.3h0M241.0 490.2h0M243.1 489.1h0M245.2 488.1h0M248.4 493.4h0M251.6 498.7h0M253.7 505.1h0M256.9 507.2h0M260.1 509.4h0M262.2 513.6h0M265.4 514.7h0M268.6 518.9h0M271.8 522.1h0M274.0 523.2h0M276.1 524.3h0M278.2 524.8h0M280.3 525.3h0M282.5 526.3h0M284.6 527.4h0M286.7 528.5h0M288.8 529.6h0M291.0 530.7h0M293.1 531.7h0M295.6 532.6h0M298.0 533.5h0M300.1 534.0h0M302.2 534.5h0M304.7 534.1h0M307.1 533.7h0M309.6 533.3h0M312.1 532.1h0M314.5 530.8h0M317.0 529.6h0M319.5 527.8h0M322.0 525.9h0M324.4 523.4h0M326.9 520.9h0M329.4 519.0h0M331.8 517.2h0M335.5 516.0h0" stroke="#000000" stroke-width="5.6" stroke-linecap="round"/><path d="M61.0 539.2h0M63.8 538.7h0M66.5 540.3h0M69.2 538.4h0M72.0 539.9h0M74.8 539.4h0M77.5 538.4h0M80.2 539.8h0M83.0 538.3h0M85.8 539.6h0M88.5 538.4h0M91.2 538.5h0M94.0 539.6h0M96.8 540.8h0M99.5 538.6h0M102.2 538.9h0M105.0 540.2h0M107.8 541.2h0M110.5 540.0h0M113.2 539.5h0M116.0 541.3h0M118.8 538.3h0M121.5 540.9h0M124.2 539.1h0M127.0 538.7h0M129.8 538.6h0M132.5 539.2h0M135.2 540.8h0M138.0 538.8h0M140.8 540.1h0M143.5 540.2h0M146.2 539.4h0M149.0 540.0h0M151.8 538.4h0M154.5 538.4h0M157.2 538.9h0M160.0 540.4h0M162.8 539.6h0M165.5 539.2h0M168.2 540.1h0M171.0 539.7h0M173.8 539.2h0M176.5 540.7h0M179.2 540.4h0M182.0 539.0h0M184.8 540.0h0M187.5 539.9h0M190.2 541.0h0M193.0 540.5h0M195.8 539.1h0M198.5 541.3h0M201.2 538.6h0M204.0 539.5h0M204.9 535.5h0M207.1 533.9h0M209.2 532.3h0M211.3 531.2h0M213.4 530.1h0M216.6 525.9h0M219.8 519.5h0M223.0 516.3h0M226.2 511.0h0M229.4 507.8h0M230.9 504.6h0M234.1 495.0h0M237.3 491.8h0M240.5 489.7h0M242.6 488.6h0M244.7 487.6h0M247.9 492.9h0M251.1 498.2h0M253.2 504.6h0M256.4 506.7h0M259.6 508.9h0M261.7 513.1h0M264.9 514.2h0M268.1 518.4h0M271.3 521.6h0M273.5 522.7h0M275.6 523.8h0M277.7 524.3h0M279.8 524.8h0M282.0 525.8h0M284.1 526.9h0M286.2 528.0h0M288.3 529.1h0M290.5 530.2h0M292.6 531.2h0M295.1 532.1h0M297.5 533.0h0M299.6 533.5h0M301.7 534.0h0M304.2 533.6h0M306.6 533.2h0M309.1 532.8h0M311.6 531.6h0M314.0 530.3h0M316.5 529.1h0M319.0 527.2h0M321.5 525.4h0M323.9 522.9h0M326.4 520.4h0M328.9 518.5h0M331.3 516.7h0M335.0 515.5h0" stroke="#fff" stroke-width="1.5" stroke-linecap="round" opacity="0.85"/></g>
<path d="M60.70 543.20v-4.5M60.70 318.40v2.48M88.27 543.20v-3.5M88.27 318.40v1.93M115.84 543.20v-4.5M115.84 318.40v2.48M143.41 543.20v-3.5M143.41 318.40v1.93M170.98 543.20v-4.5M170.98 318.40v2.48M198.55 543.20v-3.5M198.55 318.40v1.93M226.12 543.20v-4.5M226.12 318.40v2.48M253.69 543.20v-3.5M253.69 318.40v1.93M281.26 543.20v-4.5M281.26 318.40v2.48M308.83 543.20v-3.5M308.83 318.40v1.93M336.40 543.20v-4.5M336.40 318.40v2.48M60.70 526.96h3M336.40 526.96h-1.65M60.70 510.91h4.5M336.40 510.91h-2.48M60.70 494.87h3M336.40 494.87h-1.65M60.70 478.82h4.5M336.40 478.82h-2.48M60.70 462.77h3M336.40 462.77h-1.65M60.70 446.73h4.5M336.40 446.73h-2.48M60.70 430.69h3M336.40 430.69h-1.65M60.70 414.64h4.5M336.40 414.64h-2.48M60.70 398.60h3M336.40 398.60h-1.65M60.70 382.55h4.5M336.40 382.55h-2.48M60.70 366.50h3M336.40 366.50h-1.65M60.70 350.46h4.5M336.40 350.46h-2.48M60.70 334.42h3M336.40 334.42h-1.65" stroke="#000" stroke-width="2" fill="none"/>
<rect x="60.7" y="318.4" width="275.70" height="224.80" fill="none" stroke="#000" stroke-width="2.5"/>
<g font-family='"Liberation Sans", sans-serif' font-weight="bold" font-size="14" fill="#000"><text x="60.70" y="559.70" text-anchor="middle">-0.5</text>
<text x="115.84" y="559.70" text-anchor="middle">-0.6</text>
<text x="170.98" y="559.70" text-anchor="middle">-0.7</text>
<text x="226.12" y="559.70" text-anchor="middle">-0.8</text>
<text x="281.26" y="559.70" text-anchor="middle">-0.9</text>
<text x="336.40" y="559.70" text-anchor="middle">-1</text>
<text x="55.10" y="547.80" text-anchor="end">0</text>
<text x="55.10" y="515.71" text-anchor="end">0.1</text>
<text x="55.10" y="483.62" text-anchor="end">0.2</text>
<text x="55.10" y="451.53" text-anchor="end">0.3</text>
<text x="55.10" y="419.44" text-anchor="end">0.4</text>
<text x="55.10" y="387.35" text-anchor="end">0.5</text>
<text x="55.10" y="355.26" text-anchor="end">0.6</text>
<text x="55.10" y="323.17" text-anchor="end">0.7</text></g>
<g clip-path="url(#clipd)"><path d="M421.5 535.9L424.2 536.1L427.0 535.9L429.8 537.3L432.5 532.0L435.0 516.6L437.6 509.8L440.1 500.5L443.2 495.4L446.1 476.6L448.7 462.1L452.1 455.3L453.7 415.7L456.8 398.4L459.8 380.0L462.9 375.9L465.3 372.9L467.4 366.7L470.7 367.8L472.4 376.6L475.8 394.5L479.2 396.2L481.7 396.2L484.6 403.9L487.7 420.1L490.2 429.2L492.3 442.5L495.4 446.6L498.4 459.9L502.5 470.1L504.6 471.2L508.7 475.3L512.7 470.1L516.8 464.0L519.9 457.9L523.0 448.7L525.0 440.5L527.1 434.3L528.6 427.7L531.5 399.6L534.1 386.0L536.6 364.7L539.9 346.1L542.3 332.4L545.3 326.5L547.9 314.6L550.4 323.1L553.8 321.4L556.4 326.5L559.0 343.5L561.5 359.7L564.4 379.3L567.3 391.1L570.5 413.2L573.5 432.0L576.5 448.1L579.1 449.0L580.8 458.4L584.2 463.5L587.0 470.0L591.1 478.3L593.7 480.0L596.2 481.7L598.3 482.5L600.4 483.4L602.5 481.2L604.7 479.1L608.1 464.7L611.5 454.5L614.9 446.8L617.1 430.0L618.9 421.1L621.4 385.4L624.0 349.7L626.5 314.0" fill="none" stroke="#FF8000" stroke-width="1.1"/><path d="M421.5 535.9h0M424.2 536.1h0M427.0 535.9h0M429.8 537.3h0M432.5 532.0h0M435.0 516.6h0M437.6 509.8h0M440.1 500.5h0M443.2 495.4h0M446.1 476.6h0M448.7 462.1h0M452.1 455.3h0M453.7 415.7h0M456.8 398.4h0M459.8 380.0h0M462.9 375.9h0M465.3 372.9h0M467.4 366.7h0M470.7 367.8h0M472.4 376.6h0M475.8 394.5h0M479.2 396.2h0M481.7 396.2h0M484.6 403.9h0M487.7 420.1h0M490.2 429.2h0M492.3 442.5h0M495.4 446.6h0M498.4 459.9h0M502.5 470.1h0M504.6 471.2h0M508.7 475.3h0M512.7 470.1h0M516.8 464.0h0M519.9 457.9h0M523.0 448.7h0M525.0 440.5h0M527.1 434.3h0M528.6 427.7h0M531.5 399.6h0M534.1 386.0h0M536.6 364.7h0M539.9 346.1h0M542.3 332.4h0M545.3 326.5h0M547.9 314.6h0M550.4 323.1h0M553.8 321.4h0M556.4 326.5h0M559.0 343.5h0M561.5 359.7h0M564.4 379.3h0M567.3 391.1h0M570.5 413.2h0M573.5 432.0h0M576.5 448.1h0M579.1 449.0h0M580.8 458.4h0M584.2 463.5h0M587.0 470.0h0M591.1 478.3h0M593.7 480.0h0M596.2 481.7h0M598.3 482.5h0M600.4 483.4h0M602.5 481.2h0M604.7 479.1h0M608.1 464.7h0M611.5 454.5h0M614.9 446.8h0M617.1 430.0h0M618.9 421.1h0M621.4 385.4h0M624.0 349.7h0M626.5 314.0h0" stroke="#FF8000" stroke-width="5.6" stroke-linecap="round"/><path d="M421.0 535.4h0M423.8 535.6h0M426.5 535.4h0M429.2 536.8h0M432.0 531.5h0M434.5 516.1h0M437.1 509.3h0M439.6 500.0h0M442.7 494.9h0M445.6 476.1h0M448.2 461.6h0M451.6 454.8h0M453.2 415.2h0M456.3 397.9h0M459.3 379.5h0M462.4 375.4h0M464.8 372.4h0M466.9 366.2h0M470.2 367.3h0M471.9 376.1h0M475.3 394.0h0M478.7 395.7h0M481.2 395.7h0M484.1 403.4h0M487.2 419.6h0M489.7 428.7h0M491.8 442.0h0M494.9 446.1h0M497.9 459.4h0M502.0 469.6h0M504.1 470.7h0M508.2 474.8h0M512.2 469.6h0M516.3 463.5h0M519.4 457.4h0M522.5 448.2h0M524.5 440.0h0M526.6 433.8h0M528.1 427.2h0M531.0 399.1h0M533.6 385.5h0M536.1 364.2h0M539.4 345.6h0M541.8 331.9h0M544.8 326.0h0M547.4 314.1h0M549.9 322.6h0M553.3 320.9h0M555.9 326.0h0M558.5 343.0h0M561.0 359.2h0M563.9 378.8h0M566.8 390.6h0M570.0 412.7h0M573.0 431.5h0M576.0 447.6h0M578.6 448.5h0M580.3 457.9h0M583.7 463.0h0M586.5 469.5h0M590.6 477.8h0M593.2 479.5h0M595.7 481.2h0M597.8 482.0h0M599.9 482.9h0M602.0 480.8h0M604.2 478.6h0M607.6 464.2h0M611.0 454.0h0M614.4 446.3h0M616.6 429.5h0M618.4 420.6h0M620.9 384.9h0M623.5 349.2h0M626.0 313.5h0" stroke="#fff" stroke-width="1.5" stroke-linecap="round" opacity="0.85"/>
<path d="M420.1 536.2L422.9 536.8L425.6 537.2L428.4 535.8L431.1 536.3L433.9 536.0L436.6 536.0L439.4 536.6L441.8 532.0L444.0 527.8L446.1 523.5L449.0 513.0L452.9 503.0L454.6 496.2L457.2 487.7L459.7 478.3L462.6 450.2L464.9 423.9L467.0 402.4L470.0 381.0L473.1 378.0L475.8 363.8L478.5 365.0L482.6 367.3L485.1 366.4L487.7 370.7L489.4 389.4L491.9 401.3L494.5 409.8L498.0 423.0L501.5 434.3L504.0 447.0L506.6 458.9L510.7 473.2L514.8 489.6L517.3 491.6L519.9 493.7L523.0 498.0L526.1 502.9L528.7 499.3L531.2 495.7L535.3 489.6L537.6 479.8L540.0 470.0L542.8 460.4L545.5 450.7L547.6 432.8L550.0 422.0L552.7 411.5L555.2 410.7L558.0 405.0L561.2 399.6L563.7 397.9L566.0 407.0L568.8 416.6L571.4 421.7L574.0 439.6L575.7 443.0L579.1 443.0L580.8 463.5L584.2 466.9L586.7 468.6L589.3 472.0L591.1 482.6L593.7 489.0L596.2 495.3L598.3 497.9L600.4 500.4L602.7 501.7L605.0 503.0L607.5 504.0L610.0 505.0L612.2 506.2L614.4 507.5L617.2 506.4L620.0 505.3L622.8 506.4L625.5 507.5L628.3 505.3L631.1 503.1L633.3 496.4L636.6 490.9L638.8 487.0L641.0 483.1L644.4 474.3L646.6 468.7L648.8 454.3L649.9 445.5L651.0 423.3L653.9 396.0L656.7 368.6L659.5 341.3L662.4 314.0" fill="none" stroke="#3EE3EE" stroke-width="1.1"/><path d="M420.1 536.2h0M422.9 536.8h0M425.6 537.2h0M428.4 535.8h0M431.1 536.3h0M433.9 536.0h0M436.6 536.0h0M439.4 536.6h0M441.8 532.0h0M444.0 527.8h0M446.1 523.5h0M449.0 513.0h0M452.9 503.0h0M454.6 496.2h0M457.2 487.7h0M459.7 478.3h0M462.6 450.2h0M464.9 423.9h0M467.0 402.4h0M470.0 381.0h0M473.1 378.0h0M475.8 363.8h0M478.5 365.0h0M482.6 367.3h0M485.1 366.4h0M487.7 370.7h0M489.4 389.4h0M491.9 401.3h0M494.5 409.8h0M498.0 423.0h0M501.5 434.3h0M504.0 447.0h0M506.6 458.9h0M510.7 473.2h0M514.8 489.6h0M517.3 491.6h0M519.9 493.7h0M523.0 498.0h0M526.1 502.9h0M528.7 499.3h0M531.2 495.7h0M535.3 489.6h0M537.6 479.8h0M540.0 470.0h0M542.8 460.4h0M545.5 450.7h0M547.6 432.8h0M550.0 422.0h0M552.7 411.5h0M555.2 410.7h0M558.0 405.0h0M561.2 399.6h0M563.7 397.9h0M566.0 407.0h0M568.8 416.6h0M571.4 421.7h0M574.0 439.6h0M575.7 443.0h0M579.1 443.0h0M580.8 463.5h0M584.2 466.9h0M586.7 468.6h0M589.3 472.0h0M591.1 482.6h0M593.7 489.0h0M596.2 495.3h0M598.3 497.9h0M600.4 500.4h0M602.7 501.7h0M605.0 503.0h0M607.5 504.0h0M610.0 505.0h0M612.2 506.2h0M614.4 507.5h0M617.2 506.4h0M620.0 505.3h0M622.8 506.4h0M625.5 507.5h0M628.3 505.3h0M631.1 503.1h0M633.3 496.4h0M636.6 490.9h0M638.8 487.0h0M641.0 483.1h0M644.4 474.3h0M646.6 468.7h0M648.8 454.3h0M649.9 445.5h0M651.0 423.3h0M653.9 396.0h0M656.7 368.6h0M659.5 341.3h0M662.4 314.0h0" stroke="#3EE3EE" stroke-width="5.6" stroke-linecap="round"/><path d="M419.6 535.7h0M422.4 536.3h0M425.1 536.7h0M427.9 535.3h0M430.6 535.8h0M433.4 535.5h0M436.1 535.5h0M438.9 536.1h0M441.3 531.5h0M443.5 527.2h0M445.6 523.0h0M448.5 512.5h0M452.4 502.5h0M454.1 495.7h0M456.7 487.2h0M459.2 477.8h0M462.1 449.7h0M464.4 423.4h0M466.5 401.9h0M469.5 380.5h0M472.6 377.5h0M475.3 363.3h0M478.0 364.5h0M482.1 366.8h0M484.6 365.9h0M487.2 370.2h0M488.9 388.9h0M491.4 400.8h0M494.0 409.3h0M497.5 422.5h0M501.0 433.8h0M503.5 446.5h0M506.1 458.4h0M510.2 472.7h0M514.3 489.1h0M516.8 491.1h0M519.4 493.2h0M522.5 497.5h0M525.6 502.4h0M528.2 498.8h0M530.7 495.2h0M534.8 489.1h0M537.1 479.3h0M539.5 469.5h0M542.2 459.9h0M545.0 450.2h0M547.1 432.3h0M549.5 421.5h0M552.2 411.0h0M554.7 410.2h0M557.5 404.5h0M560.7 399.1h0M563.2 397.4h0M565.5 406.5h0M568.3 416.1h0M570.9 421.2h0M573.5 439.1h0M575.2 442.5h0M578.6 442.5h0M580.3 463.0h0M583.7 466.4h0M586.2 468.1h0M588.8 471.5h0M590.6 482.1h0M593.2 488.5h0M595.7 494.8h0M597.8 497.4h0M599.9 499.9h0M602.2 501.2h0M604.5 502.5h0M607.0 503.5h0M609.5 504.5h0M611.7 505.8h0M613.9 507.0h0M616.7 505.9h0M619.5 504.8h0M622.2 505.9h0M625.0 507.0h0M627.8 504.8h0M630.6 502.6h0M632.8 495.9h0M636.1 490.4h0M638.3 486.5h0M640.5 482.6h0M643.9 473.8h0M646.1 468.2h0M648.3 453.8h0M649.4 445.0h0M650.5 422.8h0M653.4 395.5h0M656.2 368.1h0M659.0 340.8h0M661.9 313.5h0" stroke="#fff" stroke-width="1.5" stroke-linecap="round" opacity="0.85"/>
<path d="M420.8 536.1L423.6 536.2L426.3 536.9L429.1 534.8L431.8 536.2L434.6 535.2L437.3 535.3L440.1 536.8L442.8 536.0L446.1 523.5L448.7 527.7L451.2 513.2L454.6 511.5L457.2 503.0L460.2 494.5L462.6 474.1L465.7 458.7L467.4 440.0L468.1 433.7L470.7 405.0L473.2 398.6L475.8 366.4L478.8 370.7L481.7 361.8L484.6 353.6L487.7 362.1L490.2 377.5L493.1 387.7L495.4 401.3L498.8 409.0L501.3 424.3L503.9 437.1L505.6 446.6L509.7 456.8L512.7 471.2L515.8 478.3L518.9 485.5L523.0 490.6L527.1 493.7L529.1 497.8L532.2 490.6L535.3 491.6L538.3 484.5L541.4 474.2L544.5 472.2L547.5 465.0L551.0 458.4L553.5 439.6L556.1 422.6L558.6 403.8L561.2 412.4L564.6 420.0L567.1 392.8L570.2 402.1L573.1 409.8L575.7 416.6L578.7 416.6L580.8 434.5L583.8 438.8L586.7 449.8L589.4 472.3L591.9 486.0L595.3 491.1L598.7 497.9L602.1 501.3L604.7 505.5L608.1 508.1L610.7 508.6L613.2 509.0L616.0 511.1L618.9 513.1L622.2 512.5L625.5 512.0L628.3 509.8L631.1 507.5L633.3 505.3L635.5 503.1L638.8 498.7L642.1 504.2L644.4 489.8L646.6 485.4L649.9 476.5L652.1 459.9L655.4 432.2L657.7 423.3L660.7 386.9L663.7 350.4L666.7 314.0" fill="none" stroke="#0000FF" stroke-width="1.1"/><path d="M420.8 536.1h0M423.6 536.2h0M426.3 536.9h0M429.1 534.8h0M431.8 536.2h0M434.6 535.2h0M437.3 535.3h0M440.1 536.8h0M442.8 536.0h0M446.1 523.5h0M448.7 527.7h0M451.2 513.2h0M454.6 511.5h0M457.2 503.0h0M460.2 494.5h0M462.6 474.1h0M465.7 458.7h0M467.4 440.0h0M468.1 433.7h0M470.7 405.0h0M473.2 398.6h0M475.8 366.4h0M478.8 370.7h0M481.7 361.8h0M484.6 353.6h0M487.7 362.1h0M490.2 377.5h0M493.1 387.7h0M495.4 401.3h0M498.8 409.0h0M501.3 424.3h0M503.9 437.1h0M505.6 446.6h0M509.7 456.8h0M512.7 471.2h0M515.8 478.3h0M518.9 485.5h0M523.0 490.6h0M527.1 493.7h0M529.1 497.8h0M532.2 490.6h0M535.3 491.6h0M538.3 484.5h0M541.4 474.2h0M544.5 472.2h0M547.5 465.0h0M551.0 458.4h0M553.5 439.6h0M556.1 422.6h0M558.6 403.8h0M561.2 412.4h0M564.6 420.0h0M567.1 392.8h0M570.2 402.1h0M573.1 409.8h0M575.7 416.6h0M578.7 416.6h0M580.8 434.5h0M583.8 438.8h0M586.7 449.8h0M589.4 472.3h0M591.9 486.0h0M595.3 491.1h0M598.7 497.9h0M602.1 501.3h0M604.7 505.5h0M608.1 508.1h0M610.7 508.6h0M613.2 509.0h0M616.0 511.1h0M618.9 513.1h0M622.2 512.5h0M625.5 512.0h0M628.3 509.8h0M631.1 507.5h0M633.3 505.3h0M635.5 503.1h0M638.8 498.7h0M642.1 504.2h0M644.4 489.8h0M646.6 485.4h0M649.9 476.5h0M652.1 459.9h0M655.4 432.2h0M657.7 423.3h0M660.7 386.9h0M663.7 350.4h0M666.7 314.0h0" stroke="#0000FF" stroke-width="5.6" stroke-linecap="round"/><path d="M420.3 535.6h0M423.1 535.7h0M425.8 536.4h0M428.6 534.3h0M431.3 535.7h0M434.1 534.7h0M436.8 534.8h0M439.6 536.3h0M442.3 535.5h0M445.6 523.0h0M448.2 527.2h0M450.7 512.7h0M454.1 511.0h0M456.7 502.5h0M459.7 494.0h0M462.1 473.6h0M465.2 458.2h0M466.9 439.5h0M467.6 433.2h0M470.2 404.5h0M472.7 398.1h0M475.3 365.9h0M478.3 370.2h0M481.2 361.3h0M484.1 353.1h0M487.2 361.6h0M489.7 377.0h0M492.6 387.2h0M494.9 400.8h0M498.3 408.5h0M500.8 423.8h0M503.4 436.6h0M505.1 446.1h0M509.2 456.3h0M512.2 470.7h0M515.3 477.8h0M518.4 485.0h0M522.5 490.1h0M526.6 493.2h0M528.6 497.3h0M531.7 490.1h0M534.8 491.1h0M537.8 484.0h0M540.9 473.7h0M544.0 471.7h0M547.0 464.5h0M550.5 457.9h0M553.0 439.1h0M555.6 422.1h0M558.1 403.3h0M560.7 411.9h0M564.1 419.5h0M566.6 392.3h0M569.7 401.6h0M572.6 409.3h0M575.2 416.1h0M578.2 416.1h0M580.3 434.0h0M583.3 438.3h0M586.2 449.3h0M588.9 471.8h0M591.4 485.5h0M594.8 490.6h0M598.2 497.4h0M601.6 500.8h0M604.2 505.0h0M607.6 507.6h0M610.2 508.1h0M612.7 508.5h0M615.5 510.6h0M618.4 512.6h0M621.7 512.0h0M625.0 511.5h0M627.8 509.2h0M630.6 507.0h0M632.8 504.8h0M635.0 502.6h0M638.3 498.2h0M641.6 503.7h0M643.9 489.3h0M646.1 484.9h0M649.4 476.0h0M651.6 459.4h0M654.9 431.7h0M657.2 422.8h0M660.2 386.4h0M663.2 349.9h0M666.2 313.5h0" stroke="#fff" stroke-width="1.5" stroke-linecap="round" opacity="0.85"/>
<path d="M419.7 534.4L422.4 536.9L425.2 535.1L427.9 535.5L430.7 535.9L433.4 536.9L436.2 535.3L438.9 536.9L441.7 535.6L444.4 535.7L447.2 535.7L449.9 534.1L452.7 535.4L455.4 534.6L458.2 534.0L460.9 536.6L463.7 534.6L466.4 535.5L469.2 536.3L471.9 535.8L474.7 535.0L478.5 526.9L481.0 525.4L484.1 515.2L487.2 514.1L489.2 510.1L492.3 496.7L495.4 484.5L498.4 469.1L500.5 458.9L503.5 440.5L505.6 426.1L508.1 402.2L511.9 398.8L515.0 385.1L517.0 395.4L520.4 394.5L523.0 397.9L525.5 403.0L528.6 419.2L531.2 432.3L534.2 452.7L537.3 460.9L540.4 481.4L543.4 494.5L546.0 497.0L548.5 508.1L551.1 509.8L553.6 516.6L557.0 518.3L560.4 520.0L563.8 521.7L566.0 523.4L568.1 525.1L570.2 524.2L572.3 523.4L574.5 523.4L576.6 523.4L578.8 522.5L580.9 521.7L583.0 520.4L585.1 519.1L587.2 517.9L589.4 516.6L592.8 514.9L596.2 513.2L598.8 513.2L601.3 513.2L603.8 512.4L606.4 511.5L609.8 510.6L612.2 512.0L614.9 513.2L618.0 514.8L621.1 516.4L623.5 516.7L626.0 517.0L630.0 518.6L634.0 519.0L636.4 519.9L638.8 520.8L641.0 518.6L643.2 516.4L646.0 517.5L648.8 518.6L652.1 512.0L655.4 507.5L657.7 500.9L659.9 498.7L663.2 486.5L665.4 476.5L667.2 466.5L668.7 455.4L671.0 441.0L673.2 431.1L675.4 424.4L678.4 396.8L681.3 369.2L684.3 341.6L687.3 314.0" fill="none" stroke="#00FF00" stroke-width="1.1"/><path d="M419.7 534.4h0M422.4 536.9h0M425.2 535.1h0M427.9 535.5h0M430.7 535.9h0M433.4 536.9h0M436.2 535.3h0M438.9 536.9h0M441.7 535.6h0M444.4 535.7h0M447.2 535.7h0M449.9 534.1h0M452.7 535.4h0M455.4 534.6h0M458.2 534.0h0M460.9 536.6h0M463.7 534.6h0M466.4 535.5h0M469.2 536.3h0M471.9 535.8h0M474.7 535.0h0M478.5 526.9h0M481.0 525.4h0M484.1 515.2h0M487.2 514.1h0M489.2 510.1h0M492.3 496.7h0M495.4 484.5h0M498.4 469.1h0M500.5 458.9h0M503.5 440.5h0M505.6 426.1h0M508.1 402.2h0M511.9 398.8h0M515.0 385.1h0M517.0 395.4h0M520.4 394.5h0M523.0 397.9h0M525.5 403.0h0M528.6 419.2h0M531.2 432.3h0M534.2 452.7h0M537.3 460.9h0M540.4 481.4h0M543.4 494.5h0M546.0 497.0h0M548.5 508.1h0M551.1 509.8h0M553.6 516.6h0M557.0 518.3h0M560.4 520.0h0M563.8 521.7h0M566.0 523.4h0M568.1 525.1h0M570.2 524.2h0M572.3 523.4h0M574.5 523.4h0M576.6 523.4h0M578.8 522.5h0M580.9 521.7h0M583.0 520.4h0M585.1 519.1h0M587.2 517.9h0M589.4 516.6h0M592.8 514.9h0M596.2 513.2h0M598.8 513.2h0M601.3 513.2h0M603.8 512.4h0M606.4 511.5h0M609.8 510.6h0M612.2 512.0h0M614.9 513.2h0M618.0 514.8h0M621.1 516.4h0M623.5 516.7h0M626.0 517.0h0M630.0 518.6h0M634.0 519.0h0M636.4 519.9h0M638.8 520.8h0M641.0 518.6h0M643.2 516.4h0M646.0 517.5h0M648.8 518.6h0M652.1 512.0h0M655.4 507.5h0M657.7 500.9h0M659.9 498.7h0M663.2 486.5h0M665.4 476.5h0M667.2 466.5h0M668.7 455.4h0M671.0 441.0h0M673.2 431.1h0M675.4 424.4h0M678.4 396.8h0M681.3 369.2h0M684.3 341.6h0M687.3 314.0h0" stroke="#00FF00" stroke-width="5.6" stroke-linecap="round"/><path d="M419.2 533.9h0M421.9 536.4h0M424.7 534.6h0M427.4 535.0h0M430.2 535.4h0M432.9 536.4h0M435.7 534.8h0M438.4 536.4h0M441.2 535.1h0M443.9 535.2h0M446.7 535.2h0M449.4 533.6h0M452.2 534.9h0M454.9 534.1h0M457.7 533.5h0M460.4 536.1h0M463.2 534.1h0M465.9 535.0h0M468.7 535.8h0M471.4 535.3h0M474.2 534.5h0M478.0 526.4h0M480.5 524.9h0M483.6 514.7h0M486.7 513.6h0M488.7 509.6h0M491.8 496.2h0M494.9 484.0h0M497.9 468.6h0M500.0 458.4h0M503.0 440.0h0M505.1 425.6h0M507.6 401.7h0M511.4 398.3h0M514.5 384.6h0M516.5 394.9h0M519.9 394.0h0M522.5 397.4h0M525.0 402.5h0M528.1 418.7h0M530.7 431.8h0M533.7 452.2h0M536.8 460.4h0M539.9 480.9h0M542.9 494.0h0M545.5 496.5h0M548.0 507.6h0M550.6 509.3h0M553.1 516.1h0M556.5 517.8h0M559.9 519.5h0M563.3 521.2h0M565.5 522.9h0M567.6 524.6h0M569.7 523.8h0M571.8 522.9h0M574.0 522.9h0M576.1 522.9h0M578.2 522.0h0M580.4 521.2h0M582.5 519.9h0M584.6 518.6h0M586.8 517.4h0M588.9 516.1h0M592.3 514.4h0M595.7 512.7h0M598.2 512.7h0M600.8 512.7h0M603.3 511.9h0M605.9 511.0h0M609.3 510.1h0M611.7 511.5h0M614.4 512.7h0M617.5 514.3h0M620.6 515.9h0M623.0 516.2h0M625.5 516.5h0M629.5 518.1h0M633.5 518.5h0M635.9 519.4h0M638.3 520.3h0M640.5 518.1h0M642.7 515.9h0M645.5 517.0h0M648.3 518.1h0M651.6 511.5h0M654.9 507.0h0M657.2 500.4h0M659.4 498.2h0M662.7 486.0h0M664.9 476.0h0M666.7 466.0h0M668.2 454.9h0M670.5 440.5h0M672.7 430.6h0M674.9 423.9h0M677.9 396.3h0M680.8 368.7h0M683.8 341.1h0M686.8 313.5h0" stroke="#fff" stroke-width="1.5" stroke-linecap="round" opacity="0.85"/>
<path d="M420.4 534.8L423.1 534.8L425.9 536.8L428.6 536.0L431.4 534.0L434.1 533.9L436.9 533.9L439.6 536.7L442.4 536.3L445.1 533.9L447.9 536.4L450.6 536.9L453.4 535.8L456.1 534.7L458.9 535.4L461.6 533.9L464.4 533.5L467.1 536.9L469.9 535.7L472.6 535.3L475.4 536.8L478.1 535.0L480.9 536.5L483.6 536.4L486.4 534.2L489.1 534.3L491.9 534.5L494.6 534.3L497.4 535.5L500.1 534.3L502.9 534.9L504.6 533.6L508.7 532.6L511.7 525.4L514.8 525.4L517.9 508.0L519.9 497.8L523.0 477.3L526.1 457.9L529.1 445.6L532.2 440.5L534.2 440.5L536.3 446.6L539.4 448.7L542.4 456.8L545.1 468.9L547.7 476.6L550.2 489.4L552.8 491.9L556.2 505.5L558.7 508.1L561.3 517.4L564.7 518.3L568.1 523.4L571.5 528.5L573.6 528.5L575.7 528.5L577.9 528.1L580.0 527.7L583.4 531.9L586.8 529.4L590.2 527.7L593.6 523.4L596.2 522.6L599.6 524.3L601.7 524.7L603.8 525.1L605.9 522.5L608.0 520.0L611.0 517.0L614.4 516.4L617.2 518.6L620.0 520.8L622.8 521.9L625.5 523.0L628.9 523.5L632.2 524.1L635.0 524.7L637.7 525.2L640.5 523.0L643.2 520.8L645.5 521.3L647.7 521.9L649.9 523.5L652.1 525.2L654.3 523.0L656.5 520.8L658.8 519.7L661.0 518.6L664.3 514.2L667.6 510.8L671.0 502.0L674.3 490.9L677.6 483.1L680.5 469.8L682.7 461.0L685.4 448.8L687.6 436.6L689.8 427.7L692.4 416.6L695.0 405.0" fill="none" stroke="#FF0000" stroke-width="1.1"/><path d="M420.4 534.8h0M423.1 534.8h0M425.9 536.8h0M428.6 536.0h0M431.4 534.0h0M434.1 533.9h0M436.9 533.9h0M439.6 536.7h0M442.4 536.3h0M445.1 533.9h0M447.9 536.4h0M450.6 536.9h0M453.4 535.8h0M456.1 534.7h0M458.9 535.4h0M461.6 533.9h0M464.4 533.5h0M467.1 536.9h0M469.9 535.7h0M472.6 535.3h0M475.4 536.8h0M478.1 535.0h0M480.9 536.5h0M483.6 536.4h0M486.4 534.2h0M489.1 534.3h0M491.9 534.5h0M494.6 534.3h0M497.4 535.5h0M500.1 534.3h0M502.9 534.9h0M504.6 533.6h0M508.7 532.6h0M511.7 525.4h0M514.8 525.4h0M517.9 508.0h0M519.9 497.8h0M523.0 477.3h0M526.1 457.9h0M529.1 445.6h0M532.2 440.5h0M534.2 440.5h0M536.3 446.6h0M539.4 448.7h0M542.4 456.8h0M545.1 468.9h0M547.7 476.6h0M550.2 489.4h0M552.8 491.9h0M556.2 505.5h0M558.7 508.1h0M561.3 517.4h0M564.7 518.3h0M568.1 523.4h0M571.5 528.5h0M573.6 528.5h0M575.7 528.5h0M577.9 528.1h0M580.0 527.7h0M583.4 531.9h0M586.8 529.4h0M590.2 527.7h0M593.6 523.4h0M596.2 522.6h0M599.6 524.3h0M601.7 524.7h0M603.8 525.1h0M605.9 522.5h0M608.0 520.0h0M611.0 517.0h0M614.4 516.4h0M617.2 518.6h0M620.0 520.8h0M622.8 521.9h0M625.5 523.0h0M628.9 523.5h0M632.2 524.1h0M635.0 524.7h0M637.7 525.2h0M640.5 523.0h0M643.2 520.8h0M645.5 521.3h0M647.7 521.9h0M649.9 523.5h0M652.1 525.2h0M654.3 523.0h0M656.5 520.8h0M658.8 519.7h0M661.0 518.6h0M664.3 514.2h0M667.6 510.8h0M671.0 502.0h0M674.3 490.9h0M677.6 483.1h0M680.5 469.8h0M682.7 461.0h0M685.4 448.8h0M687.6 436.6h0M689.8 427.7h0M692.4 416.6h0M695.0 405.0h0" stroke="#FF0000" stroke-width="5.6" stroke-linecap="round"/><path d="M419.9 534.3h0M422.6 534.3h0M425.4 536.3h0M428.1 535.5h0M430.9 533.5h0M433.6 533.4h0M436.4 533.4h0M439.1 536.2h0M441.9 535.8h0M444.6 533.4h0M447.4 535.9h0M450.1 536.4h0M452.9 535.3h0M455.6 534.2h0M458.4 534.9h0M461.1 533.4h0M463.9 533.0h0M466.6 536.4h0M469.4 535.2h0M472.1 534.8h0M474.9 536.3h0M477.6 534.5h0M480.4 536.0h0M483.1 535.9h0M485.9 533.7h0M488.6 533.8h0M491.4 534.0h0M494.1 533.8h0M496.9 535.0h0M499.6 533.8h0M502.4 534.4h0M504.1 533.1h0M508.2 532.1h0M511.2 524.9h0M514.3 524.9h0M517.4 507.5h0M519.4 497.3h0M522.5 476.8h0M525.6 457.4h0M528.6 445.1h0M531.7 440.0h0M533.7 440.0h0M535.8 446.1h0M538.9 448.2h0M541.9 456.3h0M544.6 468.4h0M547.2 476.1h0M549.7 488.9h0M552.3 491.4h0M555.7 505.0h0M558.2 507.6h0M560.8 516.9h0M564.2 517.8h0M567.6 522.9h0M571.0 528.0h0M573.1 528.0h0M575.2 528.0h0M577.4 527.6h0M579.5 527.2h0M582.9 531.4h0M586.3 528.9h0M589.7 527.2h0M593.1 522.9h0M595.7 522.1h0M599.1 523.8h0M601.2 524.2h0M603.3 524.6h0M605.4 522.0h0M607.5 519.5h0M610.5 516.5h0M613.9 515.9h0M616.7 518.1h0M619.5 520.3h0M622.2 521.4h0M625.0 522.5h0M628.4 523.0h0M631.7 523.6h0M634.5 524.2h0M637.2 524.7h0M640.0 522.5h0M642.7 520.3h0M645.0 520.8h0M647.2 521.4h0M649.4 523.0h0M651.6 524.7h0M653.8 522.5h0M656.0 520.3h0M658.2 519.2h0M660.5 518.1h0M663.8 513.7h0M667.1 510.3h0M670.5 501.5h0M673.8 490.4h0M677.1 482.6h0M680.0 469.3h0M682.2 460.5h0M684.9 448.3h0M687.1 436.1h0M689.3 427.2h0M691.9 416.1h0M694.5 404.5h0" stroke="#fff" stroke-width="1.5" stroke-linecap="round" opacity="0.85"/>
<path d="M419.0 536.8L421.8 535.2L424.5 534.8L427.2 536.9L430.0 537.5L432.8 537.1L435.5 536.9L438.2 536.9L441.0 536.7L443.8 534.8L446.5 535.9L449.2 535.3L452.0 534.1L454.8 534.1L457.5 535.0L460.2 534.9L463.0 536.5L465.8 537.4L468.5 535.6L471.2 537.4L474.0 537.6L476.8 537.4L479.5 535.3L482.2 534.8L485.0 534.8L487.8 534.7L490.5 534.7L493.2 536.2L496.0 537.2L498.8 537.0L501.5 535.7L504.2 536.4L507.0 536.9L509.8 534.3L512.5 536.4L515.2 537.3L518.0 536.8L520.8 536.7L523.5 535.7L526.2 534.6L529.0 536.8L531.8 535.2L534.5 536.9L537.2 537.5L540.0 537.9L542.5 537.0L545.1 536.2L547.7 534.9L550.2 533.6L552.8 532.8L555.3 531.9L557.8 530.2L560.4 528.5L563.0 526.4L565.5 524.3L568.9 522.6L572.3 518.3L574.9 511.5L576.6 505.5L579.1 501.3L581.7 500.4L585.1 500.9L587.7 503.8L590.2 507.2L592.8 509.8L595.3 512.3L597.9 514.9L600.4 516.6L603.0 512.3L605.5 520.0L608.1 521.7L611.5 523.4L614.9 526.0L618.3 528.5L621.1 529.7L624.5 531.0L627.7 533.0L631.0 534.0L634.4 535.2L637.7 534.7L641.0 534.1L644.4 532.5L647.7 530.8L651.0 531.3L654.3 531.9L657.6 530.8L661.0 529.7L664.3 528.6L667.6 527.5L670.4 525.8L673.2 524.1L676.5 527.5L678.7 525.8L680.9 524.1L683.1 523.0L685.4 521.9L688.7 524.1L692.0 523.0" fill="none" stroke="#000000" stroke-width="1.1"/><path d="M419.0 536.8h0M421.8 535.2h0M424.5 534.8h0M427.2 536.9h0M430.0 537.5h0M432.8 537.1h0M435.5 536.9h0M438.2 536.9h0M441.0 536.7h0M443.8 534.8h0M446.5 535.9h0M449.2 535.3h0M452.0 534.1h0M454.8 534.1h0M457.5 535.0h0M460.2 534.9h0M463.0 536.5h0M465.8 537.4h0M468.5 535.6h0M471.2 537.4h0M474.0 537.6h0M476.8 537.4h0M479.5 535.3h0M482.2 534.8h0M485.0 534.8h0M487.8 534.7h0M490.5 534.7h0M493.2 536.2h0M496.0 537.2h0M498.8 537.0h0M501.5 535.7h0M504.2 536.4h0M507.0 536.9h0M509.8 534.3h0M512.5 536.4h0M515.2 537.3h0M518.0 536.8h0M520.8 536.7h0M523.5 535.7h0M526.2 534.6h0M529.0 536.8h0M531.8 535.2h0M534.5 536.9h0M537.2 537.5h0M540.0 537.9h0M542.5 537.0h0M545.1 536.2h0M547.7 534.9h0M550.2 533.6h0M552.8 532.8h0M555.3 531.9h0M557.8 530.2h0M560.4 528.5h0M563.0 526.4h0M565.5 524.3h0M568.9 522.6h0M572.3 518.3h0M574.9 511.5h0M576.6 505.5h0M579.1 501.3h0M581.7 500.4h0M585.1 500.9h0M587.7 503.8h0M590.2 507.2h0M592.8 509.8h0M595.3 512.3h0M597.9 514.9h0M600.4 516.6h0M603.0 512.3h0M605.5 520.0h0M608.1 521.7h0M611.5 523.4h0M614.9 526.0h0M618.3 528.5h0M621.1 529.7h0M624.5 531.0h0M627.7 533.0h0M631.0 534.0h0M634.4 535.2h0M637.7 534.7h0M641.0 534.1h0M644.4 532.5h0M647.7 530.8h0M651.0 531.3h0M654.3 531.9h0M657.6 530.8h0M661.0 529.7h0M664.3 528.6h0M667.6 527.5h0M670.4 525.8h0M673.2 524.1h0M676.5 527.5h0M678.7 525.8h0M680.9 524.1h0M683.1 523.0h0M685.4 521.9h0M688.7 524.1h0M692.0 523.0h0" stroke="#000000" stroke-width="5.6" stroke-linecap="round"/><path d="M418.5 536.3h0M421.2 534.7h0M424.0 534.3h0M426.8 536.4h0M429.5 537.0h0M432.2 536.6h0M435.0 536.4h0M437.8 536.4h0M440.5 536.2h0M443.2 534.3h0M446.0 535.4h0M448.8 534.8h0M451.5 533.6h0M454.2 533.6h0M457.0 534.5h0M459.8 534.4h0M462.5 536.0h0M465.2 536.9h0M468.0 535.1h0M470.8 536.9h0M473.5 537.1h0M476.2 536.9h0M479.0 534.8h0M481.8 534.3h0M484.5 534.3h0M487.2 534.2h0M490.0 534.2h0M492.8 535.7h0M495.5 536.7h0M498.2 536.5h0M501.0 535.2h0M503.8 535.9h0M506.5 536.4h0M509.2 533.8h0M512.0 535.9h0M514.8 536.8h0M517.5 536.3h0M520.2 536.2h0M523.0 535.2h0M525.8 534.1h0M528.5 536.3h0M531.2 534.7h0M534.0 536.4h0M536.8 537.0h0M539.5 537.4h0M542.0 536.5h0M544.6 535.7h0M547.2 534.4h0M549.7 533.1h0M552.2 532.2h0M554.8 531.4h0M557.3 529.7h0M559.9 528.0h0M562.5 525.9h0M565.0 523.8h0M568.4 522.1h0M571.8 517.8h0M574.4 511.0h0M576.1 505.0h0M578.6 500.8h0M581.2 499.9h0M584.6 500.4h0M587.2 503.3h0M589.7 506.7h0M592.3 509.3h0M594.8 511.8h0M597.4 514.4h0M599.9 516.1h0M602.5 511.8h0M605.0 519.5h0M607.6 521.2h0M611.0 522.9h0M614.4 525.5h0M617.8 528.0h0M620.6 529.2h0M624.0 530.5h0M627.2 532.5h0M630.5 533.5h0M633.9 534.7h0M637.2 534.2h0M640.5 533.6h0M643.9 532.0h0M647.2 530.3h0M650.5 530.8h0M653.8 531.4h0M657.1 530.3h0M660.5 529.2h0M663.8 528.1h0M667.1 527.0h0M669.9 525.3h0M672.7 523.6h0M676.0 527.0h0M678.2 525.3h0M680.4 523.6h0M682.6 522.5h0M684.9 521.4h0M688.2 523.6h0M691.5 522.5h0" stroke="#fff" stroke-width="1.5" stroke-linecap="round" opacity="0.85"/></g>
<path d="M418.50 538.60v-4.5M418.50 313.90v2.48M446.01 538.60v-3.5M446.01 313.90v1.93M473.52 538.60v-4.5M473.52 313.90v2.48M501.03 538.60v-3.5M501.03 313.90v1.93M528.54 538.60v-4.5M528.54 313.90v2.48M556.05 538.60v-3.5M556.05 313.90v1.93M583.56 538.60v-4.5M583.56 313.90v2.48M611.07 538.60v-3.5M611.07 313.90v1.93M638.58 538.60v-4.5M638.58 313.90v2.48M666.09 538.60v-3.5M666.09 313.90v1.93M693.60 538.60v-4.5M693.60 313.90v2.48M418.50 524.37h3M693.60 524.37h-1.65M418.50 510.34h4.5M693.60 510.34h-2.48M418.50 496.31h3M693.60 496.31h-1.65M418.50 482.28h4.5M693.60 482.28h-2.48M418.50 468.25h3M693.60 468.25h-1.65M418.50 454.22h4.5M693.60 454.22h-2.48M418.50 440.19h3M693.60 440.19h-1.65M418.50 426.16h4.5M693.60 426.16h-2.48M418.50 412.13h3M693.60 412.13h-1.65M418.50 398.10h4.5M693.60 398.10h-2.48M418.50 384.07h3M693.60 384.07h-1.65M418.50 370.04h4.5M693.60 370.04h-2.48M418.50 356.01h3M693.60 356.01h-1.65M418.50 341.98h4.5M693.60 341.98h-2.48M418.50 327.95h3M693.60 327.95h-1.65" stroke="#000" stroke-width="2" fill="none"/>
<rect x="418.5" y="313.9" width="275.10" height="224.70" fill="none" stroke="#000" stroke-width="2.5"/>
<g font-family='"Liberation Sans", sans-serif' font-weight="bold" font-size="14" fill="#000"><text x="418.50" y="555.10" text-anchor="middle">-0.5</text>
<text x="473.52" y="555.10" text-anchor="middle">-0.6</text>
<text x="528.54" y="555.10" text-anchor="middle">-0.7</text>
<text x="583.56" y="555.10" text-anchor="middle">-0.8</text>
<text x="638.58" y="555.10" text-anchor="middle">-0.9</text>
<text x="693.60" y="555.10" text-anchor="middle">-1</text>
<text x="412.90" y="543.20" text-anchor="end">0</text>
<text x="412.90" y="515.14" text-anchor="end">0.1</text>
<text x="412.90" y="487.08" text-anchor="end">0.2</text>
<text x="412.90" y="459.02" text-anchor="end">0.3</text>
<text x="412.90" y="430.96" text-anchor="end">0.4</text>
<text x="412.90" y="402.90" text-anchor="end">0.5</text>
<text x="412.90" y="374.84" text-anchor="end">0.6</text>
<text x="412.90" y="346.78" text-anchor="end">0.7</text>
<text x="412.90" y="318.72" text-anchor="end">0.8</text></g>
<g font-family='"Liberation Sans", sans-serif' font-weight="bold" fill="#000"><text x="175.2" y="299.4" font-size="18">V<tspan font-size="11.5" dy="4">G</tspan><tspan dy="-4"> (V)</tspan></text>
<text transform="translate(17.3,154) rotate(-90)" text-anchor="middle" font-size="18">I<tspan font-size="11.5" dy="4">D</tspan><tspan dy="-4"> (A)</tspan></text></g>
<g font-family='"Liberation Sans", sans-serif' font-weight="bold" fill="#000"><text x="533.8" y="298.3" font-size="18">V<tspan font-size="11.5" dy="4">G</tspan><tspan dy="-4"> (V)</tspan></text>
<text transform="translate(372,152) rotate(-90)" text-anchor="middle" font-size="18">I<tspan font-size="11.5" dy="4">D</tspan><tspan dy="-4"> (pA)</tspan></text></g>
<g font-family='"Liberation Sans", sans-serif' font-weight="bold" fill="#000"><text x="175.2" y="578.2" font-size="18">V<tspan font-size="11.5" dy="4">G</tspan><tspan dy="-4"> (V)</tspan></text>
<text transform="translate(25.2,432.8) rotate(-90)" text-anchor="middle" font-size="18">I<tspan font-size="11.5" dy="4">D</tspan><tspan dy="-4"> (pA)</tspan></text></g>
<g font-family='"Liberation Sans", sans-serif' font-weight="bold" fill="#000"><text x="533.2" y="572.4" font-size="18">V<tspan font-size="11.5" dy="4">G</tspan><tspan dy="-4"> (V)</tspan></text>
<text transform="translate(383,425.5) rotate(-90)" text-anchor="middle" font-size="18">I<tspan font-size="11.5" dy="4">D</tspan><tspan dy="-4"> (pA)</tspan></text></g>
<g font-family='"Liberation Sans", sans-serif' font-weight="bold" fill="#111"><text x="76.8" y="19.7" font-size="11.5" textLength="75.9" lengthAdjust="spacingAndGlyphs"><tspan dy="-0.00">bi-exciton, X</tspan><tspan font-size="7.82" dy="-4.20">2</tspan></text>
<text x="68.9" y="33.5" font-size="11.5" textLength="90.7" lengthAdjust="spacingAndGlyphs"><tspan dy="-0.00">(E</tspan><tspan font-size="8.28" dy="3.40">h</tspan><tspan dy="-3.40"> + U </tspan><tspan font-size="8.28" dy="3.40">hh</tspan><tspan dy="-3.40"> - 2U</tspan><tspan font-size="8.28" dy="3.40">eh</tspan><tspan dy="-3.40">)</tspan></text>
<text x="202.5" y="20.5" font-size="11.5" textLength="46.1" lengthAdjust="spacingAndGlyphs"><tspan dy="-0.00">positive</tspan></text>
<text x="202" y="34.4" font-size="11.5" textLength="47.7" lengthAdjust="spacingAndGlyphs"><tspan dy="-0.00">trion, X</tspan><tspan font-size="7.82" dy="-4.20">+</tspan></text>
<rect x="185.3" y="36.8" width="84.69999999999999" height="13" fill="#fff"/><text x="185.8" y="46.8" font-size="11.5" textLength="83.7" lengthAdjust="spacingAndGlyphs"><tspan dy="-0.00">(E</tspan><tspan font-size="8.28" dy="3.40">h</tspan><tspan dy="-3.40"> + U </tspan><tspan font-size="8.28" dy="3.40">hh</tspan><tspan dy="-3.40"> - U</tspan><tspan font-size="8.28" dy="3.40">eh</tspan><tspan dy="-3.40">)</tspan></text>
<text x="275.3" y="20.5" font-size="11.5" textLength="59.2" lengthAdjust="spacingAndGlyphs"><tspan dy="-0.00">Two-holes</tspan></text>
<text x="275.3" y="34.4" font-size="11.5" textLength="53.4" lengthAdjust="spacingAndGlyphs"><tspan dy="-0.00">(E</tspan><tspan font-size="8.28" dy="3.40">h</tspan><tspan dy="-3.40"> + U </tspan><tspan font-size="8.28" dy="3.40">hh</tspan><tspan dy="-3.40">)</tspan></text>
<text x="164.6" y="73" font-size="11.5" textLength="37.8" lengthAdjust="spacingAndGlyphs"><tspan dy="-0.00">single-</tspan></text>
<text x="159.6" y="85.4" font-size="11.5" textLength="48.4" lengthAdjust="spacingAndGlyphs"><tspan dy="-0.00">hole </tspan><tspan dy="0.00">(E</tspan><tspan font-size="8.28" dy="3.40">h</tspan><tspan dy="-3.40">)</tspan></text>
<text x="86.9" y="125.5" font-size="11.5" textLength="56.3" lengthAdjust="spacingAndGlyphs"><tspan dy="-0.00">Exciton, X</tspan></text>
<text x="86.7" y="139.9" font-size="11.5" textLength="48.4" lengthAdjust="spacingAndGlyphs"><tspan dy="-0.00">(E</tspan><tspan font-size="8.28" dy="3.40">h</tspan><tspan dy="-3.40"> - U</tspan><tspan font-size="8.28" dy="3.40">eh</tspan><tspan dy="-3.40">)</tspan></text>
<line x1="122.3" y1="146" x2="122.3" y2="160.8" stroke="#000" stroke-width="3" stroke-dasharray="2.9 3.2"/><path d="M118.0 159.0 L122.3 161.3 L126.6 159.0 L122.3 166.8 Z" fill="#000"/>
<line x1="152.6" y1="41.5" x2="152.6" y2="156.0" stroke="#000" stroke-width="3" stroke-dasharray="2.9 3.2"/><path d="M148.3 154.2 L152.6 156.5 L156.9 154.2 L152.6 162.0 Z" fill="#000"/>
<line x1="175.2" y1="94.4" x2="175.2" y2="177.0" stroke="#000" stroke-width="3" stroke-dasharray="2.9 3.2"/><path d="M170.9 175.2 L175.2 177.5 L179.5 175.2 L175.2 183.0 Z" fill="#000"/>
<line x1="234" y1="57.8" x2="234" y2="79.0" stroke="#000" stroke-width="3" stroke-dasharray="2.9 3.2"/><path d="M229.7 77.2 L234 79.5 L238.3 77.2 L234 85.0 Z" fill="#000"/>
<line x1="279.6" y1="41.5" x2="279.6" y2="117.4" stroke="#000" stroke-width="3" stroke-dasharray="2.9 3.2"/><path d="M275.3 115.6 L279.6 117.9 L283.9 115.6 L279.6 123.4 Z" fill="#000"/>
<text x="64.6" y="58.8" font-size="21.5" fill="#000" textLength="25" lengthAdjust="spacingAndGlyphs">(a)</text></g>
<g font-family='"Liberation Sans", sans-serif' font-weight="bold" fill="#111"><text x="431.1" y="18.6" font-size="11.5" textLength="77.1" lengthAdjust="spacingAndGlyphs"><tspan dy="-0.00">bi-exciton, X</tspan><tspan font-size="7.82" dy="-4.20">2</tspan></text>
<text x="423.7" y="32.7" font-size="11.5" textLength="90.9" lengthAdjust="spacingAndGlyphs"><tspan dy="-0.00">(E</tspan><tspan font-size="8.28" dy="3.40">h</tspan><tspan dy="-3.40"> + U </tspan><tspan font-size="8.28" dy="3.40">hh</tspan><tspan dy="-3.40"> - 2U</tspan><tspan font-size="8.28" dy="3.40">eh</tspan><tspan dy="-3.40">)</tspan></text>
<text x="555.9" y="18.0" font-size="11.5" textLength="45.9" lengthAdjust="spacingAndGlyphs"><tspan dy="-0.00">positive</tspan></text>
<text x="555.1" y="31.1" font-size="11.5" textLength="46.7" lengthAdjust="spacingAndGlyphs"><tspan dy="-0.00">trion, X</tspan><tspan font-size="7.82" dy="-4.20">+</tspan></text>
<rect x="538.3" y="35.0" width="82.70000000000005" height="13" fill="#fff"/><text x="538.8" y="45.0" font-size="11.5" textLength="81.7" lengthAdjust="spacingAndGlyphs"><tspan dy="-0.00">(E</tspan><tspan font-size="8.28" dy="3.40">h</tspan><tspan dy="-3.40"> + U </tspan><tspan font-size="8.28" dy="3.40">hh</tspan><tspan dy="-3.40"> - U</tspan><tspan font-size="8.28" dy="3.40">eh</tspan><tspan dy="-3.40">)</tspan></text>
<text x="627" y="20.4" font-size="11.5" textLength="59.8" lengthAdjust="spacingAndGlyphs"><tspan dy="-0.00">Two-holes</tspan></text>
<text x="627" y="33.5" font-size="11.5" textLength="56.3" lengthAdjust="spacingAndGlyphs"><tspan dy="-0.00">(E</tspan><tspan font-size="8.28" dy="3.40">h</tspan><tspan dy="-3.40"> + U </tspan><tspan font-size="8.28" dy="3.40">hh</tspan><tspan dy="-3.40">)</tspan></text>
<text x="521.8" y="70.8" font-size="11.5" textLength="37.2" lengthAdjust="spacingAndGlyphs"><tspan dy="-0.00">single-</tspan></text>
<text x="516.8" y="83.8" font-size="11.5" textLength="47.3" lengthAdjust="spacingAndGlyphs"><tspan dy="-0.00">hole </tspan><tspan dy="0.00">(E</tspan><tspan font-size="8.28" dy="3.40">h</tspan><tspan dy="-3.40">)</tspan></text>
<text x="444.1" y="122.3" font-size="11.5" textLength="57.0" lengthAdjust="spacingAndGlyphs"><tspan dy="-0.00">Exciton, X</tspan></text>
<text x="444.1" y="136.2" font-size="11.5" textLength="48.2" lengthAdjust="spacingAndGlyphs"><tspan dy="-0.00">(E</tspan><tspan font-size="8.28" dy="3.40">h</tspan><tspan dy="-3.40"> - U</tspan><tspan font-size="8.28" dy="3.40">eh</tspan><tspan dy="-3.40">)</tspan></text>
<line x1="479.6" y1="142.5" x2="479.6" y2="157.8" stroke="#000" stroke-width="3" stroke-dasharray="2.9 3.2"/><path d="M475.3 156.0 L479.6 158.3 L483.9 156.0 L479.6 163.8 Z" fill="#000"/>
<line x1="511.8" y1="41.5" x2="511.8" y2="150.2" stroke="#000" stroke-width="3" stroke-dasharray="2.9 3.2"/><path d="M507.5 148.4 L511.8 150.7 L516.1 148.4 L511.8 156.2 Z" fill="#000"/>
<line x1="532.3" y1="91.8" x2="532.3" y2="164.2" stroke="#000" stroke-width="3" stroke-dasharray="2.9 3.2"/><path d="M528.0 162.4 L532.3 164.7 L536.6 162.4 L532.3 170.2 Z" fill="#000"/>
<line x1="596.9" y1="48.4" x2="596.9" y2="70.6" stroke="#000" stroke-width="3" stroke-dasharray="2.9 3.2"/><path d="M592.6 68.8 L596.9 71.1 L601.2 68.8 L596.9 76.6 Z" fill="#000"/>
<line x1="634" y1="41.5" x2="634" y2="127.69999999999999" stroke="#000" stroke-width="3" stroke-dasharray="2.9 3.2"/><path d="M629.7 125.9 L634 128.2 L638.3 125.9 L634 133.7 Z" fill="#000"/>
<text x="425.3" y="63.4" font-size="21.5" fill="#000" textLength="25" lengthAdjust="spacingAndGlyphs">(b)</text></g>
<g font-family='"Liberation Sans", sans-serif' font-weight="bold" fill="#000"><rect x="257.5" y="160.2" width="84.5" height="103.30000000000001" fill="#fff" stroke="#555" stroke-width="1"/>
<text x="259.2" y="174.4" font-size="11" textLength="80.8" lengthAdjust="spacingAndGlyphs">Power (1/μm<tspan font-size="7.5" dy="-4.5">2</tspan><tspan dy="4.5">)</tspan></text>
<line x1="258.6" y1="185.8" x2="286.8" y2="185.8" stroke="#FF8000" stroke-width="1.3"/>
<circle cx="272.7" cy="185.8" r="2.8" fill="#FF8000"/><circle cx="272.2" cy="185.3" r="0.8" fill="#fff" opacity="0.85"/>
<text x="289.5" y="190.0" font-size="12">5.9 μW</text>
<line x1="258.6" y1="199.5" x2="286.8" y2="199.5" stroke="#FF00FF" stroke-width="1.3"/>
<circle cx="272.7" cy="199.5" r="2.8" fill="#FF00FF"/><circle cx="272.2" cy="199.0" r="0.8" fill="#fff" opacity="0.85"/>
<text x="289.5" y="203.7" font-size="12">35.7 nW</text>
<line x1="258.6" y1="213.2" x2="286.8" y2="213.2" stroke="#0000FF" stroke-width="1.3"/>
<circle cx="272.7" cy="213.2" r="2.8" fill="#0000FF"/><circle cx="272.2" cy="212.7" r="0.8" fill="#fff" opacity="0.85"/>
<text x="289.5" y="217.39999999999998" font-size="12">1.4 nW</text>
<line x1="258.6" y1="226.9" x2="286.8" y2="226.9" stroke="#00FF00" stroke-width="1.3"/>
<circle cx="272.7" cy="226.9" r="2.8" fill="#00FF00"/><circle cx="272.2" cy="226.4" r="0.8" fill="#fff" opacity="0.85"/>
<text x="289.5" y="231.1" font-size="12">0.33 nW</text>
<line x1="258.6" y1="240.8" x2="286.8" y2="240.8" stroke="#FF0000" stroke-width="1.3"/>
<circle cx="272.7" cy="240.8" r="2.8" fill="#FF0000"/><circle cx="272.2" cy="240.3" r="0.8" fill="#fff" opacity="0.85"/>
<text x="289.5" y="245.0" font-size="12">48.4 pW</text>
<line x1="258.6" y1="255" x2="286.8" y2="255" stroke="#000000" stroke-width="1.3"/>
<circle cx="272.7" cy="255.0" r="2.8" fill="#000000"/><circle cx="272.2" cy="254.5" r="0.8" fill="#fff" opacity="0.85"/>
<text x="289.5" y="259.2" font-size="12">Dark</text></g>
<g font-family='"Liberation Sans", sans-serif' font-weight="bold" fill="#000"><rect x="616" y="160.2" width="81.70000000000005" height="102.30000000000001" fill="#fff" stroke="#555" stroke-width="1"/>
<text x="617.4" y="174.4" font-size="11" textLength="79.6" lengthAdjust="spacingAndGlyphs">Power (1/μm<tspan font-size="7.5" dy="-4.5">2</tspan><tspan dy="4.5">)</tspan></text>
<line x1="617.4" y1="184.4" x2="644.6" y2="184.4" stroke="#FF8000" stroke-width="1.3"/>
<circle cx="631.0" cy="184.4" r="2.8" fill="#FF8000"/><circle cx="630.5" cy="183.9" r="0.8" fill="#fff" opacity="0.85"/>
<text x="648" y="188.6" font-size="12">61 nW</text>
<line x1="617.4" y1="198.5" x2="644.6" y2="198.5" stroke="#3EE3EE" stroke-width="1.3"/>
<circle cx="631.0" cy="198.5" r="2.8" fill="#3EE3EE"/><circle cx="630.5" cy="198.0" r="0.8" fill="#fff" opacity="0.85"/>
<text x="648" y="202.7" font-size="12">5.3 nW</text>
<line x1="617.4" y1="212.3" x2="644.6" y2="212.3" stroke="#0000FF" stroke-width="1.3"/>
<circle cx="631.0" cy="212.3" r="2.8" fill="#0000FF"/><circle cx="630.5" cy="211.8" r="0.8" fill="#fff" opacity="0.85"/>
<text x="648" y="216.5" font-size="12">1.1 nW</text>
<line x1="617.4" y1="226.2" x2="644.6" y2="226.2" stroke="#00FF00" stroke-width="1.3"/>
<circle cx="631.0" cy="226.2" r="2.8" fill="#00FF00"/><circle cx="630.5" cy="225.7" r="0.8" fill="#fff" opacity="0.85"/>
<text x="648" y="230.39999999999998" font-size="12">0.2 nW</text>
<line x1="617.4" y1="240.2" x2="644.6" y2="240.2" stroke="#FF0000" stroke-width="1.3"/>
<circle cx="631.0" cy="240.2" r="2.8" fill="#FF0000"/><circle cx="630.5" cy="239.7" r="0.8" fill="#fff" opacity="0.85"/>
<text x="648" y="244.39999999999998" font-size="12">0.14 nW</text>
<line x1="617.4" y1="254.3" x2="644.6" y2="254.3" stroke="#000000" stroke-width="1.3"/>
<circle cx="631.0" cy="254.3" r="2.8" fill="#000000"/><circle cx="630.5" cy="253.8" r="0.8" fill="#fff" opacity="0.85"/>
<text x="648" y="258.5" font-size="12">Dark</text></g>
<g font-family='"Liberation Sans", sans-serif' font-weight="bold" fill="#000"><rect x="247.5" y="321.3" width="83.69999999999999" height="103.5" fill="#fff" stroke="#555" stroke-width="1"/>
<text x="249.8" y="336.3" font-size="11" textLength="79.4" lengthAdjust="spacingAndGlyphs">Power (1/μm<tspan font-size="7.5" dy="-4.5">2</tspan><tspan dy="4.5">)</tspan></text>
<line x1="248.8" y1="346.4" x2="276.3" y2="346.4" stroke="#FF8000" stroke-width="1.3"/>
<circle cx="262.6" cy="346.4" r="2.8" fill="#FF8000"/><circle cx="262.1" cy="345.9" r="0.8" fill="#fff" opacity="0.85"/>
<text x="280.2" y="350.59999999999997" font-size="12">5.9 μW</text>
<line x1="248.8" y1="360.4" x2="276.3" y2="360.4" stroke="#FF00FF" stroke-width="1.3"/>
<circle cx="262.6" cy="360.4" r="2.8" fill="#FF00FF"/><circle cx="262.1" cy="359.9" r="0.8" fill="#fff" opacity="0.85"/>
<text x="280.2" y="364.59999999999997" font-size="12">35.7 nW</text>
<line x1="248.8" y1="374.3" x2="276.3" y2="374.3" stroke="#0000FF" stroke-width="1.3"/>
<circle cx="262.6" cy="374.3" r="2.8" fill="#0000FF"/><circle cx="262.1" cy="373.8" r="0.8" fill="#fff" opacity="0.85"/>
<text x="280.2" y="378.5" font-size="12">1.4 nW</text>
<line x1="248.8" y1="388.1" x2="276.3" y2="388.1" stroke="#00FF00" stroke-width="1.3"/>
<circle cx="262.6" cy="388.1" r="2.8" fill="#00FF00"/><circle cx="262.1" cy="387.6" r="0.8" fill="#fff" opacity="0.85"/>
<text x="280.2" y="392.3" font-size="12">0.33 nW</text>
<line x1="248.8" y1="402" x2="276.3" y2="402" stroke="#FF0000" stroke-width="1.3"/>
<circle cx="262.6" cy="402.0" r="2.8" fill="#FF0000"/><circle cx="262.1" cy="401.5" r="0.8" fill="#fff" opacity="0.85"/>
<text x="280.2" y="406.2" font-size="12">48.4 pW</text>
<line x1="248.8" y1="416" x2="276.3" y2="416" stroke="#000000" stroke-width="1.3"/>
<circle cx="262.6" cy="416.0" r="2.8" fill="#000000"/><circle cx="262.1" cy="415.5" r="0.8" fill="#fff" opacity="0.85"/>
<text x="280.2" y="420.2" font-size="12">Dark</text></g>
<g font-family='"Liberation Sans", sans-serif' font-weight="bold" fill="#000"><rect x="607.5" y="318.8" width="83.70000000000005" height="103.0" fill="#fff" stroke="#555" stroke-width="1"/>
<text x="609.5" y="333.6" font-size="11" textLength="80" lengthAdjust="spacingAndGlyphs">Power (1/μm<tspan font-size="7.5" dy="-4.5">2</tspan><tspan dy="4.5">)</tspan></text>
<line x1="608.8" y1="343.3" x2="636.3" y2="343.3" stroke="#FF8000" stroke-width="1.3"/>
<circle cx="622.5" cy="343.3" r="2.8" fill="#FF8000"/><circle cx="622.0" cy="342.8" r="0.8" fill="#fff" opacity="0.85"/>
<text x="639.2" y="347.5" font-size="12">61 nW</text>
<line x1="608.8" y1="357.2" x2="636.3" y2="357.2" stroke="#3EE3EE" stroke-width="1.3"/>
<circle cx="622.5" cy="357.2" r="2.8" fill="#3EE3EE"/><circle cx="622.0" cy="356.7" r="0.8" fill="#fff" opacity="0.85"/>
<text x="639.2" y="361.4" font-size="12">5.3 nW</text>
<line x1="608.8" y1="371.2" x2="636.3" y2="371.2" stroke="#0000FF" stroke-width="1.3"/>
<circle cx="622.5" cy="371.2" r="2.8" fill="#0000FF"/><circle cx="622.0" cy="370.7" r="0.8" fill="#fff" opacity="0.85"/>
<text x="639.2" y="375.4" font-size="12">1.1 nW</text>
<line x1="608.8" y1="385.1" x2="636.3" y2="385.1" stroke="#00FF00" stroke-width="1.3"/>
<circle cx="622.5" cy="385.1" r="2.8" fill="#00FF00"/><circle cx="622.0" cy="384.6" r="0.8" fill="#fff" opacity="0.85"/>
<text x="639.2" y="389.3" font-size="12">0.2 nW</text>
<line x1="608.8" y1="399.2" x2="636.3" y2="399.2" stroke="#FF0000" stroke-width="1.3"/>
<circle cx="622.5" cy="399.2" r="2.8" fill="#FF0000"/><circle cx="622.0" cy="398.7" r="0.8" fill="#fff" opacity="0.85"/>
<text x="639.2" y="403.4" font-size="12">0.14 nW</text>
<line x1="608.8" y1="413" x2="636.3" y2="413" stroke="#000000" stroke-width="1.3"/>
<circle cx="622.5" cy="413.0" r="2.8" fill="#000000"/><circle cx="622.0" cy="412.5" r="0.8" fill="#fff" opacity="0.85"/>
<text x="639.2" y="417.2" font-size="12">Dark</text></g>
<line x1="86.8" y1="266.3" x2="64.20" y2="311.68" stroke="#000" stroke-width="1.8"/><path d="M61.30 317.50 L61.87 308.29 L68.31 311.50 Z" fill="#000"/>
<line x1="226.5" y1="264.8" x2="331.73" y2="314.81" stroke="#000" stroke-width="1.8"/><path d="M337.60 317.60 L328.38 317.20 L331.47 310.70 Z" fill="#000"/>
<line x1="447.6" y1="265.6" x2="423.65" y2="305.43" stroke="#000" stroke-width="1.8"/><path d="M420.30 311.00 L421.60 301.86 L427.77 305.57 Z" fill="#000"/>
<line x1="586.0" y1="264.5" x2="684.01" y2="305.97" stroke="#000" stroke-width="1.8"/><path d="M690.00 308.50 L680.77 308.50 L683.57 301.87 Z" fill="#000"/>
</svg></body></html>
